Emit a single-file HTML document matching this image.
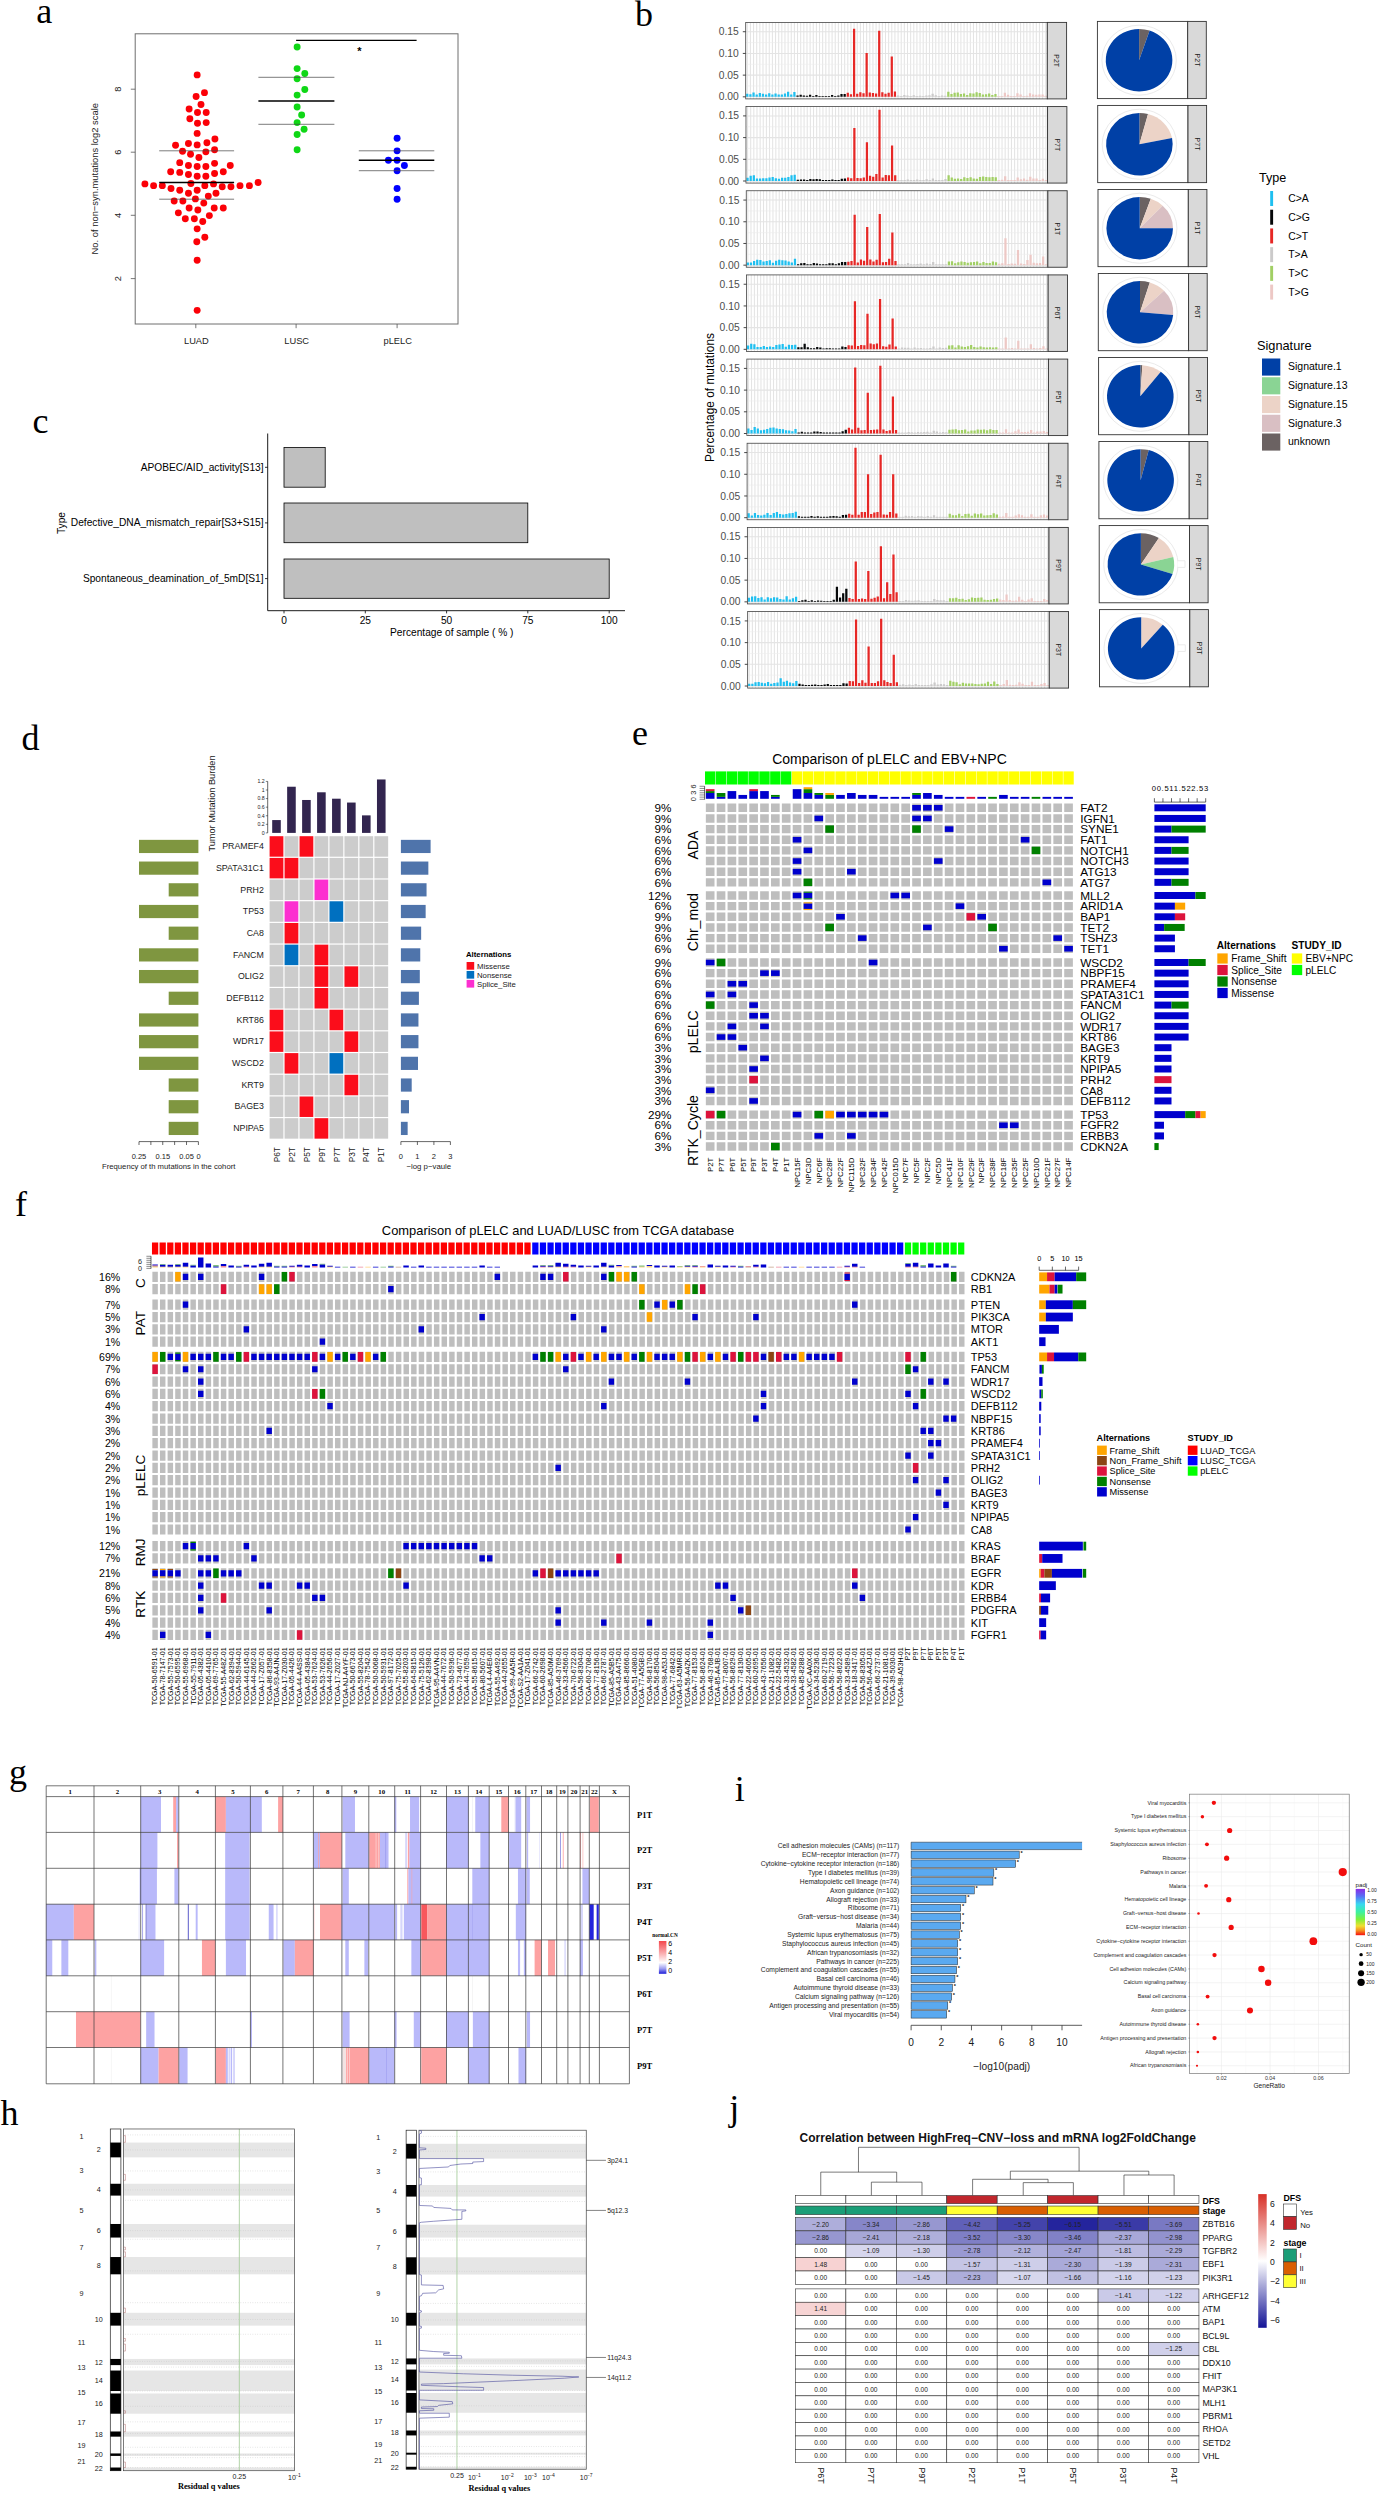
<!DOCTYPE html>
<html lang="en"><head><meta charset="utf-8"><title>Figure</title>
<style>
html,body{margin:0;padding:0;background:#fff;}
body{width:1378px;height:2494px;overflow:hidden;}
svg{display:block;font-family:"Liberation Sans", Arial, Helvetica, sans-serif;}
svg .sf{font-family:"Liberation Serif", "Times New Roman", serif;}
</style></head><body>
<svg width="1378" height="2494" viewBox="0 0 1378 2494">
<rect x="0" y="0" width="1378" height="2494" fill="#fff"/>
<g id="pa"><text x="36.3" y="23.4" font-size="36" class="sf">a</text>
<rect x="135.2" y="33.8" width="322.8" height="290.2" fill="#fff" stroke="#6e6e6e" stroke-width="1"/>
<line x1="130.8" y1="89.2" x2="135.2" y2="89.2" stroke="#555" stroke-width="0.8"/>
<text x="121.3" y="89.2" font-size="9.3" text-anchor="middle" fill="#222" transform="rotate(-90 121.3 89.2)">8</text>
<line x1="130.8" y1="152.2" x2="135.2" y2="152.2" stroke="#555" stroke-width="0.8"/>
<text x="121.3" y="152.2" font-size="9.3" text-anchor="middle" fill="#222" transform="rotate(-90 121.3 152.2)">6</text>
<line x1="130.8" y1="215.3" x2="135.2" y2="215.3" stroke="#555" stroke-width="0.8"/>
<text x="121.3" y="215.3" font-size="9.3" text-anchor="middle" fill="#222" transform="rotate(-90 121.3 215.3)">4</text>
<line x1="130.8" y1="278.6" x2="135.2" y2="278.6" stroke="#555" stroke-width="0.8"/>
<text x="121.3" y="278.6" font-size="9.3" text-anchor="middle" fill="#222" transform="rotate(-90 121.3 278.6)">2</text>
<text x="97.9" y="178.7" font-size="9.4" text-anchor="middle" fill="#222" transform="rotate(-90 97.9 178.7)">No. of non−syn.mutations log2 scale</text>
<line x1="195.8" y1="324" x2="195.8" y2="328.2" stroke="#555" stroke-width="0.8"/>
<text x="196.4" y="344.2" font-size="9.3" text-anchor="middle" fill="#222">LUAD</text>
<line x1="296.1" y1="324" x2="296.1" y2="328.2" stroke="#555" stroke-width="0.8"/>
<text x="296.7" y="344.2" font-size="9.3" text-anchor="middle" fill="#222">LUSC</text>
<line x1="397.1" y1="324" x2="397.1" y2="328.2" stroke="#555" stroke-width="0.8"/>
<text x="397.7" y="344.2" font-size="9.3" text-anchor="middle" fill="#222">pLELC</text>
<g fill="#fb0007"><circle cx="197.16" cy="74.89" r="3.45"/><circle cx="204.47" cy="92.66" r="3.45"/><circle cx="196.11" cy="96.49" r="3.45"/><circle cx="200.99" cy="104.5" r="3.45"/><circle cx="189.14" cy="109.03" r="3.45"/><circle cx="197.5" cy="112.51" r="3.45"/><circle cx="206.21" cy="112.51" r="3.45"/><circle cx="189.84" cy="118.78" r="3.45"/><circle cx="197.5" cy="123.31" r="3.45"/><circle cx="206.21" cy="122.61" r="3.45"/><circle cx="197.16" cy="133.41" r="3.45"/><circle cx="214.92" cy="138.98" r="3.45"/><circle cx="188.45" cy="143.51" r="3.45"/><circle cx="197.16" cy="144.91" r="3.45"/><circle cx="206.91" cy="142.82" r="3.45"/><circle cx="175.56" cy="145.25" r="3.45"/><circle cx="182.53" cy="151.18" r="3.45"/><circle cx="190.54" cy="154.31" r="3.45"/><circle cx="198.9" cy="157.45" r="3.45"/><circle cx="205.86" cy="151.87" r="3.45"/><circle cx="214.57" cy="149.78" r="3.45"/><circle cx="179.74" cy="162.67" r="3.45"/><circle cx="188.45" cy="165.46" r="3.45"/><circle cx="197.16" cy="166.5" r="3.45"/><circle cx="205.86" cy="166.5" r="3.45"/><circle cx="214.57" cy="163.37" r="3.45"/><circle cx="230.25" cy="165.46" r="3.45"/><circle cx="170.68" cy="171.73" r="3.45"/><circle cx="179.74" cy="172.42" r="3.45"/><circle cx="188.45" cy="174.51" r="3.45"/><circle cx="197.16" cy="176.26" r="3.45"/><circle cx="205.86" cy="176.26" r="3.45"/><circle cx="214.57" cy="173.47" r="3.45"/><circle cx="223.28" cy="171.73" r="3.45"/><circle cx="144.91" cy="183.92" r="3.45"/><circle cx="153.61" cy="185.66" r="3.45"/><circle cx="162.32" cy="185.66" r="3.45"/><circle cx="171.03" cy="188.45" r="3.45"/><circle cx="179.74" cy="190.19" r="3.45"/><circle cx="188.45" cy="193.32" r="3.45"/><circle cx="197.16" cy="190.19" r="3.45"/><circle cx="190.89" cy="183.57" r="3.45"/><circle cx="204.82" cy="185.66" r="3.45"/><circle cx="213.53" cy="183.92" r="3.45"/><circle cx="222.24" cy="186.71" r="3.45"/><circle cx="230.94" cy="186.71" r="3.45"/><circle cx="240" cy="185.66" r="3.45"/><circle cx="249.4" cy="185.66" r="3.45"/><circle cx="258.11" cy="182.53" r="3.45"/><circle cx="215.97" cy="193.32" r="3.45"/><circle cx="208.3" cy="196.11" r="3.45"/><circle cx="195.41" cy="198.9" r="3.45"/><circle cx="203.77" cy="203.08" r="3.45"/><circle cx="174.17" cy="200.99" r="3.45"/><circle cx="182.87" cy="200.99" r="3.45"/><circle cx="189.14" cy="207.95" r="3.45"/><circle cx="197.85" cy="210.04" r="3.45"/><circle cx="209.35" cy="215.62" r="3.45"/><circle cx="214.22" cy="207.95" r="3.45"/><circle cx="223.28" cy="207.95" r="3.45"/><circle cx="178.35" cy="212.83" r="3.45"/><circle cx="185.31" cy="218.75" r="3.45"/><circle cx="194.37" cy="218.75" r="3.45"/><circle cx="202.73" cy="221.54" r="3.45"/><circle cx="197.16" cy="228.85" r="3.45"/><circle cx="204.82" cy="237.21" r="3.45"/><circle cx="196.81" cy="241.74" r="3.45"/><circle cx="197.16" cy="260.2" r="3.45"/><circle cx="197.16" cy="310.36" r="3.45"/></g>
<g fill="#0fd716"><circle cx="297.13" cy="47.02" r="3.45"/><circle cx="297.13" cy="68.62" r="3.45"/><circle cx="304.79" cy="73.5" r="3.45"/><circle cx="297.13" cy="78.72" r="3.45"/><circle cx="304.79" cy="89.52" r="3.45"/><circle cx="297.13" cy="95.09" r="3.45"/><circle cx="297.13" cy="106.94" r="3.45"/><circle cx="301.65" cy="114.95" r="3.45"/><circle cx="297.13" cy="122.61" r="3.45"/><circle cx="304.09" cy="129.23" r="3.45"/><circle cx="297.13" cy="134.46" r="3.45"/><circle cx="297.13" cy="149.78" r="3.45"/></g>
<g fill="#0000ff"><circle cx="397.1" cy="138.29" r="3.45"/><circle cx="397.1" cy="150.83" r="3.45"/><circle cx="388.39" cy="160.23" r="3.45"/><circle cx="397.1" cy="160.23" r="3.45"/><circle cx="404.41" cy="165.46" r="3.45"/><circle cx="397.1" cy="170.68" r="3.45"/><circle cx="397.1" cy="188.45" r="3.45"/><circle cx="397.1" cy="199.25" r="3.45"/></g>
<line x1="159.2" y1="182.5" x2="234.1" y2="182.5" stroke="#000" stroke-width="1.4"/>
<line x1="159.2" y1="150.8" x2="234.1" y2="150.8" stroke="#444" stroke-width="0.7"/>
<line x1="159.2" y1="199.2" x2="234.1" y2="199.2" stroke="#444" stroke-width="0.7"/>
<line x1="258.4" y1="101" x2="334.4" y2="101" stroke="#000" stroke-width="1.4"/>
<line x1="258.4" y1="77.3" x2="334.4" y2="77.3" stroke="#444" stroke-width="0.7"/>
<line x1="258.4" y1="124.3" x2="334.4" y2="124.3" stroke="#444" stroke-width="0.7"/>
<line x1="358.8" y1="160.2" x2="434.3" y2="160.2" stroke="#000" stroke-width="1.4"/>
<line x1="358.8" y1="150.8" x2="434.3" y2="150.8" stroke="#444" stroke-width="0.7"/>
<line x1="358.8" y1="170.7" x2="434.3" y2="170.7" stroke="#444" stroke-width="0.7"/>
<line x1="296.1" y1="40.4" x2="416.6" y2="40.4" stroke="#000" stroke-width="1.3"/>
<text x="359.5" y="55" font-size="11" text-anchor="middle" font-weight="bold">*</text></g>
<g id="pb"><text x="635" y="25.5" font-size="36" class="sf">b</text>
<text x="0" y="0" font-size="11.9" text-anchor="middle" transform="translate(713.6 397.5) scale(1.08 1) rotate(-90)">Percentage of mutations</text>
<rect x="745.7" y="22.4" width="301.6" height="76.5" fill="#fff"/>
<path d="M747.27 22.4V98.9M750.41 22.4V98.9M753.55 22.4V98.9M756.7 22.4V98.9M759.84 22.4V98.9M762.98 22.4V98.9M766.12 22.4V98.9M769.26 22.4V98.9M772.4 22.4V98.9M775.55 22.4V98.9M778.69 22.4V98.9M781.83 22.4V98.9M784.97 22.4V98.9M788.11 22.4V98.9M791.25 22.4V98.9M794.4 22.4V98.9M797.54 22.4V98.9M800.68 22.4V98.9M803.82 22.4V98.9M806.96 22.4V98.9M810.1 22.4V98.9M813.25 22.4V98.9M816.39 22.4V98.9M819.53 22.4V98.9M822.67 22.4V98.9M825.81 22.4V98.9M828.95 22.4V98.9M832.1 22.4V98.9M835.24 22.4V98.9M838.38 22.4V98.9M841.52 22.4V98.9M844.66 22.4V98.9M847.8 22.4V98.9M850.95 22.4V98.9M854.09 22.4V98.9M857.23 22.4V98.9M860.37 22.4V98.9M863.51 22.4V98.9M866.65 22.4V98.9M869.8 22.4V98.9M872.94 22.4V98.9M876.08 22.4V98.9M879.22 22.4V98.9M882.36 22.4V98.9M885.5 22.4V98.9M888.65 22.4V98.9M891.79 22.4V98.9M894.93 22.4V98.9M898.07 22.4V98.9M901.21 22.4V98.9M904.35 22.4V98.9M907.5 22.4V98.9M910.64 22.4V98.9M913.78 22.4V98.9M916.92 22.4V98.9M920.06 22.4V98.9M923.2 22.4V98.9M926.35 22.4V98.9M929.49 22.4V98.9M932.63 22.4V98.9M935.77 22.4V98.9M938.91 22.4V98.9M942.05 22.4V98.9M945.2 22.4V98.9M948.34 22.4V98.9M951.48 22.4V98.9M954.62 22.4V98.9M957.76 22.4V98.9M960.9 22.4V98.9M964.05 22.4V98.9M967.19 22.4V98.9M970.33 22.4V98.9M973.47 22.4V98.9M976.61 22.4V98.9M979.75 22.4V98.9M982.9 22.4V98.9M986.04 22.4V98.9M989.18 22.4V98.9M992.32 22.4V98.9M995.46 22.4V98.9M998.6 22.4V98.9M1001.75 22.4V98.9M1004.89 22.4V98.9M1008.03 22.4V98.9M1011.17 22.4V98.9M1014.31 22.4V98.9M1017.45 22.4V98.9M1020.6 22.4V98.9M1023.74 22.4V98.9M1026.88 22.4V98.9M1030.02 22.4V98.9M1033.16 22.4V98.9M1036.3 22.4V98.9M1039.45 22.4V98.9M1042.59 22.4V98.9M1045.73 22.4V98.9M745.7 96.83H1047.3M745.7 75.13H1047.3M745.7 53.43H1047.3M745.7 31.73H1047.3" fill="none" stroke="#e4e4e4" stroke-width="1.05"/>
<path d="M745.7 85.98H1047.3M745.7 64.28H1047.3M745.7 42.58H1047.3" fill="none" stroke="#ececec" stroke-width="0.6"/>
<path d="M747.27 96.83v-3.02M750.41 96.83v-2.49M753.55 96.83v-4.28M756.7 96.83v-2.29M759.84 96.83v-3.81M762.98 96.83v-3.17M766.12 96.83v-2.26M769.26 96.83v-3.7M772.4 96.83v-2.22M775.55 96.83v-3.42M778.69 96.83v-2.29M781.83 96.83v-2.33M784.97 96.83v-3.38M788.11 96.83v-5.05M791.25 96.83v-2.41M794.4 96.83v-4.86" fill="none" stroke="#1ebff0" stroke-width="2.24"/>
<path d="M797.54 96.83v-1.43M800.68 96.83v-2.13M803.82 96.83v-1.33M806.96 96.83v-0.98M810.1 96.83v-2.2M813.25 96.83v-0.9M816.39 96.83v-1.93M819.53 96.83v-0.9M822.67 96.83v-0.9M825.81 96.83v-0.9M828.95 96.83v-0.9M832.1 96.83v-1.83M835.24 96.83v-0.9M838.38 96.83v-1.34M841.52 96.83v-2.78M844.66 96.83v-2.84" fill="none" stroke="#050708" stroke-width="2.24"/>
<path d="M847.8 96.83v-4.09M850.95 96.83v-2.69M854.09 96.83v-68.14M857.23 96.83v-3.02M860.37 96.83v-4.58M863.51 96.83v-3.68M866.65 96.83v-43.83M869.8 96.83v-4.23M872.94 96.83v-3.77M876.08 96.83v-3.28M879.22 96.83v-65.97M882.36 96.83v-4.65M885.5 96.83v-3.12M888.65 96.83v-4.19M891.79 96.83v-40.36M894.93 96.83v-5.34" fill="none" stroke="#e62725" stroke-width="2.24"/>
<path d="M898.07 96.83v-1.41M901.21 96.83v-0.9M904.35 96.83v-1.91M907.5 96.83v-1.4M910.64 96.83v-0.9M913.78 96.83v-1.47M916.92 96.83v-0.9M920.06 96.83v-0.98M923.2 96.83v-0.9M926.35 96.83v-1.3M929.49 96.83v-1.48M932.63 96.83v-3.15M935.77 96.83v-1.7M938.91 96.83v-0.9M942.05 96.83v-1.35M945.2 96.83v-1.16" fill="none" stroke="#cbcaca" stroke-width="2.24"/>
<path d="M948.34 96.83v-4.96M951.48 96.83v-2.75M954.62 96.83v-3.98M957.76 96.83v-4.36M960.9 96.83v-2.81M964.05 96.83v-3.39M967.19 96.83v-1.81M970.33 96.83v-3.52M973.47 96.83v-3.34M976.61 96.83v-4.53M979.75 96.83v-3.92M982.9 96.83v-2.29M986.04 96.83v-2.55M989.18 96.83v-3.41M992.32 96.83v-1.76M995.46 96.83v-2.77" fill="none" stroke="#a1cf64" stroke-width="2.24"/>
<path d="M998.6 96.83v-0.9M1001.75 96.83v-0.9M1004.89 96.83v-4.06M1008.03 96.83v-1.97M1011.17 96.83v-0.9M1014.31 96.83v-0.9M1017.45 96.83v-3.69M1020.6 96.83v-2.25M1023.74 96.83v-0.9M1026.88 96.83v-1.2M1030.02 96.83v-3.56M1033.16 96.83v-2.28M1036.3 96.83v-2.11M1039.45 96.83v-2.23M1042.59 96.83v-2.32M1045.73 96.83v-1.13" fill="none" stroke="#edc8c5" stroke-width="2.24"/>
<rect x="745.7" y="22.4" width="301.6" height="76.5" fill="none" stroke="#444" stroke-width="0.8"/>
<rect x="1047.3" y="22.4" width="19.3" height="76.5" fill="#d9d9d9" stroke="#333" stroke-width="0.9"/>
<text x="1056.9" y="60.65" font-size="7" text-anchor="middle" fill="#1a1a1a" transform="rotate(90 1056.9 60.65)" dy="2.5">P2T</text>
<line x1="742.8" y1="96.83" x2="745.7" y2="96.83" stroke="#333" stroke-width="0.9"/>
<text x="738.8" y="100.43" font-size="10.1" text-anchor="end" fill="#4d4d4d" transform="translate(738.8 96.83) scale(1.02 1) translate(-738.8 -96.83)">0.00</text>
<line x1="742.8" y1="75.13" x2="745.7" y2="75.13" stroke="#333" stroke-width="0.9"/>
<text x="738.8" y="78.73" font-size="10.1" text-anchor="end" fill="#4d4d4d" transform="translate(738.8 75.13) scale(1.02 1) translate(-738.8 -75.13)">0.05</text>
<line x1="742.8" y1="53.43" x2="745.7" y2="53.43" stroke="#333" stroke-width="0.9"/>
<text x="738.8" y="57.03" font-size="10.1" text-anchor="end" fill="#4d4d4d" transform="translate(738.8 53.43) scale(1.02 1) translate(-738.8 -53.43)">0.10</text>
<line x1="742.8" y1="31.73" x2="745.7" y2="31.73" stroke="#333" stroke-width="0.9"/>
<text x="738.8" y="35.33" font-size="10.1" text-anchor="end" fill="#4d4d4d" transform="translate(738.8 31.73) scale(1.02 1) translate(-738.8 -31.73)">0.15</text>
<rect x="1097.4" y="21.4" width="90.3" height="77.2" fill="#fff" stroke="#333" stroke-width="0.9"/>
<rect x="1187.7" y="21.4" width="18.6" height="77.2" fill="#d9d9d9" stroke="#333" stroke-width="0.9"/>
<text x="1197" y="60" font-size="7" text-anchor="middle" fill="#1a1a1a" transform="rotate(90 1197 60)" dy="2.5">P2T</text>
<ellipse cx="1139.1" cy="60.2" rx="37.2" ry="35" fill="none" stroke="#ebebeb" stroke-width="1"/>
<path d="M1139.1 60.2L1139.1 29A33.3 31.2 0 0 1 1149.61 30.6Z" fill="#6b6262"/>
<path d="M1139.1 60.2L1149.61 30.6A33.3 31.2 0 1 1 1139.1 29Z" fill="#0040a6"/>
<rect x="745.98" y="106.57" width="301.6" height="76.5" fill="#fff"/>
<path d="M747.55 106.57V183.07M750.69 106.57V183.07M753.83 106.57V183.07M756.98 106.57V183.07M760.12 106.57V183.07M763.26 106.57V183.07M766.4 106.57V183.07M769.54 106.57V183.07M772.68 106.57V183.07M775.83 106.57V183.07M778.97 106.57V183.07M782.11 106.57V183.07M785.25 106.57V183.07M788.39 106.57V183.07M791.53 106.57V183.07M794.68 106.57V183.07M797.82 106.57V183.07M800.96 106.57V183.07M804.1 106.57V183.07M807.24 106.57V183.07M810.38 106.57V183.07M813.53 106.57V183.07M816.67 106.57V183.07M819.81 106.57V183.07M822.95 106.57V183.07M826.09 106.57V183.07M829.23 106.57V183.07M832.38 106.57V183.07M835.52 106.57V183.07M838.66 106.57V183.07M841.8 106.57V183.07M844.94 106.57V183.07M848.08 106.57V183.07M851.23 106.57V183.07M854.37 106.57V183.07M857.51 106.57V183.07M860.65 106.57V183.07M863.79 106.57V183.07M866.93 106.57V183.07M870.08 106.57V183.07M873.22 106.57V183.07M876.36 106.57V183.07M879.5 106.57V183.07M882.64 106.57V183.07M885.78 106.57V183.07M888.93 106.57V183.07M892.07 106.57V183.07M895.21 106.57V183.07M898.35 106.57V183.07M901.49 106.57V183.07M904.63 106.57V183.07M907.78 106.57V183.07M910.92 106.57V183.07M914.06 106.57V183.07M917.2 106.57V183.07M920.34 106.57V183.07M923.48 106.57V183.07M926.63 106.57V183.07M929.77 106.57V183.07M932.91 106.57V183.07M936.05 106.57V183.07M939.19 106.57V183.07M942.33 106.57V183.07M945.48 106.57V183.07M948.62 106.57V183.07M951.76 106.57V183.07M954.9 106.57V183.07M958.04 106.57V183.07M961.18 106.57V183.07M964.33 106.57V183.07M967.47 106.57V183.07M970.61 106.57V183.07M973.75 106.57V183.07M976.89 106.57V183.07M980.03 106.57V183.07M983.18 106.57V183.07M986.32 106.57V183.07M989.46 106.57V183.07M992.6 106.57V183.07M995.74 106.57V183.07M998.88 106.57V183.07M1002.03 106.57V183.07M1005.17 106.57V183.07M1008.31 106.57V183.07M1011.45 106.57V183.07M1014.59 106.57V183.07M1017.73 106.57V183.07M1020.88 106.57V183.07M1024.02 106.57V183.07M1027.16 106.57V183.07M1030.3 106.57V183.07M1033.44 106.57V183.07M1036.58 106.57V183.07M1039.73 106.57V183.07M1042.87 106.57V183.07M1046.01 106.57V183.07M745.98 181H1047.58M745.98 159.3H1047.58M745.98 137.6H1047.58M745.98 115.9H1047.58" fill="none" stroke="#e4e4e4" stroke-width="1.05"/>
<path d="M745.98 170.15H1047.58M745.98 148.45H1047.58M745.98 126.75H1047.58" fill="none" stroke="#ececec" stroke-width="0.6"/>
<path d="M747.55 181v-3.14M750.69 181v-5.31M753.83 181v-5.66M756.98 181v-2.49M760.12 181v-2.56M763.26 181v-2.72M766.4 181v-2.73M769.54 181v-3.61M772.68 181v-4.02M775.83 181v-2.82M778.97 181v-2.17M782.11 181v-3.36M785.25 181v-3.18M788.39 181v-3.93M791.53 181v-5.64M794.68 181v-6.18" fill="none" stroke="#1ebff0" stroke-width="2.24"/>
<path d="M797.82 181v-1.2M800.96 181v-1.41M804.1 181v-1.53M807.24 181v-0.9M810.38 181v-2.02M813.53 181v-1.75M816.67 181v-1.97M819.81 181v-1.79M822.95 181v-0.97M826.09 181v-0.99M829.23 181v-0.9M832.38 181v-1.44M835.52 181v-0.9M838.66 181v-0.9M841.8 181v-2.22M844.94 181v-2.53" fill="none" stroke="#050708" stroke-width="2.24"/>
<path d="M848.08 181v-3.4M851.23 181v-2.67M854.37 181v-52.95M857.51 181v-2.88M860.65 181v-2.77M863.79 181v-3.48M866.93 181v-38.63M870.08 181v-5.34M873.22 181v-4.33M876.36 181v-6.94M879.5 181v-71.18M882.64 181v-3.43M885.78 181v-6.08M888.93 181v-5.64M892.07 181v-35.59M895.21 181v-5.83" fill="none" stroke="#e62725" stroke-width="2.24"/>
<path d="M898.35 181v-0.94M901.49 181v-0.97M904.63 181v-0.9M907.78 181v-1.39M910.92 181v-0.9M914.06 181v-0.9M917.2 181v-1.61M920.34 181v-0.9M923.48 181v-0.9M926.63 181v-1.85M929.77 181v-1.05M932.91 181v-2.5M936.05 181v-1.07M939.19 181v-0.9M942.33 181v-1.05M945.48 181v-1.91" fill="none" stroke="#cbcaca" stroke-width="2.24"/>
<path d="M948.62 181v-5.64M951.76 181v-3.5M954.9 181v-2.23M958.04 181v-2.5M961.18 181v-2.01M964.33 181v-3.75M967.47 181v-2.98M970.61 181v-3.78M973.75 181v-2.4M976.89 181v-2.14M980.03 181v-3.89M983.18 181v-4.5M986.32 181v-4.03M989.46 181v-3.87M992.6 181v-3.91M995.74 181v-3.64" fill="none" stroke="#a1cf64" stroke-width="2.24"/>
<path d="M998.88 181v-0.9M1002.03 181v-1.36M1005.17 181v-4.83M1008.31 181v-0.9M1011.45 181v-0.9M1014.59 181v-0.9M1017.73 181v-3.44M1020.88 181v-1.78M1024.02 181v-2.48M1027.16 181v-1.2M1030.3 181v-4.23M1033.44 181v-2.57M1036.58 181v-2.48M1039.73 181v-1.02M1042.87 181v-2.24M1046.01 181v-0.9" fill="none" stroke="#edc8c5" stroke-width="2.24"/>
<rect x="745.98" y="106.57" width="301.6" height="76.5" fill="none" stroke="#444" stroke-width="0.8"/>
<rect x="1047.58" y="106.57" width="19.3" height="76.5" fill="#d9d9d9" stroke="#333" stroke-width="0.9"/>
<text x="1057.18" y="144.82" font-size="7" text-anchor="middle" fill="#1a1a1a" transform="rotate(90 1057.18 144.82)" dy="2.5">P7T</text>
<line x1="743.08" y1="181" x2="745.98" y2="181" stroke="#333" stroke-width="0.9"/>
<text x="739.08" y="184.6" font-size="10.1" text-anchor="end" fill="#4d4d4d" transform="translate(739.08 181) scale(1.02 1) translate(-739.08 -181)">0.00</text>
<line x1="743.08" y1="159.3" x2="745.98" y2="159.3" stroke="#333" stroke-width="0.9"/>
<text x="739.08" y="162.9" font-size="10.1" text-anchor="end" fill="#4d4d4d" transform="translate(739.08 159.3) scale(1.02 1) translate(-739.08 -159.3)">0.05</text>
<line x1="743.08" y1="137.6" x2="745.98" y2="137.6" stroke="#333" stroke-width="0.9"/>
<text x="739.08" y="141.2" font-size="10.1" text-anchor="end" fill="#4d4d4d" transform="translate(739.08 137.6) scale(1.02 1) translate(-739.08 -137.6)">0.10</text>
<line x1="743.08" y1="115.9" x2="745.98" y2="115.9" stroke="#333" stroke-width="0.9"/>
<text x="739.08" y="119.5" font-size="10.1" text-anchor="end" fill="#4d4d4d" transform="translate(739.08 115.9) scale(1.02 1) translate(-739.08 -115.9)">0.15</text>
<rect x="1097.7" y="105.43" width="90.3" height="77.2" fill="#fff" stroke="#333" stroke-width="0.9"/>
<rect x="1188" y="105.43" width="18.6" height="77.2" fill="#d9d9d9" stroke="#333" stroke-width="0.9"/>
<text x="1197.3" y="144.03" font-size="7" text-anchor="middle" fill="#1a1a1a" transform="rotate(90 1197.3 144.03)" dy="2.5">P7T</text>
<ellipse cx="1139.4" cy="144.23" rx="37.2" ry="35" fill="none" stroke="#ebebeb" stroke-width="1"/>
<path d="M1139.4 144.23L1139.4 113.03A33.3 31.2 0 0 1 1148.02 114.09Z" fill="#6b6262"/>
<path d="M1139.4 144.23L1148.02 114.09A33.3 31.2 0 0 1 1172.05 138.12Z" fill="#ecd3c7"/>
<path d="M1139.4 144.23L1172.05 138.12A33.3 31.2 0 1 1 1139.4 113.03Z" fill="#0040a6"/>
<rect x="746.26" y="190.74" width="301.6" height="76.5" fill="#fff"/>
<path d="M747.83 190.74V267.24M750.97 190.74V267.24M754.11 190.74V267.24M757.26 190.74V267.24M760.4 190.74V267.24M763.54 190.74V267.24M766.68 190.74V267.24M769.82 190.74V267.24M772.96 190.74V267.24M776.11 190.74V267.24M779.25 190.74V267.24M782.39 190.74V267.24M785.53 190.74V267.24M788.67 190.74V267.24M791.81 190.74V267.24M794.96 190.74V267.24M798.1 190.74V267.24M801.24 190.74V267.24M804.38 190.74V267.24M807.52 190.74V267.24M810.66 190.74V267.24M813.81 190.74V267.24M816.95 190.74V267.24M820.09 190.74V267.24M823.23 190.74V267.24M826.37 190.74V267.24M829.51 190.74V267.24M832.66 190.74V267.24M835.8 190.74V267.24M838.94 190.74V267.24M842.08 190.74V267.24M845.22 190.74V267.24M848.36 190.74V267.24M851.51 190.74V267.24M854.65 190.74V267.24M857.79 190.74V267.24M860.93 190.74V267.24M864.07 190.74V267.24M867.21 190.74V267.24M870.36 190.74V267.24M873.5 190.74V267.24M876.64 190.74V267.24M879.78 190.74V267.24M882.92 190.74V267.24M886.06 190.74V267.24M889.21 190.74V267.24M892.35 190.74V267.24M895.49 190.74V267.24M898.63 190.74V267.24M901.77 190.74V267.24M904.91 190.74V267.24M908.06 190.74V267.24M911.2 190.74V267.24M914.34 190.74V267.24M917.48 190.74V267.24M920.62 190.74V267.24M923.76 190.74V267.24M926.91 190.74V267.24M930.05 190.74V267.24M933.19 190.74V267.24M936.33 190.74V267.24M939.47 190.74V267.24M942.61 190.74V267.24M945.76 190.74V267.24M948.9 190.74V267.24M952.04 190.74V267.24M955.18 190.74V267.24M958.32 190.74V267.24M961.46 190.74V267.24M964.61 190.74V267.24M967.75 190.74V267.24M970.89 190.74V267.24M974.03 190.74V267.24M977.17 190.74V267.24M980.31 190.74V267.24M983.46 190.74V267.24M986.6 190.74V267.24M989.74 190.74V267.24M992.88 190.74V267.24M996.02 190.74V267.24M999.16 190.74V267.24M1002.31 190.74V267.24M1005.45 190.74V267.24M1008.59 190.74V267.24M1011.73 190.74V267.24M1014.87 190.74V267.24M1018.01 190.74V267.24M1021.16 190.74V267.24M1024.3 190.74V267.24M1027.44 190.74V267.24M1030.58 190.74V267.24M1033.72 190.74V267.24M1036.86 190.74V267.24M1040.01 190.74V267.24M1043.15 190.74V267.24M1046.29 190.74V267.24M746.26 265.17H1047.86M746.26 243.47H1047.86M746.26 221.77H1047.86M746.26 200.07H1047.86" fill="none" stroke="#e4e4e4" stroke-width="1.05"/>
<path d="M746.26 254.32H1047.86M746.26 232.62H1047.86M746.26 210.92H1047.86" fill="none" stroke="#ececec" stroke-width="0.6"/>
<path d="M747.83 265.17v-2.62M750.97 265.17v-2.64M754.11 265.17v-4.17M757.26 265.17v-5.39M760.4 265.17v-5.11M763.54 265.17v-3.59M766.68 265.17v-4.29M769.82 265.17v-4.93M772.96 265.17v-2.32M776.11 265.17v-4.32M779.25 265.17v-5.43M782.39 265.17v-4.85M785.53 265.17v-4.71M788.67 265.17v-3.58M791.81 265.17v-2.56M794.96 265.17v-6.46" fill="none" stroke="#1ebff0" stroke-width="2.24"/>
<path d="M798.1 265.17v-0.9M801.24 265.17v-1.8M804.38 265.17v-2.19M807.52 265.17v-0.98M810.66 265.17v-0.99M813.81 265.17v-2.13M816.95 265.17v-1.63M820.09 265.17v-0.9M823.23 265.17v-0.9M826.37 265.17v-0.9M829.51 265.17v-2.03M832.66 265.17v-1.81M835.8 265.17v-0.9M838.94 265.17v-1.86M842.08 265.17v-3.23M845.22 265.17v-3.28" fill="none" stroke="#050708" stroke-width="2.24"/>
<path d="M848.36 265.17v-3.44M851.51 265.17v-4.1M854.65 265.17v-50.34M857.79 265.17v-2.62M860.93 265.17v-5.74M864.07 265.17v-4.46M867.21 265.17v-38.19M870.36 265.17v-5.58M873.5 265.17v-3.7M876.64 265.17v-5.33M879.78 265.17v-51.21M882.92 265.17v-3.03M886.06 265.17v-3.15M889.21 265.17v-6.51M892.35 265.17v-32.55M895.49 265.17v-4.23" fill="none" stroke="#e62725" stroke-width="2.24"/>
<path d="M898.63 265.17v-0.9M901.77 265.17v-0.9M904.91 265.17v-0.9M908.06 265.17v-2.09M911.2 265.17v-0.9M914.34 265.17v-0.93M917.48 265.17v-1.14M920.62 265.17v-1.76M923.76 265.17v-0.9M926.91 265.17v-1.78M930.05 265.17v-1M933.19 265.17v-3.09M936.33 265.17v-1.04M939.47 265.17v-0.9M942.61 265.17v-0.9M945.76 265.17v-0.9" fill="none" stroke="#cbcaca" stroke-width="2.24"/>
<path d="M948.9 265.17v-3.59M952.04 265.17v-3.84M955.18 265.17v-2.02M958.32 265.17v-2.8M961.46 265.17v-3.59M964.61 265.17v-3.05M967.75 265.17v-2.39M970.89 265.17v-2.94M974.03 265.17v-3.05M977.17 265.17v-3.79M980.31 265.17v-1.89M983.46 265.17v-3.06M986.6 265.17v-2.2M989.74 265.17v-2.27M992.88 265.17v-3.75M996.02 265.17v-2.9" fill="none" stroke="#a1cf64" stroke-width="2.24"/>
<path d="M999.16 265.17v-1.46M1002.31 265.17v-1.95M1005.45 265.17v-26.91M1008.59 265.17v-1.19M1011.73 265.17v-1.58M1014.87 265.17v-1.33M1018.01 265.17v-15.19M1021.16 265.17v-1.78M1024.3 265.17v-1.21M1027.44 265.17v-5.21M1030.58 265.17v-10.42M1033.72 265.17v-2.44M1036.86 265.17v-1.8M1040.01 265.17v-2.26M1043.15 265.17v-8.68M1046.29 265.17v-0.9" fill="none" stroke="#edc8c5" stroke-width="2.24"/>
<rect x="746.26" y="190.74" width="301.6" height="76.5" fill="none" stroke="#444" stroke-width="0.8"/>
<rect x="1047.86" y="190.74" width="19.3" height="76.5" fill="#d9d9d9" stroke="#333" stroke-width="0.9"/>
<text x="1057.46" y="228.99" font-size="7" text-anchor="middle" fill="#1a1a1a" transform="rotate(90 1057.46 228.99)" dy="2.5">P1T</text>
<line x1="743.36" y1="265.17" x2="746.26" y2="265.17" stroke="#333" stroke-width="0.9"/>
<text x="739.36" y="268.77" font-size="10.1" text-anchor="end" fill="#4d4d4d" transform="translate(739.36 265.17) scale(1.02 1) translate(-739.36 -265.17)">0.00</text>
<line x1="743.36" y1="243.47" x2="746.26" y2="243.47" stroke="#333" stroke-width="0.9"/>
<text x="739.36" y="247.07" font-size="10.1" text-anchor="end" fill="#4d4d4d" transform="translate(739.36 243.47) scale(1.02 1) translate(-739.36 -243.47)">0.05</text>
<line x1="743.36" y1="221.77" x2="746.26" y2="221.77" stroke="#333" stroke-width="0.9"/>
<text x="739.36" y="225.37" font-size="10.1" text-anchor="end" fill="#4d4d4d" transform="translate(739.36 221.77) scale(1.02 1) translate(-739.36 -221.77)">0.10</text>
<line x1="743.36" y1="200.07" x2="746.26" y2="200.07" stroke="#333" stroke-width="0.9"/>
<text x="739.36" y="203.67" font-size="10.1" text-anchor="end" fill="#4d4d4d" transform="translate(739.36 200.07) scale(1.02 1) translate(-739.36 -200.07)">0.15</text>
<rect x="1098" y="189.46" width="90.3" height="77.2" fill="#fff" stroke="#333" stroke-width="0.9"/>
<rect x="1188.3" y="189.46" width="18.6" height="77.2" fill="#d9d9d9" stroke="#333" stroke-width="0.9"/>
<text x="1197.6" y="228.06" font-size="7" text-anchor="middle" fill="#1a1a1a" transform="rotate(90 1197.6 228.06)" dy="2.5">P1T</text>
<ellipse cx="1139.7" cy="228.26" rx="37.2" ry="35" fill="none" stroke="#ebebeb" stroke-width="1"/>
<path d="M1139.7 228.26L1139.7 197.06A33.3 31.2 0 0 1 1150.76 198.83Z" fill="#6b6262"/>
<path d="M1139.7 228.26L1150.76 198.83A33.3 31.2 0 0 1 1162.66 205.67Z" fill="#ecd3c7"/>
<path d="M1139.7 228.26L1162.66 205.67A33.3 31.2 0 0 1 1173 228.26Z" fill="#d9bfc3"/>
<path d="M1139.7 228.26L1173 228.26A33.3 31.2 0 1 1 1139.7 197.06Z" fill="#0040a6"/>
<rect x="746.54" y="274.91" width="301.6" height="76.5" fill="#fff"/>
<path d="M748.11 274.91V351.41M751.25 274.91V351.41M754.39 274.91V351.41M757.54 274.91V351.41M760.68 274.91V351.41M763.82 274.91V351.41M766.96 274.91V351.41M770.1 274.91V351.41M773.24 274.91V351.41M776.39 274.91V351.41M779.53 274.91V351.41M782.67 274.91V351.41M785.81 274.91V351.41M788.95 274.91V351.41M792.09 274.91V351.41M795.24 274.91V351.41M798.38 274.91V351.41M801.52 274.91V351.41M804.66 274.91V351.41M807.8 274.91V351.41M810.94 274.91V351.41M814.09 274.91V351.41M817.23 274.91V351.41M820.37 274.91V351.41M823.51 274.91V351.41M826.65 274.91V351.41M829.79 274.91V351.41M832.94 274.91V351.41M836.08 274.91V351.41M839.22 274.91V351.41M842.36 274.91V351.41M845.5 274.91V351.41M848.64 274.91V351.41M851.79 274.91V351.41M854.93 274.91V351.41M858.07 274.91V351.41M861.21 274.91V351.41M864.35 274.91V351.41M867.49 274.91V351.41M870.64 274.91V351.41M873.78 274.91V351.41M876.92 274.91V351.41M880.06 274.91V351.41M883.2 274.91V351.41M886.34 274.91V351.41M889.49 274.91V351.41M892.63 274.91V351.41M895.77 274.91V351.41M898.91 274.91V351.41M902.05 274.91V351.41M905.19 274.91V351.41M908.34 274.91V351.41M911.48 274.91V351.41M914.62 274.91V351.41M917.76 274.91V351.41M920.9 274.91V351.41M924.04 274.91V351.41M927.19 274.91V351.41M930.33 274.91V351.41M933.47 274.91V351.41M936.61 274.91V351.41M939.75 274.91V351.41M942.89 274.91V351.41M946.04 274.91V351.41M949.18 274.91V351.41M952.32 274.91V351.41M955.46 274.91V351.41M958.6 274.91V351.41M961.74 274.91V351.41M964.89 274.91V351.41M968.03 274.91V351.41M971.17 274.91V351.41M974.31 274.91V351.41M977.45 274.91V351.41M980.59 274.91V351.41M983.74 274.91V351.41M986.88 274.91V351.41M990.02 274.91V351.41M993.16 274.91V351.41M996.3 274.91V351.41M999.44 274.91V351.41M1002.59 274.91V351.41M1005.73 274.91V351.41M1008.87 274.91V351.41M1012.01 274.91V351.41M1015.15 274.91V351.41M1018.29 274.91V351.41M1021.44 274.91V351.41M1024.58 274.91V351.41M1027.72 274.91V351.41M1030.86 274.91V351.41M1034 274.91V351.41M1037.14 274.91V351.41M1040.29 274.91V351.41M1043.43 274.91V351.41M1046.57 274.91V351.41M746.54 349.34H1048.14M746.54 327.64H1048.14M746.54 305.94H1048.14M746.54 284.24H1048.14" fill="none" stroke="#e4e4e4" stroke-width="1.05"/>
<path d="M746.54 338.49H1048.14M746.54 316.79H1048.14M746.54 295.09H1048.14" fill="none" stroke="#ececec" stroke-width="0.6"/>
<path d="M748.11 349.34v-3.9M751.25 349.34v-5.59M754.39 349.34v-5.11M757.54 349.34v-2.45M760.68 349.34v-2.41M763.82 349.34v-3.45M766.96 349.34v-2.29M770.1 349.34v-2.75M773.24 349.34v-2.29M776.39 349.34v-4.36M779.53 349.34v-4.86M782.67 349.34v-5.37M785.81 349.34v-2.5M788.95 349.34v-4.56M792.09 349.34v-4.32M795.24 349.34v-4.63" fill="none" stroke="#1ebff0" stroke-width="2.24"/>
<path d="M798.38 349.34v-1.98M801.52 349.34v-2.18M804.66 349.34v-5.64M807.8 349.34v-2.15M810.94 349.34v-0.98M814.09 349.34v-1.15M817.23 349.34v-2.23M820.37 349.34v-1.87M823.51 349.34v-0.9M826.65 349.34v-1.05M829.79 349.34v-1.2M832.94 349.34v-0.9M836.08 349.34v-0.9M839.22 349.34v-0.9M842.36 349.34v-2.89M845.5 349.34v-2.31" fill="none" stroke="#050708" stroke-width="2.24"/>
<path d="M848.64 349.34v-4.11M851.79 349.34v-3.73M854.93 349.34v-48.17M858.07 349.34v-3.38M861.21 349.34v-4.37M864.35 349.34v-3.97M867.49 349.34v-35.59M870.64 349.34v-5.8M873.78 349.34v-4.99M876.92 349.34v-5.74M880.06 349.34v-50.34M883.2 349.34v-3.18M886.34 349.34v-2.65M889.49 349.34v-4.96M892.63 349.34v-30.81M895.77 349.34v-2.83" fill="none" stroke="#e62725" stroke-width="2.24"/>
<path d="M898.91 349.34v-0.9M902.05 349.34v-1.77M905.19 349.34v-1.59M908.34 349.34v-1.53M911.48 349.34v-0.9M914.62 349.34v-1.79M917.76 349.34v-1.12M920.9 349.34v-1.36M924.04 349.34v-0.9M927.19 349.34v-0.9M930.33 349.34v-1.34M933.47 349.34v-2.92M936.61 349.34v-0.9M939.75 349.34v-1.83M942.89 349.34v-1.24M946.04 349.34v-1.55" fill="none" stroke="#cbcaca" stroke-width="2.24"/>
<path d="M949.18 349.34v-3.78M952.32 349.34v-4.04M955.46 349.34v-1.82M958.6 349.34v-4.06M961.74 349.34v-2.75M964.89 349.34v-2.43M968.03 349.34v-3.04M971.17 349.34v-4.29M974.31 349.34v-2.24M977.45 349.34v-1.93M980.59 349.34v-2.96M983.74 349.34v-2.17M986.88 349.34v-1.89M990.02 349.34v-2M993.16 349.34v-1.79M996.3 349.34v-2.09" fill="none" stroke="#a1cf64" stroke-width="2.24"/>
<path d="M999.44 349.34v-0.91M1002.59 349.34v-0.9M1005.73 349.34v-11.72M1008.87 349.34v-0.9M1012.01 349.34v-1.32M1015.15 349.34v-0.9M1018.29 349.34v-8.68M1021.44 349.34v-0.9M1024.58 349.34v-0.9M1027.72 349.34v-0.9M1030.86 349.34v-5.21M1034 349.34v-1.43M1037.14 349.34v-0.9M1040.29 349.34v-1.26M1043.43 349.34v-3.17M1046.57 349.34v-0.9" fill="none" stroke="#edc8c5" stroke-width="2.24"/>
<rect x="746.54" y="274.91" width="301.6" height="76.5" fill="none" stroke="#444" stroke-width="0.8"/>
<rect x="1048.14" y="274.91" width="19.3" height="76.5" fill="#d9d9d9" stroke="#333" stroke-width="0.9"/>
<text x="1057.74" y="313.16" font-size="7" text-anchor="middle" fill="#1a1a1a" transform="rotate(90 1057.74 313.16)" dy="2.5">P6T</text>
<line x1="743.64" y1="349.34" x2="746.54" y2="349.34" stroke="#333" stroke-width="0.9"/>
<text x="739.64" y="352.94" font-size="10.1" text-anchor="end" fill="#4d4d4d" transform="translate(739.64 349.34) scale(1.02 1) translate(-739.64 -349.34)">0.00</text>
<line x1="743.64" y1="327.64" x2="746.54" y2="327.64" stroke="#333" stroke-width="0.9"/>
<text x="739.64" y="331.24" font-size="10.1" text-anchor="end" fill="#4d4d4d" transform="translate(739.64 327.64) scale(1.02 1) translate(-739.64 -327.64)">0.05</text>
<line x1="743.64" y1="305.94" x2="746.54" y2="305.94" stroke="#333" stroke-width="0.9"/>
<text x="739.64" y="309.54" font-size="10.1" text-anchor="end" fill="#4d4d4d" transform="translate(739.64 305.94) scale(1.02 1) translate(-739.64 -305.94)">0.10</text>
<line x1="743.64" y1="284.24" x2="746.54" y2="284.24" stroke="#333" stroke-width="0.9"/>
<text x="739.64" y="287.84" font-size="10.1" text-anchor="end" fill="#4d4d4d" transform="translate(739.64 284.24) scale(1.02 1) translate(-739.64 -284.24)">0.15</text>
<rect x="1098.3" y="273.49" width="90.3" height="77.2" fill="#fff" stroke="#333" stroke-width="0.9"/>
<rect x="1188.6" y="273.49" width="18.6" height="77.2" fill="#d9d9d9" stroke="#333" stroke-width="0.9"/>
<text x="1197.9" y="312.09" font-size="7" text-anchor="middle" fill="#1a1a1a" transform="rotate(90 1197.9 312.09)" dy="2.5">P6T</text>
<ellipse cx="1140" cy="312.29" rx="37.2" ry="35" fill="none" stroke="#ebebeb" stroke-width="1"/>
<path d="M1140 312.29L1140 281.09A33.3 31.2 0 0 1 1149.79 282.47Z" fill="#6b6262"/>
<path d="M1140 312.29L1149.79 282.47A33.3 31.2 0 0 1 1164.03 290.7Z" fill="#ecd3c7"/>
<path d="M1140 312.29L1164.03 290.7A33.3 31.2 0 0 1 1173.17 315.01Z" fill="#d9bfc3"/>
<path d="M1140 312.29L1173.17 315.01A33.3 31.2 0 1 1 1140 281.09Z" fill="#0040a6"/>
<rect x="746.82" y="359.08" width="301.6" height="76.5" fill="#fff"/>
<path d="M748.39 359.08V435.58M751.53 359.08V435.58M754.67 359.08V435.58M757.82 359.08V435.58M760.96 359.08V435.58M764.1 359.08V435.58M767.24 359.08V435.58M770.38 359.08V435.58M773.52 359.08V435.58M776.67 359.08V435.58M779.81 359.08V435.58M782.95 359.08V435.58M786.09 359.08V435.58M789.23 359.08V435.58M792.37 359.08V435.58M795.52 359.08V435.58M798.66 359.08V435.58M801.8 359.08V435.58M804.94 359.08V435.58M808.08 359.08V435.58M811.22 359.08V435.58M814.37 359.08V435.58M817.51 359.08V435.58M820.65 359.08V435.58M823.79 359.08V435.58M826.93 359.08V435.58M830.07 359.08V435.58M833.22 359.08V435.58M836.36 359.08V435.58M839.5 359.08V435.58M842.64 359.08V435.58M845.78 359.08V435.58M848.92 359.08V435.58M852.07 359.08V435.58M855.21 359.08V435.58M858.35 359.08V435.58M861.49 359.08V435.58M864.63 359.08V435.58M867.77 359.08V435.58M870.92 359.08V435.58M874.06 359.08V435.58M877.2 359.08V435.58M880.34 359.08V435.58M883.48 359.08V435.58M886.62 359.08V435.58M889.77 359.08V435.58M892.91 359.08V435.58M896.05 359.08V435.58M899.19 359.08V435.58M902.33 359.08V435.58M905.47 359.08V435.58M908.62 359.08V435.58M911.76 359.08V435.58M914.9 359.08V435.58M918.04 359.08V435.58M921.18 359.08V435.58M924.32 359.08V435.58M927.47 359.08V435.58M930.61 359.08V435.58M933.75 359.08V435.58M936.89 359.08V435.58M940.03 359.08V435.58M943.17 359.08V435.58M946.32 359.08V435.58M949.46 359.08V435.58M952.6 359.08V435.58M955.74 359.08V435.58M958.88 359.08V435.58M962.02 359.08V435.58M965.17 359.08V435.58M968.31 359.08V435.58M971.45 359.08V435.58M974.59 359.08V435.58M977.73 359.08V435.58M980.87 359.08V435.58M984.02 359.08V435.58M987.16 359.08V435.58M990.3 359.08V435.58M993.44 359.08V435.58M996.58 359.08V435.58M999.72 359.08V435.58M1002.87 359.08V435.58M1006.01 359.08V435.58M1009.15 359.08V435.58M1012.29 359.08V435.58M1015.43 359.08V435.58M1018.57 359.08V435.58M1021.72 359.08V435.58M1024.86 359.08V435.58M1028 359.08V435.58M1031.14 359.08V435.58M1034.28 359.08V435.58M1037.42 359.08V435.58M1040.57 359.08V435.58M1043.71 359.08V435.58M1046.85 359.08V435.58M746.82 433.51H1048.42M746.82 411.81H1048.42M746.82 390.11H1048.42M746.82 368.41H1048.42" fill="none" stroke="#e4e4e4" stroke-width="1.05"/>
<path d="M746.82 422.66H1048.42M746.82 400.96H1048.42M746.82 379.26H1048.42" fill="none" stroke="#ececec" stroke-width="0.6"/>
<path d="M748.39 433.51v-5.02M751.53 433.51v-3.41M754.67 433.51v-6.51M757.82 433.51v-5.09M760.96 433.51v-3.27M764.1 433.51v-3.69M767.24 433.51v-4.44M770.38 433.51v-5.78M773.52 433.51v-6.08M776.67 433.51v-5.08M779.81 433.51v-4.52M782.95 433.51v-4.22M786.09 433.51v-3.31M789.23 433.51v-3.1M792.37 433.51v-2.25M795.52 433.51v-4.6" fill="none" stroke="#1ebff0" stroke-width="2.24"/>
<path d="M798.66 433.51v-0.9M801.8 433.51v-1.67M804.94 433.51v-0.9M808.08 433.51v-0.9M811.22 433.51v-0.9M814.37 433.51v-1.89M817.51 433.51v-1.96M820.65 433.51v-1.52M823.79 433.51v-0.9M826.93 433.51v-0.9M830.07 433.51v-0.9M833.22 433.51v-1.1M836.36 433.51v-0.9M839.5 433.51v-1.07M842.64 433.51v-2.3M845.78 433.51v-3.74" fill="none" stroke="#050708" stroke-width="2.24"/>
<path d="M848.92 433.51v-5.74M852.07 433.51v-4.09M855.21 433.51v-65.97M858.35 433.51v-5.71M861.49 433.51v-3.31M864.63 433.51v-3.46M867.77 433.51v-40.8M870.92 433.51v-3.53M874.06 433.51v-3.84M877.2 433.51v-3.94M880.34 433.51v-67.7M883.48 433.51v-3.94M886.62 433.51v-2.61M889.77 433.51v-3.18M892.91 433.51v-36.89M896.05 433.51v-3.59" fill="none" stroke="#e62725" stroke-width="2.24"/>
<path d="M899.19 433.51v-0.9M902.33 433.51v-0.9M905.47 433.51v-0.9M908.62 433.51v-1.5M911.76 433.51v-1.15M914.9 433.51v-1.05M918.04 433.51v-1.45M921.18 433.51v-1.28M924.32 433.51v-1.39M927.47 433.51v-1.71M930.61 433.51v-0.9M933.75 433.51v-2.77M936.89 433.51v-1.92M940.03 433.51v-0.9M943.17 433.51v-1.4M946.32 433.51v-1.25" fill="none" stroke="#cbcaca" stroke-width="2.24"/>
<path d="M949.46 433.51v-3.69M952.6 433.51v-3.97M955.74 433.51v-4.17M958.88 433.51v-3.27M962.02 433.51v-3.62M965.17 433.51v-3.89M968.31 433.51v-1.95M971.45 433.51v-2.95M974.59 433.51v-2.89M977.73 433.51v-3.97M980.87 433.51v-3.86M984.02 433.51v-3.94M987.16 433.51v-3.14M990.3 433.51v-4.17M993.44 433.51v-3.45M996.58 433.51v-3.49" fill="none" stroke="#a1cf64" stroke-width="2.24"/>
<path d="M999.72 433.51v-0.9M1002.87 433.51v-0.9M1006.01 433.51v-4.25M1009.15 433.51v-1.01M1012.29 433.51v-0.9M1015.43 433.51v-2.15M1018.57 433.51v-4.02M1021.72 433.51v-1.62M1024.86 433.51v-1.61M1028 433.51v-1.75M1031.14 433.51v-3.45M1034.28 433.51v-0.9M1037.42 433.51v-2.05M1040.57 433.51v-1.92M1043.71 433.51v-2.61M1046.85 433.51v-1.4" fill="none" stroke="#edc8c5" stroke-width="2.24"/>
<rect x="746.82" y="359.08" width="301.6" height="76.5" fill="none" stroke="#444" stroke-width="0.8"/>
<rect x="1048.42" y="359.08" width="19.3" height="76.5" fill="#d9d9d9" stroke="#333" stroke-width="0.9"/>
<text x="1058.02" y="397.33" font-size="7" text-anchor="middle" fill="#1a1a1a" transform="rotate(90 1058.02 397.33)" dy="2.5">P5T</text>
<line x1="743.92" y1="433.51" x2="746.82" y2="433.51" stroke="#333" stroke-width="0.9"/>
<text x="739.92" y="437.11" font-size="10.1" text-anchor="end" fill="#4d4d4d" transform="translate(739.92 433.51) scale(1.02 1) translate(-739.92 -433.51)">0.00</text>
<line x1="743.92" y1="411.81" x2="746.82" y2="411.81" stroke="#333" stroke-width="0.9"/>
<text x="739.92" y="415.41" font-size="10.1" text-anchor="end" fill="#4d4d4d" transform="translate(739.92 411.81) scale(1.02 1) translate(-739.92 -411.81)">0.05</text>
<line x1="743.92" y1="390.11" x2="746.82" y2="390.11" stroke="#333" stroke-width="0.9"/>
<text x="739.92" y="393.71" font-size="10.1" text-anchor="end" fill="#4d4d4d" transform="translate(739.92 390.11) scale(1.02 1) translate(-739.92 -390.11)">0.10</text>
<line x1="743.92" y1="368.41" x2="746.82" y2="368.41" stroke="#333" stroke-width="0.9"/>
<text x="739.92" y="372.01" font-size="10.1" text-anchor="end" fill="#4d4d4d" transform="translate(739.92 368.41) scale(1.02 1) translate(-739.92 -368.41)">0.15</text>
<rect x="1098.6" y="357.52" width="90.3" height="77.2" fill="#fff" stroke="#333" stroke-width="0.9"/>
<rect x="1188.9" y="357.52" width="18.6" height="77.2" fill="#d9d9d9" stroke="#333" stroke-width="0.9"/>
<text x="1198.2" y="396.12" font-size="7" text-anchor="middle" fill="#1a1a1a" transform="rotate(90 1198.2 396.12)" dy="2.5">P5T</text>
<ellipse cx="1140.3" cy="396.32" rx="37.2" ry="35" fill="none" stroke="#ebebeb" stroke-width="1"/>
<path d="M1140.3 396.32L1140.3 365.12A33.3 31.2 0 0 1 1142.39 365.18Z" fill="#6b6262"/>
<path d="M1140.3 396.32L1142.39 365.18A33.3 31.2 0 0 1 1160.8 371.73Z" fill="#ecd3c7"/>
<path d="M1140.3 396.32L1160.8 371.73A33.3 31.2 0 1 1 1140.3 365.12Z" fill="#0040a6"/>
<rect x="747.1" y="443.25" width="301.6" height="76.5" fill="#fff"/>
<path d="M748.67 443.25V519.75M751.81 443.25V519.75M754.95 443.25V519.75M758.1 443.25V519.75M761.24 443.25V519.75M764.38 443.25V519.75M767.52 443.25V519.75M770.66 443.25V519.75M773.8 443.25V519.75M776.95 443.25V519.75M780.09 443.25V519.75M783.23 443.25V519.75M786.37 443.25V519.75M789.51 443.25V519.75M792.65 443.25V519.75M795.8 443.25V519.75M798.94 443.25V519.75M802.08 443.25V519.75M805.22 443.25V519.75M808.36 443.25V519.75M811.5 443.25V519.75M814.65 443.25V519.75M817.79 443.25V519.75M820.93 443.25V519.75M824.07 443.25V519.75M827.21 443.25V519.75M830.35 443.25V519.75M833.5 443.25V519.75M836.64 443.25V519.75M839.78 443.25V519.75M842.92 443.25V519.75M846.06 443.25V519.75M849.2 443.25V519.75M852.35 443.25V519.75M855.49 443.25V519.75M858.63 443.25V519.75M861.77 443.25V519.75M864.91 443.25V519.75M868.05 443.25V519.75M871.2 443.25V519.75M874.34 443.25V519.75M877.48 443.25V519.75M880.62 443.25V519.75M883.76 443.25V519.75M886.9 443.25V519.75M890.05 443.25V519.75M893.19 443.25V519.75M896.33 443.25V519.75M899.47 443.25V519.75M902.61 443.25V519.75M905.75 443.25V519.75M908.9 443.25V519.75M912.04 443.25V519.75M915.18 443.25V519.75M918.32 443.25V519.75M921.46 443.25V519.75M924.6 443.25V519.75M927.75 443.25V519.75M930.89 443.25V519.75M934.03 443.25V519.75M937.17 443.25V519.75M940.31 443.25V519.75M943.45 443.25V519.75M946.6 443.25V519.75M949.74 443.25V519.75M952.88 443.25V519.75M956.02 443.25V519.75M959.16 443.25V519.75M962.3 443.25V519.75M965.45 443.25V519.75M968.59 443.25V519.75M971.73 443.25V519.75M974.87 443.25V519.75M978.01 443.25V519.75M981.15 443.25V519.75M984.3 443.25V519.75M987.44 443.25V519.75M990.58 443.25V519.75M993.72 443.25V519.75M996.86 443.25V519.75M1000 443.25V519.75M1003.15 443.25V519.75M1006.29 443.25V519.75M1009.43 443.25V519.75M1012.57 443.25V519.75M1015.71 443.25V519.75M1018.85 443.25V519.75M1022 443.25V519.75M1025.14 443.25V519.75M1028.28 443.25V519.75M1031.42 443.25V519.75M1034.56 443.25V519.75M1037.7 443.25V519.75M1040.85 443.25V519.75M1043.99 443.25V519.75M1047.13 443.25V519.75M747.1 517.68H1048.7M747.1 495.98H1048.7M747.1 474.28H1048.7M747.1 452.58H1048.7" fill="none" stroke="#e4e4e4" stroke-width="1.05"/>
<path d="M747.1 506.83H1048.7M747.1 485.13H1048.7M747.1 463.43H1048.7" fill="none" stroke="#ececec" stroke-width="0.6"/>
<path d="M748.67 517.68v-4.32M751.81 517.68v-2.28M754.95 517.68v-4.65M758.1 517.68v-2.79M761.24 517.68v-2.3M764.38 517.68v-2.83M767.52 517.68v-4.62M770.66 517.68v-2.64M773.8 517.68v-4.66M776.95 517.68v-5.74M780.09 517.68v-3.64M783.23 517.68v-3.23M786.37 517.68v-3.59M789.51 517.68v-4.42M792.65 517.68v-4.78M795.8 517.68v-5.97" fill="none" stroke="#1ebff0" stroke-width="2.24"/>
<path d="M798.94 517.68v-1.46M802.08 517.68v-0.9M805.22 517.68v-0.9M808.36 517.68v-0.9M811.5 517.68v-1.67M814.65 517.68v-0.9M817.79 517.68v-1.31M820.93 517.68v-0.9M824.07 517.68v-0.9M827.21 517.68v-0.9M830.35 517.68v-1.52M833.5 517.68v-1.56M836.64 517.68v-1.53M839.78 517.68v-0.9M842.92 517.68v-2.63M846.06 517.68v-2.98" fill="none" stroke="#050708" stroke-width="2.24"/>
<path d="M849.2 517.68v-3.81M852.35 517.68v-2.81M855.49 517.68v-69.87M858.63 517.68v-3M861.77 517.68v-5.77M864.91 517.68v-5.59M868.05 517.68v-43.4M871.2 517.68v-3.79M874.34 517.68v-5.12M877.48 517.68v-5.72M880.62 517.68v-62.93M883.76 517.68v-3.19M886.9 517.68v-3.03M890.05 517.68v-5.63M893.19 517.68v-43.4M896.33 517.68v-4.21" fill="none" stroke="#e62725" stroke-width="2.24"/>
<path d="M899.47 517.68v-0.9M902.61 517.68v-1.04M905.75 517.68v-1.86M908.9 517.68v-1.42M912.04 517.68v-1.59M915.18 517.68v-1.01M918.32 517.68v-1.72M921.46 517.68v-1.36M924.6 517.68v-0.9M927.75 517.68v-1.74M930.89 517.68v-0.98M934.03 517.68v-2.32M937.17 517.68v-0.9M940.31 517.68v-0.99M943.45 517.68v-0.92M946.6 517.68v-0.9" fill="none" stroke="#cbcaca" stroke-width="2.24"/>
<path d="M949.74 517.68v-3.92M952.88 517.68v-2.44M956.02 517.68v-2.37M959.16 517.68v-3.99M962.3 517.68v-1.74M965.45 517.68v-3.68M968.59 517.68v-3.98M971.73 517.68v-1.92M974.87 517.68v-4.29M978.01 517.68v-3.55M981.15 517.68v-4.2M984.3 517.68v-2.3M987.44 517.68v-2.52M990.58 517.68v-2.57M993.72 517.68v-4.55M996.86 517.68v-3.15" fill="none" stroke="#a1cf64" stroke-width="2.24"/>
<path d="M1000 517.68v-1.01M1003.15 517.68v-1.15M1006.29 517.68v-4.62M1009.43 517.68v-0.9M1012.57 517.68v-0.9M1015.71 517.68v-2.15M1018.85 517.68v-3.49M1022 517.68v-2.42M1025.14 517.68v-0.9M1028.28 517.68v-0.9M1031.42 517.68v-3.49M1034.56 517.68v-0.9M1037.7 517.68v-1.04M1040.85 517.68v-2.48M1043.99 517.68v-3.1M1047.13 517.68v-2.09" fill="none" stroke="#edc8c5" stroke-width="2.24"/>
<rect x="747.1" y="443.25" width="301.6" height="76.5" fill="none" stroke="#444" stroke-width="0.8"/>
<rect x="1048.7" y="443.25" width="19.3" height="76.5" fill="#d9d9d9" stroke="#333" stroke-width="0.9"/>
<text x="1058.3" y="481.5" font-size="7" text-anchor="middle" fill="#1a1a1a" transform="rotate(90 1058.3 481.5)" dy="2.5">P4T</text>
<line x1="744.2" y1="517.68" x2="747.1" y2="517.68" stroke="#333" stroke-width="0.9"/>
<text x="740.2" y="521.28" font-size="10.1" text-anchor="end" fill="#4d4d4d" transform="translate(740.2 517.68) scale(1.02 1) translate(-740.2 -517.68)">0.00</text>
<line x1="744.2" y1="495.98" x2="747.1" y2="495.98" stroke="#333" stroke-width="0.9"/>
<text x="740.2" y="499.58" font-size="10.1" text-anchor="end" fill="#4d4d4d" transform="translate(740.2 495.98) scale(1.02 1) translate(-740.2 -495.98)">0.05</text>
<line x1="744.2" y1="474.28" x2="747.1" y2="474.28" stroke="#333" stroke-width="0.9"/>
<text x="740.2" y="477.88" font-size="10.1" text-anchor="end" fill="#4d4d4d" transform="translate(740.2 474.28) scale(1.02 1) translate(-740.2 -474.28)">0.10</text>
<line x1="744.2" y1="452.58" x2="747.1" y2="452.58" stroke="#333" stroke-width="0.9"/>
<text x="740.2" y="456.18" font-size="10.1" text-anchor="end" fill="#4d4d4d" transform="translate(740.2 452.58) scale(1.02 1) translate(-740.2 -452.58)">0.15</text>
<rect x="1098.9" y="441.55" width="90.3" height="77.2" fill="#fff" stroke="#333" stroke-width="0.9"/>
<rect x="1189.2" y="441.55" width="18.6" height="77.2" fill="#d9d9d9" stroke="#333" stroke-width="0.9"/>
<text x="1198.5" y="480.15" font-size="7" text-anchor="middle" fill="#1a1a1a" transform="rotate(90 1198.5 480.15)" dy="2.5">P4T</text>
<ellipse cx="1140.6" cy="480.35" rx="37.2" ry="35" fill="none" stroke="#ebebeb" stroke-width="1"/>
<path d="M1140.6 480.35L1140.6 449.15A33.3 31.2 0 0 1 1148.77 450.1Z" fill="#6b6262"/>
<path d="M1140.6 480.35L1148.77 450.1A33.3 31.2 0 1 1 1140.6 449.15Z" fill="#0040a6"/>
<rect x="747.38" y="527.42" width="301.6" height="76.5" fill="#fff"/>
<path d="M748.95 527.42V603.92M752.09 527.42V603.92M755.23 527.42V603.92M758.38 527.42V603.92M761.52 527.42V603.92M764.66 527.42V603.92M767.8 527.42V603.92M770.94 527.42V603.92M774.08 527.42V603.92M777.23 527.42V603.92M780.37 527.42V603.92M783.51 527.42V603.92M786.65 527.42V603.92M789.79 527.42V603.92M792.93 527.42V603.92M796.08 527.42V603.92M799.22 527.42V603.92M802.36 527.42V603.92M805.5 527.42V603.92M808.64 527.42V603.92M811.78 527.42V603.92M814.93 527.42V603.92M818.07 527.42V603.92M821.21 527.42V603.92M824.35 527.42V603.92M827.49 527.42V603.92M830.63 527.42V603.92M833.78 527.42V603.92M836.92 527.42V603.92M840.06 527.42V603.92M843.2 527.42V603.92M846.34 527.42V603.92M849.48 527.42V603.92M852.63 527.42V603.92M855.77 527.42V603.92M858.91 527.42V603.92M862.05 527.42V603.92M865.19 527.42V603.92M868.33 527.42V603.92M871.48 527.42V603.92M874.62 527.42V603.92M877.76 527.42V603.92M880.9 527.42V603.92M884.04 527.42V603.92M887.18 527.42V603.92M890.33 527.42V603.92M893.47 527.42V603.92M896.61 527.42V603.92M899.75 527.42V603.92M902.89 527.42V603.92M906.03 527.42V603.92M909.18 527.42V603.92M912.32 527.42V603.92M915.46 527.42V603.92M918.6 527.42V603.92M921.74 527.42V603.92M924.88 527.42V603.92M928.03 527.42V603.92M931.17 527.42V603.92M934.31 527.42V603.92M937.45 527.42V603.92M940.59 527.42V603.92M943.73 527.42V603.92M946.88 527.42V603.92M950.02 527.42V603.92M953.16 527.42V603.92M956.3 527.42V603.92M959.44 527.42V603.92M962.58 527.42V603.92M965.73 527.42V603.92M968.87 527.42V603.92M972.01 527.42V603.92M975.15 527.42V603.92M978.29 527.42V603.92M981.43 527.42V603.92M984.58 527.42V603.92M987.72 527.42V603.92M990.86 527.42V603.92M994 527.42V603.92M997.14 527.42V603.92M1000.28 527.42V603.92M1003.43 527.42V603.92M1006.57 527.42V603.92M1009.71 527.42V603.92M1012.85 527.42V603.92M1015.99 527.42V603.92M1019.13 527.42V603.92M1022.28 527.42V603.92M1025.42 527.42V603.92M1028.56 527.42V603.92M1031.7 527.42V603.92M1034.84 527.42V603.92M1037.98 527.42V603.92M1041.13 527.42V603.92M1044.27 527.42V603.92M1047.41 527.42V603.92M747.38 601.85H1048.98M747.38 580.15H1048.98M747.38 558.45H1048.98M747.38 536.75H1048.98" fill="none" stroke="#e4e4e4" stroke-width="1.05"/>
<path d="M747.38 591H1048.98M747.38 569.3H1048.98M747.38 547.6H1048.98" fill="none" stroke="#ececec" stroke-width="0.6"/>
<path d="M748.95 601.85v-4.2M752.09 601.85v-5.45M755.23 601.85v-5.58M758.38 601.85v-3.86M761.52 601.85v-4.57M764.66 601.85v-2.24M767.8 601.85v-4.63M770.94 601.85v-3.48M774.08 601.85v-4.72M777.23 601.85v-4.25M780.37 601.85v-2.9M783.51 601.85v-2.24M786.65 601.85v-5.51M789.79 601.85v-2.42M792.93 601.85v-3.56M796.08 601.85v-5.2" fill="none" stroke="#1ebff0" stroke-width="2.24"/>
<path d="M799.22 601.85v-0.9M802.36 601.85v-1.66M805.5 601.85v-2.2M808.64 601.85v-0.9M811.78 601.85v-1.49M814.93 601.85v-0.9M818.07 601.85v-1.29M821.21 601.85v-0.98M824.35 601.85v-0.9M827.49 601.85v-0.9M830.63 601.85v-0.9M833.78 601.85v-2.04M836.92 601.85v-15.19M840.06 601.85v-4.34M843.2 601.85v-8.68M846.34 601.85v-13.02" fill="none" stroke="#050708" stroke-width="2.24"/>
<path d="M849.48 601.85v-3.76M852.63 601.85v-2.86M855.77 601.85v-40.36M858.91 601.85v-2.75M862.05 601.85v-3.41M865.19 601.85v-2.75M868.33 601.85v-30.81M871.48 601.85v-3.16M874.62 601.85v-4.17M877.76 601.85v-5.39M880.9 601.85v-55.55M884.04 601.85v-3.63M887.18 601.85v-19.53M890.33 601.85v-7.81M893.47 601.85v-47.31M896.61 601.85v-9.55" fill="none" stroke="#e62725" stroke-width="2.24"/>
<path d="M899.75 601.85v-0.9M902.89 601.85v-0.9M906.03 601.85v-1.89M909.18 601.85v-1.41M912.32 601.85v-1.01M915.46 601.85v-1.23M918.6 601.85v-1.67M921.74 601.85v-0.9M924.88 601.85v-0.9M928.03 601.85v-0.9M931.17 601.85v-0.9M934.31 601.85v-2.96M937.45 601.85v-1.86M940.59 601.85v-1.64M943.73 601.85v-1.69M946.88 601.85v-0.9" fill="none" stroke="#cbcaca" stroke-width="2.24"/>
<path d="M950.02 601.85v-3.66M953.16 601.85v-3.54M956.3 601.85v-4.18M959.44 601.85v-2.8M962.58 601.85v-3.15M965.73 601.85v-1.74M968.87 601.85v-2.57M972.01 601.85v-4.29M975.15 601.85v-3.93M978.29 601.85v-4.04M981.43 601.85v-4.46M984.58 601.85v-2.2M987.72 601.85v-1.89M990.86 601.85v-1.98M994 601.85v-2.95M997.14 601.85v-3.45" fill="none" stroke="#a1cf64" stroke-width="2.24"/>
<path d="M1000.28 601.85v-2.44M1003.43 601.85v-1.85M1006.57 601.85v-7.38M1009.71 601.85v-1.97M1012.85 601.85v-1.22M1015.99 601.85v-1.44M1019.13 601.85v-5.21M1022.28 601.85v-2.01M1025.42 601.85v-0.9M1028.56 601.85v-2.38M1031.7 601.85v-3.72M1034.84 601.85v-0.9M1037.98 601.85v-0.9M1041.13 601.85v-0.9M1044.27 601.85v-2.78M1047.41 601.85v-1.8" fill="none" stroke="#edc8c5" stroke-width="2.24"/>
<rect x="747.38" y="527.42" width="301.6" height="76.5" fill="none" stroke="#444" stroke-width="0.8"/>
<rect x="1048.98" y="527.42" width="19.3" height="76.5" fill="#d9d9d9" stroke="#333" stroke-width="0.9"/>
<text x="1058.58" y="565.67" font-size="7" text-anchor="middle" fill="#1a1a1a" transform="rotate(90 1058.58 565.67)" dy="2.5">P9T</text>
<line x1="744.48" y1="601.85" x2="747.38" y2="601.85" stroke="#333" stroke-width="0.9"/>
<text x="740.48" y="605.45" font-size="10.1" text-anchor="end" fill="#4d4d4d" transform="translate(740.48 601.85) scale(1.02 1) translate(-740.48 -601.85)">0.00</text>
<line x1="744.48" y1="580.15" x2="747.38" y2="580.15" stroke="#333" stroke-width="0.9"/>
<text x="740.48" y="583.75" font-size="10.1" text-anchor="end" fill="#4d4d4d" transform="translate(740.48 580.15) scale(1.02 1) translate(-740.48 -580.15)">0.05</text>
<line x1="744.48" y1="558.45" x2="747.38" y2="558.45" stroke="#333" stroke-width="0.9"/>
<text x="740.48" y="562.05" font-size="10.1" text-anchor="end" fill="#4d4d4d" transform="translate(740.48 558.45) scale(1.02 1) translate(-740.48 -558.45)">0.10</text>
<line x1="744.48" y1="536.75" x2="747.38" y2="536.75" stroke="#333" stroke-width="0.9"/>
<text x="740.48" y="540.35" font-size="10.1" text-anchor="end" fill="#4d4d4d" transform="translate(740.48 536.75) scale(1.02 1) translate(-740.48 -536.75)">0.15</text>
<rect x="1099.2" y="525.58" width="90.3" height="77.2" fill="#fff" stroke="#333" stroke-width="0.9"/>
<rect x="1189.5" y="525.58" width="18.6" height="77.2" fill="#d9d9d9" stroke="#333" stroke-width="0.9"/>
<text x="1198.8" y="564.18" font-size="7" text-anchor="middle" fill="#1a1a1a" transform="rotate(90 1198.8 564.18)" dy="2.5">P9T</text>
<ellipse cx="1140.9" cy="564.38" rx="37.2" ry="35" fill="none" stroke="#ebebeb" stroke-width="1"/>
<path d="M1177.5 560.78h7.5v6.6h-7.5" fill="#fff" stroke="#ebebeb" stroke-width="1"/>
<path d="M1140.9 564.38L1140.9 533.18A33.3 31.2 0 0 1 1158.89 538.12Z" fill="#6b6262"/>
<path d="M1140.9 564.38L1158.89 538.12A33.3 31.2 0 0 1 1173.28 557.1Z" fill="#ecd3c7"/>
<path d="M1140.9 564.38L1173.28 557.1A33.3 31.2 0 0 1 1172.57 574.02Z" fill="#8ad494"/>
<path d="M1140.9 564.38L1172.57 574.02A33.3 31.2 0 1 1 1140.9 533.18Z" fill="#0040a6"/>
<rect x="747.66" y="611.59" width="301.6" height="76.5" fill="#fff"/>
<path d="M749.23 611.59V688.09M752.37 611.59V688.09M755.51 611.59V688.09M758.66 611.59V688.09M761.8 611.59V688.09M764.94 611.59V688.09M768.08 611.59V688.09M771.22 611.59V688.09M774.36 611.59V688.09M777.51 611.59V688.09M780.65 611.59V688.09M783.79 611.59V688.09M786.93 611.59V688.09M790.07 611.59V688.09M793.21 611.59V688.09M796.36 611.59V688.09M799.5 611.59V688.09M802.64 611.59V688.09M805.78 611.59V688.09M808.92 611.59V688.09M812.06 611.59V688.09M815.21 611.59V688.09M818.35 611.59V688.09M821.49 611.59V688.09M824.63 611.59V688.09M827.77 611.59V688.09M830.91 611.59V688.09M834.06 611.59V688.09M837.2 611.59V688.09M840.34 611.59V688.09M843.48 611.59V688.09M846.62 611.59V688.09M849.76 611.59V688.09M852.91 611.59V688.09M856.05 611.59V688.09M859.19 611.59V688.09M862.33 611.59V688.09M865.47 611.59V688.09M868.61 611.59V688.09M871.76 611.59V688.09M874.9 611.59V688.09M878.04 611.59V688.09M881.18 611.59V688.09M884.32 611.59V688.09M887.46 611.59V688.09M890.61 611.59V688.09M893.75 611.59V688.09M896.89 611.59V688.09M900.03 611.59V688.09M903.17 611.59V688.09M906.31 611.59V688.09M909.46 611.59V688.09M912.6 611.59V688.09M915.74 611.59V688.09M918.88 611.59V688.09M922.02 611.59V688.09M925.16 611.59V688.09M928.31 611.59V688.09M931.45 611.59V688.09M934.59 611.59V688.09M937.73 611.59V688.09M940.87 611.59V688.09M944.01 611.59V688.09M947.16 611.59V688.09M950.3 611.59V688.09M953.44 611.59V688.09M956.58 611.59V688.09M959.72 611.59V688.09M962.86 611.59V688.09M966.01 611.59V688.09M969.15 611.59V688.09M972.29 611.59V688.09M975.43 611.59V688.09M978.57 611.59V688.09M981.71 611.59V688.09M984.86 611.59V688.09M988 611.59V688.09M991.14 611.59V688.09M994.28 611.59V688.09M997.42 611.59V688.09M1000.56 611.59V688.09M1003.71 611.59V688.09M1006.85 611.59V688.09M1009.99 611.59V688.09M1013.13 611.59V688.09M1016.27 611.59V688.09M1019.41 611.59V688.09M1022.56 611.59V688.09M1025.7 611.59V688.09M1028.84 611.59V688.09M1031.98 611.59V688.09M1035.12 611.59V688.09M1038.26 611.59V688.09M1041.41 611.59V688.09M1044.55 611.59V688.09M1047.69 611.59V688.09M747.66 686.02H1049.26M747.66 664.32H1049.26M747.66 642.62H1049.26M747.66 620.92H1049.26" fill="none" stroke="#e4e4e4" stroke-width="1.05"/>
<path d="M747.66 675.17H1049.26M747.66 653.47H1049.26M747.66 631.77H1049.26" fill="none" stroke="#ececec" stroke-width="0.6"/>
<path d="M749.23 686.02v-2.38M752.37 686.02v-2.29M755.51 686.02v-3.76M758.66 686.02v-4M761.8 686.02v-3.25M764.94 686.02v-2.7M768.08 686.02v-4.07M771.22 686.02v-2.18M774.36 686.02v-2.95M777.51 686.02v-3.52M780.65 686.02v-7.81M783.79 686.02v-4.25M786.93 686.02v-5.31M790.07 686.02v-3.57M793.21 686.02v-2.73M796.36 686.02v-4.93" fill="none" stroke="#1ebff0" stroke-width="2.24"/>
<path d="M799.5 686.02v-2.16M802.64 686.02v-1.59M805.78 686.02v-0.9M808.92 686.02v-0.9M812.06 686.02v-1.17M815.21 686.02v-1.53M818.35 686.02v-1.02M821.49 686.02v-0.9M824.63 686.02v-1.51M827.77 686.02v-2.08M830.91 686.02v-0.9M834.06 686.02v-0.9M837.2 686.02v-0.9M840.34 686.02v-1.03M843.48 686.02v-2.84M846.62 686.02v-2.58" fill="none" stroke="#050708" stroke-width="2.24"/>
<path d="M849.76 686.02v-5.03M852.91 686.02v-4.8M856.05 686.02v-66.4M859.19 686.02v-3.02M862.33 686.02v-5.73M865.47 686.02v-3.32M868.61 686.02v-39.49M871.76 686.02v-3.09M874.9 686.02v-3.06M878.04 686.02v-4.88M881.18 686.02v-67.27M884.32 686.02v-5.66M887.46 686.02v-3.91M890.61 686.02v-2.97M893.75 686.02v-31.25M896.89 686.02v-3.65" fill="none" stroke="#e62725" stroke-width="2.24"/>
<path d="M900.03 686.02v-1.29M903.17 686.02v-1.85M906.31 686.02v-0.9M909.46 686.02v-1.64M912.6 686.02v-0.9M915.74 686.02v-1.9M918.88 686.02v-0.9M922.02 686.02v-0.9M925.16 686.02v-0.9M928.31 686.02v-0.9M931.45 686.02v-1.74M934.59 686.02v-3.62M937.73 686.02v-1.42M940.87 686.02v-1.95M944.01 686.02v-1.81M947.16 686.02v-0.9" fill="none" stroke="#cbcaca" stroke-width="2.24"/>
<path d="M950.3 686.02v-5.21M953.44 686.02v-4.32M956.58 686.02v-3.66M959.72 686.02v-1.77M962.86 686.02v-3.39M966.01 686.02v-2.53M969.15 686.02v-2.52M972.29 686.02v-2.41M975.43 686.02v-2.02M978.57 686.02v-1.74M981.71 686.02v-2.27M984.86 686.02v-2.46M988 686.02v-4.39M991.14 686.02v-1.92M994.28 686.02v-4.43M997.42 686.02v-2.1" fill="none" stroke="#a1cf64" stroke-width="2.24"/>
<path d="M1000.56 686.02v-1M1003.71 686.02v-2.11M1006.85 686.02v-6.05M1009.99 686.02v-1.16M1013.13 686.02v-0.9M1016.27 686.02v-1.25M1019.41 686.02v-3.66M1022.56 686.02v-2.38M1025.7 686.02v-0.9M1028.84 686.02v-1.02M1031.98 686.02v-4.16M1035.12 686.02v-0.9M1038.26 686.02v-1.12M1041.41 686.02v-2.09M1044.55 686.02v-2.95M1047.69 686.02v-0.9" fill="none" stroke="#edc8c5" stroke-width="2.24"/>
<rect x="747.66" y="611.59" width="301.6" height="76.5" fill="none" stroke="#444" stroke-width="0.8"/>
<rect x="1049.26" y="611.59" width="19.3" height="76.5" fill="#d9d9d9" stroke="#333" stroke-width="0.9"/>
<text x="1058.86" y="649.84" font-size="7" text-anchor="middle" fill="#1a1a1a" transform="rotate(90 1058.86 649.84)" dy="2.5">P3T</text>
<line x1="744.76" y1="686.02" x2="747.66" y2="686.02" stroke="#333" stroke-width="0.9"/>
<text x="740.76" y="689.62" font-size="10.1" text-anchor="end" fill="#4d4d4d" transform="translate(740.76 686.02) scale(1.02 1) translate(-740.76 -686.02)">0.00</text>
<line x1="744.76" y1="664.32" x2="747.66" y2="664.32" stroke="#333" stroke-width="0.9"/>
<text x="740.76" y="667.92" font-size="10.1" text-anchor="end" fill="#4d4d4d" transform="translate(740.76 664.32) scale(1.02 1) translate(-740.76 -664.32)">0.05</text>
<line x1="744.76" y1="642.62" x2="747.66" y2="642.62" stroke="#333" stroke-width="0.9"/>
<text x="740.76" y="646.22" font-size="10.1" text-anchor="end" fill="#4d4d4d" transform="translate(740.76 642.62) scale(1.02 1) translate(-740.76 -642.62)">0.10</text>
<line x1="744.76" y1="620.92" x2="747.66" y2="620.92" stroke="#333" stroke-width="0.9"/>
<text x="740.76" y="624.52" font-size="10.1" text-anchor="end" fill="#4d4d4d" transform="translate(740.76 620.92) scale(1.02 1) translate(-740.76 -620.92)">0.15</text>
<rect x="1099.5" y="609.61" width="90.3" height="77.2" fill="#fff" stroke="#333" stroke-width="0.9"/>
<rect x="1189.8" y="609.61" width="18.6" height="77.2" fill="#d9d9d9" stroke="#333" stroke-width="0.9"/>
<text x="1199.1" y="648.21" font-size="7" text-anchor="middle" fill="#1a1a1a" transform="rotate(90 1199.1 648.21)" dy="2.5">P3T</text>
<ellipse cx="1141.2" cy="648.41" rx="37.2" ry="35" fill="none" stroke="#ebebeb" stroke-width="1"/>
<path d="M1177.8 644.81h7.5v6.6h-7.5" fill="#fff" stroke="#ebebeb" stroke-width="1"/>
<path d="M1141.2 648.41L1141.2 617.21A33.3 31.2 0 0 1 1162.78 624.65Z" fill="#ecd3c7"/>
<path d="M1141.2 648.41L1162.78 624.65A33.3 31.2 0 1 1 1141.2 617.21Z" fill="#0040a6"/>
<text x="1259" y="182.3" font-size="12.6">Type</text>
<rect x="1270.2" y="191" width="2.9" height="15" fill="#1ebff0"/>
<text x="1288.2" y="202.1" font-size="10.45">C&gt;A</text>
<rect x="1270.2" y="209.72" width="2.9" height="15" fill="#050708"/>
<text x="1288.2" y="220.82" font-size="10.45">C&gt;G</text>
<rect x="1270.2" y="228.44" width="2.9" height="15" fill="#e62725"/>
<text x="1288.2" y="239.54" font-size="10.45">C&gt;T</text>
<rect x="1270.2" y="247.16" width="2.9" height="15" fill="#cbcaca"/>
<text x="1288.2" y="258.26" font-size="10.45">T&gt;A</text>
<rect x="1270.2" y="265.88" width="2.9" height="15" fill="#a1cf64"/>
<text x="1288.2" y="276.98" font-size="10.45">T&gt;C</text>
<rect x="1270.2" y="284.6" width="2.9" height="15" fill="#edc8c5"/>
<text x="1288.2" y="295.7" font-size="10.45">T&gt;G</text>
<text x="1257" y="350.3" font-size="12.75">Signature</text>
<rect x="1262" y="358.5" width="18.3" height="17.1" fill="#0040a6"/>
<text x="1288" y="370.4" font-size="10.5">Signature.1</text>
<rect x="1262" y="377.25" width="18.3" height="17.1" fill="#8ad494"/>
<text x="1288" y="389.15" font-size="10.5">Signature.13</text>
<rect x="1262" y="396" width="18.3" height="17.1" fill="#ecd3c7"/>
<text x="1288" y="407.9" font-size="10.5">Signature.15</text>
<rect x="1262" y="414.75" width="18.3" height="17.1" fill="#d9bfc3"/>
<text x="1288" y="426.65" font-size="10.5">Signature.3</text>
<rect x="1262" y="433.5" width="18.3" height="17.1" fill="#6b6262"/>
<text x="1288" y="445.4" font-size="10.5">unknown</text></g>
<g id="pc"><text x="32.5" y="432.6" font-size="36" class="sf">c</text>
<rect x="284" y="447.4" width="41.2" height="39.8" fill="#bfbfbf" stroke="#000" stroke-width="0.8"/>
<rect x="284" y="503" width="243.8" height="39.7" fill="#bfbfbf" stroke="#000" stroke-width="0.8"/>
<rect x="284" y="559" width="325.2" height="39.3" fill="#bfbfbf" stroke="#000" stroke-width="0.8"/>
<path d="M267.7 433.5V610.7H625" fill="none" stroke="#000" stroke-width="0.9"/>
<line x1="284" y1="610.7" x2="284" y2="613.4" stroke="#000" stroke-width="0.8"/>
<text x="284" y="624.3" font-size="10.2" text-anchor="middle">0</text>
<line x1="365.3" y1="610.7" x2="365.3" y2="613.4" stroke="#000" stroke-width="0.8"/>
<text x="365.3" y="624.3" font-size="10.2" text-anchor="middle">25</text>
<line x1="446.6" y1="610.7" x2="446.6" y2="613.4" stroke="#000" stroke-width="0.8"/>
<text x="446.6" y="624.3" font-size="10.2" text-anchor="middle">50</text>
<line x1="527.8" y1="610.7" x2="527.8" y2="613.4" stroke="#000" stroke-width="0.8"/>
<text x="527.8" y="624.3" font-size="10.2" text-anchor="middle">75</text>
<line x1="609.2" y1="610.7" x2="609.2" y2="613.4" stroke="#000" stroke-width="0.8"/>
<text x="609.2" y="624.3" font-size="10.2" text-anchor="middle">100</text>
<text x="451.8" y="635.8" font-size="10.2" text-anchor="middle">Percentage of sample ( % )</text>
<line x1="265" y1="467.3" x2="267.7" y2="467.3" stroke="#000" stroke-width="0.8"/>
<text x="263.6" y="470.8" font-size="10.2" text-anchor="end">APOBEC/AID_activity[S13]</text>
<line x1="265" y1="522.9" x2="267.7" y2="522.9" stroke="#000" stroke-width="0.8"/>
<text x="263.6" y="526.4" font-size="10.2" text-anchor="end">Defective_DNA_mismatch_repair[S3+S15]</text>
<line x1="265" y1="578.6" x2="267.7" y2="578.6" stroke="#000" stroke-width="0.8"/>
<text x="263.6" y="582.1" font-size="10.2" text-anchor="end">Spontaneous_deamination_of_5mD[S1]</text>
<text x="65" y="523" font-size="10.2" text-anchor="middle" transform="rotate(-90 65 523)">Type</text></g>
<g id="pd"><text x="21.5" y="749.5" font-size="36" class="sf">d</text>
<rect x="268.5" y="835.1" width="120.76" height="304.66" fill="#fff"/>
<rect x="269.6" y="836.2" width="13.77" height="20.49" fill="#fb0d1b"/>
<rect x="284.57" y="836.2" width="13.77" height="20.49" fill="#cccccc"/>
<rect x="299.54" y="836.2" width="13.77" height="20.49" fill="#fb0d1b"/>
<rect x="314.51" y="836.2" width="13.77" height="20.49" fill="#cccccc"/>
<rect x="329.48" y="836.2" width="13.77" height="20.49" fill="#cccccc"/>
<rect x="344.45" y="836.2" width="13.77" height="20.49" fill="#cccccc"/>
<rect x="359.42" y="836.2" width="13.77" height="20.49" fill="#cccccc"/>
<rect x="374.39" y="836.2" width="13.77" height="20.49" fill="#cccccc"/>
<text x="263.8" y="849.15" font-size="8.8" text-anchor="end" fill="#1a1a1a">PRAMEF4</text>
<rect x="139" y="839.85" width="59.4" height="13.2" fill="#7f9640"/>
<rect x="400.9" y="839.85" width="29.7" height="13.2" fill="#4f74ab"/>
<rect x="269.6" y="857.89" width="13.77" height="20.49" fill="#fb0d1b"/>
<rect x="284.57" y="857.89" width="13.77" height="20.49" fill="#fb0d1b"/>
<rect x="299.54" y="857.89" width="13.77" height="20.49" fill="#cccccc"/>
<rect x="314.51" y="857.89" width="13.77" height="20.49" fill="#cccccc"/>
<rect x="329.48" y="857.89" width="13.77" height="20.49" fill="#cccccc"/>
<rect x="344.45" y="857.89" width="13.77" height="20.49" fill="#cccccc"/>
<rect x="359.42" y="857.89" width="13.77" height="20.49" fill="#cccccc"/>
<rect x="374.39" y="857.89" width="13.77" height="20.49" fill="#cccccc"/>
<text x="263.8" y="870.84" font-size="8.8" text-anchor="end" fill="#1a1a1a">SPATA31C1</text>
<rect x="139" y="861.53" width="59.4" height="13.2" fill="#7f9640"/>
<rect x="400.9" y="861.53" width="27.45" height="13.2" fill="#4f74ab"/>
<rect x="269.6" y="879.58" width="13.77" height="20.49" fill="#cccccc"/>
<rect x="284.57" y="879.58" width="13.77" height="20.49" fill="#cccccc"/>
<rect x="299.54" y="879.58" width="13.77" height="20.49" fill="#cccccc"/>
<rect x="314.51" y="879.58" width="13.77" height="20.49" fill="#fc2fd0"/>
<rect x="329.48" y="879.58" width="13.77" height="20.49" fill="#cccccc"/>
<rect x="344.45" y="879.58" width="13.77" height="20.49" fill="#cccccc"/>
<rect x="359.42" y="879.58" width="13.77" height="20.49" fill="#cccccc"/>
<rect x="374.39" y="879.58" width="13.77" height="20.49" fill="#cccccc"/>
<text x="263.8" y="892.53" font-size="8.8" text-anchor="end" fill="#1a1a1a">PRH2</text>
<rect x="168.7" y="883.23" width="29.7" height="13.2" fill="#7f9640"/>
<rect x="400.9" y="883.23" width="25.65" height="13.2" fill="#4f74ab"/>
<rect x="269.6" y="901.27" width="13.77" height="20.49" fill="#cccccc"/>
<rect x="284.57" y="901.27" width="13.77" height="20.49" fill="#fc2fd0"/>
<rect x="299.54" y="901.27" width="13.77" height="20.49" fill="#cccccc"/>
<rect x="314.51" y="901.27" width="13.77" height="20.49" fill="#cccccc"/>
<rect x="329.48" y="901.27" width="13.77" height="20.49" fill="#0070c0"/>
<rect x="344.45" y="901.27" width="13.77" height="20.49" fill="#cccccc"/>
<rect x="359.42" y="901.27" width="13.77" height="20.49" fill="#cccccc"/>
<rect x="374.39" y="901.27" width="13.77" height="20.49" fill="#cccccc"/>
<text x="263.8" y="914.22" font-size="8.8" text-anchor="end" fill="#1a1a1a">TP53</text>
<rect x="139" y="904.91" width="59.4" height="13.2" fill="#7f9640"/>
<rect x="400.9" y="904.91" width="24.75" height="13.2" fill="#4f74ab"/>
<rect x="269.6" y="922.96" width="13.77" height="20.49" fill="#cccccc"/>
<rect x="284.57" y="922.96" width="13.77" height="20.49" fill="#fb0d1b"/>
<rect x="299.54" y="922.96" width="13.77" height="20.49" fill="#cccccc"/>
<rect x="314.51" y="922.96" width="13.77" height="20.49" fill="#cccccc"/>
<rect x="329.48" y="922.96" width="13.77" height="20.49" fill="#cccccc"/>
<rect x="344.45" y="922.96" width="13.77" height="20.49" fill="#cccccc"/>
<rect x="359.42" y="922.96" width="13.77" height="20.49" fill="#cccccc"/>
<rect x="374.39" y="922.96" width="13.77" height="20.49" fill="#cccccc"/>
<text x="263.8" y="935.91" font-size="8.8" text-anchor="end" fill="#1a1a1a">CA8</text>
<rect x="168.7" y="926.61" width="29.7" height="13.2" fill="#7f9640"/>
<rect x="400.9" y="926.61" width="20.25" height="13.2" fill="#4f74ab"/>
<rect x="269.6" y="944.65" width="13.77" height="20.49" fill="#cccccc"/>
<rect x="284.57" y="944.65" width="13.77" height="20.49" fill="#0070c0"/>
<rect x="299.54" y="944.65" width="13.77" height="20.49" fill="#cccccc"/>
<rect x="314.51" y="944.65" width="13.77" height="20.49" fill="#fb0d1b"/>
<rect x="329.48" y="944.65" width="13.77" height="20.49" fill="#cccccc"/>
<rect x="344.45" y="944.65" width="13.77" height="20.49" fill="#cccccc"/>
<rect x="359.42" y="944.65" width="13.77" height="20.49" fill="#cccccc"/>
<rect x="374.39" y="944.65" width="13.77" height="20.49" fill="#cccccc"/>
<text x="263.8" y="957.6" font-size="8.8" text-anchor="end" fill="#1a1a1a">FANCM</text>
<rect x="139" y="948.29" width="59.4" height="13.2" fill="#7f9640"/>
<rect x="400.9" y="948.29" width="19.35" height="13.2" fill="#4f74ab"/>
<rect x="269.6" y="966.34" width="13.77" height="20.49" fill="#cccccc"/>
<rect x="284.57" y="966.34" width="13.77" height="20.49" fill="#cccccc"/>
<rect x="299.54" y="966.34" width="13.77" height="20.49" fill="#cccccc"/>
<rect x="314.51" y="966.34" width="13.77" height="20.49" fill="#fb0d1b"/>
<rect x="329.48" y="966.34" width="13.77" height="20.49" fill="#cccccc"/>
<rect x="344.45" y="966.34" width="13.77" height="20.49" fill="#fb0d1b"/>
<rect x="359.42" y="966.34" width="13.77" height="20.49" fill="#cccccc"/>
<rect x="374.39" y="966.34" width="13.77" height="20.49" fill="#cccccc"/>
<text x="263.8" y="979.29" font-size="8.8" text-anchor="end" fill="#1a1a1a">OLIG2</text>
<rect x="139" y="969.99" width="59.4" height="13.2" fill="#7f9640"/>
<rect x="400.9" y="969.99" width="18.9" height="13.2" fill="#4f74ab"/>
<rect x="269.6" y="988.03" width="13.77" height="20.49" fill="#cccccc"/>
<rect x="284.57" y="988.03" width="13.77" height="20.49" fill="#cccccc"/>
<rect x="299.54" y="988.03" width="13.77" height="20.49" fill="#cccccc"/>
<rect x="314.51" y="988.03" width="13.77" height="20.49" fill="#fb0d1b"/>
<rect x="329.48" y="988.03" width="13.77" height="20.49" fill="#cccccc"/>
<rect x="344.45" y="988.03" width="13.77" height="20.49" fill="#cccccc"/>
<rect x="359.42" y="988.03" width="13.77" height="20.49" fill="#cccccc"/>
<rect x="374.39" y="988.03" width="13.77" height="20.49" fill="#cccccc"/>
<text x="263.8" y="1000.98" font-size="8.8" text-anchor="end" fill="#1a1a1a">DEFB112</text>
<rect x="168.7" y="991.68" width="29.7" height="13.2" fill="#7f9640"/>
<rect x="400.9" y="991.68" width="18" height="13.2" fill="#4f74ab"/>
<rect x="269.6" y="1009.72" width="13.77" height="20.49" fill="#fb0d1b"/>
<rect x="284.57" y="1009.72" width="13.77" height="20.49" fill="#cccccc"/>
<rect x="299.54" y="1009.72" width="13.77" height="20.49" fill="#cccccc"/>
<rect x="314.51" y="1009.72" width="13.77" height="20.49" fill="#cccccc"/>
<rect x="329.48" y="1009.72" width="13.77" height="20.49" fill="#fb0d1b"/>
<rect x="344.45" y="1009.72" width="13.77" height="20.49" fill="#cccccc"/>
<rect x="359.42" y="1009.72" width="13.77" height="20.49" fill="#cccccc"/>
<rect x="374.39" y="1009.72" width="13.77" height="20.49" fill="#cccccc"/>
<text x="263.8" y="1022.67" font-size="8.8" text-anchor="end" fill="#1a1a1a">KRT86</text>
<rect x="139" y="1013.37" width="59.4" height="13.2" fill="#7f9640"/>
<rect x="400.9" y="1013.37" width="17.55" height="13.2" fill="#4f74ab"/>
<rect x="269.6" y="1031.41" width="13.77" height="20.49" fill="#fb0d1b"/>
<rect x="284.57" y="1031.41" width="13.77" height="20.49" fill="#cccccc"/>
<rect x="299.54" y="1031.41" width="13.77" height="20.49" fill="#cccccc"/>
<rect x="314.51" y="1031.41" width="13.77" height="20.49" fill="#cccccc"/>
<rect x="329.48" y="1031.41" width="13.77" height="20.49" fill="#cccccc"/>
<rect x="344.45" y="1031.41" width="13.77" height="20.49" fill="#fb0d1b"/>
<rect x="359.42" y="1031.41" width="13.77" height="20.49" fill="#cccccc"/>
<rect x="374.39" y="1031.41" width="13.77" height="20.49" fill="#cccccc"/>
<text x="263.8" y="1044.36" font-size="8.8" text-anchor="end" fill="#1a1a1a">WDR17</text>
<rect x="139" y="1035.06" width="59.4" height="13.2" fill="#7f9640"/>
<rect x="400.9" y="1035.06" width="17.55" height="13.2" fill="#4f74ab"/>
<rect x="269.6" y="1053.1" width="13.77" height="20.49" fill="#cccccc"/>
<rect x="284.57" y="1053.1" width="13.77" height="20.49" fill="#fb0d1b"/>
<rect x="299.54" y="1053.1" width="13.77" height="20.49" fill="#cccccc"/>
<rect x="314.51" y="1053.1" width="13.77" height="20.49" fill="#cccccc"/>
<rect x="329.48" y="1053.1" width="13.77" height="20.49" fill="#0070c0"/>
<rect x="344.45" y="1053.1" width="13.77" height="20.49" fill="#cccccc"/>
<rect x="359.42" y="1053.1" width="13.77" height="20.49" fill="#cccccc"/>
<rect x="374.39" y="1053.1" width="13.77" height="20.49" fill="#cccccc"/>
<text x="263.8" y="1066.05" font-size="8.8" text-anchor="end" fill="#1a1a1a">WSCD2</text>
<rect x="139" y="1056.75" width="59.4" height="13.2" fill="#7f9640"/>
<rect x="400.9" y="1056.75" width="17.1" height="13.2" fill="#4f74ab"/>
<rect x="269.6" y="1074.79" width="13.77" height="20.49" fill="#cccccc"/>
<rect x="284.57" y="1074.79" width="13.77" height="20.49" fill="#cccccc"/>
<rect x="299.54" y="1074.79" width="13.77" height="20.49" fill="#cccccc"/>
<rect x="314.51" y="1074.79" width="13.77" height="20.49" fill="#cccccc"/>
<rect x="329.48" y="1074.79" width="13.77" height="20.49" fill="#cccccc"/>
<rect x="344.45" y="1074.79" width="13.77" height="20.49" fill="#fb0d1b"/>
<rect x="359.42" y="1074.79" width="13.77" height="20.49" fill="#cccccc"/>
<rect x="374.39" y="1074.79" width="13.77" height="20.49" fill="#cccccc"/>
<text x="263.8" y="1087.74" font-size="8.8" text-anchor="end" fill="#1a1a1a">KRT9</text>
<rect x="168.7" y="1078.44" width="29.7" height="13.2" fill="#7f9640"/>
<rect x="400.9" y="1078.44" width="10.8" height="13.2" fill="#4f74ab"/>
<rect x="269.6" y="1096.48" width="13.77" height="20.49" fill="#cccccc"/>
<rect x="284.57" y="1096.48" width="13.77" height="20.49" fill="#cccccc"/>
<rect x="299.54" y="1096.48" width="13.77" height="20.49" fill="#fb0d1b"/>
<rect x="314.51" y="1096.48" width="13.77" height="20.49" fill="#cccccc"/>
<rect x="329.48" y="1096.48" width="13.77" height="20.49" fill="#cccccc"/>
<rect x="344.45" y="1096.48" width="13.77" height="20.49" fill="#cccccc"/>
<rect x="359.42" y="1096.48" width="13.77" height="20.49" fill="#cccccc"/>
<rect x="374.39" y="1096.48" width="13.77" height="20.49" fill="#cccccc"/>
<text x="263.8" y="1109.42" font-size="8.8" text-anchor="end" fill="#1a1a1a">BAGE3</text>
<rect x="168.7" y="1100.12" width="29.7" height="13.2" fill="#7f9640"/>
<rect x="400.9" y="1100.12" width="8.1" height="13.2" fill="#4f74ab"/>
<rect x="269.6" y="1118.17" width="13.77" height="20.49" fill="#cccccc"/>
<rect x="284.57" y="1118.17" width="13.77" height="20.49" fill="#cccccc"/>
<rect x="299.54" y="1118.17" width="13.77" height="20.49" fill="#cccccc"/>
<rect x="314.51" y="1118.17" width="13.77" height="20.49" fill="#fb0d1b"/>
<rect x="329.48" y="1118.17" width="13.77" height="20.49" fill="#cccccc"/>
<rect x="344.45" y="1118.17" width="13.77" height="20.49" fill="#cccccc"/>
<rect x="359.42" y="1118.17" width="13.77" height="20.49" fill="#cccccc"/>
<rect x="374.39" y="1118.17" width="13.77" height="20.49" fill="#cccccc"/>
<text x="263.8" y="1131.12" font-size="8.8" text-anchor="end" fill="#1a1a1a">NPIPA5</text>
<rect x="168.7" y="1121.82" width="29.7" height="13.2" fill="#7f9640"/>
<rect x="400.9" y="1121.82" width="6.75" height="13.2" fill="#4f74ab"/>
<rect x="272.19" y="820.07" width="8.6" height="12.82" fill="#32254f"/>
<rect x="287.15" y="786.73" width="8.6" height="46.17" fill="#32254f"/>
<rect x="302.12" y="799.98" width="8.6" height="32.92" fill="#32254f"/>
<rect x="317.09" y="792.29" width="8.6" height="40.61" fill="#32254f"/>
<rect x="332.06" y="798.7" width="8.6" height="34.2" fill="#32254f"/>
<rect x="347.04" y="802.55" width="8.6" height="30.35" fill="#32254f"/>
<rect x="362" y="815.37" width="8.6" height="17.53" fill="#32254f"/>
<rect x="376.97" y="779.46" width="8.6" height="53.44" fill="#32254f"/>
<line x1="267.7" y1="781.4" x2="267.7" y2="832.9" stroke="#000" stroke-width="0.6"/>
<line x1="265.8" y1="832.9" x2="267.7" y2="832.9" stroke="#000" stroke-width="0.5"/>
<text x="264.6" y="834.8" font-size="5.2" text-anchor="end" fill="#222">0</text>
<line x1="265.8" y1="824.32" x2="267.7" y2="824.32" stroke="#000" stroke-width="0.5"/>
<text x="264.6" y="826.22" font-size="5.2" text-anchor="end" fill="#222">0.2</text>
<line x1="265.8" y1="815.74" x2="267.7" y2="815.74" stroke="#000" stroke-width="0.5"/>
<text x="264.6" y="817.64" font-size="5.2" text-anchor="end" fill="#222">0.4</text>
<line x1="265.8" y1="807.16" x2="267.7" y2="807.16" stroke="#000" stroke-width="0.5"/>
<text x="264.6" y="809.06" font-size="5.2" text-anchor="end" fill="#222">0.6</text>
<line x1="265.8" y1="798.58" x2="267.7" y2="798.58" stroke="#000" stroke-width="0.5"/>
<text x="264.6" y="800.48" font-size="5.2" text-anchor="end" fill="#222">0.8</text>
<line x1="265.8" y1="790" x2="267.7" y2="790" stroke="#000" stroke-width="0.5"/>
<text x="264.6" y="791.9" font-size="5.2" text-anchor="end" fill="#222">1</text>
<line x1="265.8" y1="781.42" x2="267.7" y2="781.42" stroke="#000" stroke-width="0.5"/>
<text x="264.6" y="783.32" font-size="5.2" text-anchor="end" fill="#222">1.2</text>
<text x="214.5" y="803.5" font-size="9.2" text-anchor="middle" fill="#1a1a1a" transform="rotate(-90 214.5 803.5)">Tumor Mutation Burden</text>
<text x="279.69" y="1162.3" font-size="8.3" fill="#1a1a1a" transform="rotate(-90 279.69 1162.3)">P6T</text>
<text x="294.65" y="1162.3" font-size="8.3" fill="#1a1a1a" transform="rotate(-90 294.65 1162.3)">P2T</text>
<text x="309.62" y="1162.3" font-size="8.3" fill="#1a1a1a" transform="rotate(-90 309.62 1162.3)">P5T</text>
<text x="324.59" y="1162.3" font-size="8.3" fill="#1a1a1a" transform="rotate(-90 324.59 1162.3)">P9T</text>
<text x="339.56" y="1162.3" font-size="8.3" fill="#1a1a1a" transform="rotate(-90 339.56 1162.3)">P7T</text>
<text x="354.54" y="1162.3" font-size="8.3" fill="#1a1a1a" transform="rotate(-90 354.54 1162.3)">P3T</text>
<text x="369.5" y="1162.3" font-size="8.3" fill="#1a1a1a" transform="rotate(-90 369.5 1162.3)">P4T</text>
<text x="384.47" y="1162.3" font-size="8.3" fill="#1a1a1a" transform="rotate(-90 384.47 1162.3)">P1T</text>
<line x1="139" y1="1141.6" x2="198.4" y2="1141.6" stroke="#000" stroke-width="0.6"/>
<line x1="139" y1="1141.6" x2="139" y2="1145" stroke="#000" stroke-width="0.6"/>
<line x1="150.88" y1="1141.6" x2="150.88" y2="1145" stroke="#000" stroke-width="0.6"/>
<line x1="162.76" y1="1141.6" x2="162.76" y2="1145" stroke="#000" stroke-width="0.6"/>
<line x1="174.64" y1="1141.6" x2="174.64" y2="1145" stroke="#000" stroke-width="0.6"/>
<line x1="186.52" y1="1141.6" x2="186.52" y2="1145" stroke="#000" stroke-width="0.6"/>
<line x1="198.4" y1="1141.6" x2="198.4" y2="1145" stroke="#000" stroke-width="0.6"/>
<text x="139" y="1158.5" font-size="7.5" text-anchor="middle" fill="#1a1a1a">0.25</text>
<text x="162.8" y="1158.5" font-size="7.5" text-anchor="middle" fill="#1a1a1a">0.15</text>
<text x="186.6" y="1158.5" font-size="7.5" text-anchor="middle" fill="#1a1a1a">0.05</text>
<text x="198.6" y="1158.5" font-size="7.5" text-anchor="middle" fill="#1a1a1a">0</text>
<text x="168.7" y="1169" font-size="7.7" text-anchor="middle" fill="#1a1a1a">Frequency of th mutations in the cohort</text>
<line x1="400.9" y1="1141.6" x2="450.4" y2="1141.6" stroke="#000" stroke-width="0.6"/>
<line x1="400.9" y1="1141.6" x2="400.9" y2="1145" stroke="#000" stroke-width="0.6"/>
<text x="400.9" y="1158.5" font-size="7.5" text-anchor="middle" fill="#1a1a1a">0</text>
<line x1="417.4" y1="1141.6" x2="417.4" y2="1145" stroke="#000" stroke-width="0.6"/>
<text x="417.4" y="1158.5" font-size="7.5" text-anchor="middle" fill="#1a1a1a">1</text>
<line x1="433.9" y1="1141.6" x2="433.9" y2="1145" stroke="#000" stroke-width="0.6"/>
<text x="433.9" y="1158.5" font-size="7.5" text-anchor="middle" fill="#1a1a1a">2</text>
<line x1="450.4" y1="1141.6" x2="450.4" y2="1145" stroke="#000" stroke-width="0.6"/>
<text x="450.4" y="1158.5" font-size="7.5" text-anchor="middle" fill="#1a1a1a">3</text>
<text x="428.8" y="1169" font-size="7.8" text-anchor="middle" fill="#1a1a1a">−log p−vaule</text>
<text x="466" y="957.4" font-size="7.75" font-weight="bold">Alternations</text>
<rect x="466.6" y="962" width="7.6" height="7.7" fill="#fb0d1b"/>
<text x="477" y="968.6" font-size="7.75" fill="#1a1a1a">Missense</text>
<rect x="466.6" y="970.95" width="7.6" height="7.7" fill="#0070c0"/>
<text x="477" y="977.55" font-size="7.75" fill="#1a1a1a">Nonsense</text>
<rect x="466.6" y="979.9" width="7.6" height="7.7" fill="#fc2fd0"/>
<text x="477" y="986.5" font-size="7.75" fill="#1a1a1a">Splice_Site</text></g>
<g id="pe"><text x="632" y="744.5" font-size="36" class="sf">e</text>
<text x="889.5" y="763.8" font-size="14" text-anchor="middle">Comparison of pLELC and EBV+NPC</text>
<path d="M705.85 807.8H1073.99M705.85 818.45H1073.99M705.85 829.1H1073.99M705.85 839.75H1073.99M705.85 850.4H1073.99M705.85 861.05H1073.99M705.85 871.7H1073.99M705.85 882.35H1073.99M705.85 895.5H1073.99M705.85 906.15H1073.99M705.85 916.8H1073.99M705.85 927.45H1073.99M705.85 938.1H1073.99M705.85 948.75H1073.99M705.85 962.5H1073.99M705.85 973.15H1073.99M705.85 983.8H1073.99M705.85 994.45H1073.99M705.85 1005.1H1073.99M705.85 1015.75H1073.99M705.85 1026.4H1073.99M705.85 1037.05H1073.99M705.85 1047.7H1073.99M705.85 1058.35H1073.99M705.85 1069H1073.99M705.85 1079.65H1073.99M705.85 1090.3H1073.99M705.85 1100.95H1073.99M705.85 1114.6H1073.99M705.85 1125.25H1073.99M705.85 1135.9H1073.99M705.85 1146.55H1073.99" fill="none" stroke="#bebebe" stroke-width="8.4" stroke-dasharray="8.66 2.2"/>
<rect x="705" y="771.4" width="10.36" height="13.1" fill="#00ff00"/>
<rect x="715.86" y="771.4" width="10.36" height="13.1" fill="#00ff00"/>
<rect x="726.72" y="771.4" width="10.36" height="13.1" fill="#00ff00"/>
<rect x="737.58" y="771.4" width="10.36" height="13.1" fill="#00ff00"/>
<rect x="748.44" y="771.4" width="10.36" height="13.1" fill="#00ff00"/>
<rect x="759.3" y="771.4" width="10.36" height="13.1" fill="#00ff00"/>
<rect x="770.16" y="771.4" width="10.36" height="13.1" fill="#00ff00"/>
<rect x="781.02" y="771.4" width="10.36" height="13.1" fill="#00ff00"/>
<rect x="791.88" y="771.4" width="10.36" height="13.1" fill="#ffff00"/>
<rect x="802.74" y="771.4" width="10.36" height="13.1" fill="#ffff00"/>
<rect x="813.6" y="771.4" width="10.36" height="13.1" fill="#ffff00"/>
<rect x="824.46" y="771.4" width="10.36" height="13.1" fill="#ffff00"/>
<rect x="835.32" y="771.4" width="10.36" height="13.1" fill="#ffff00"/>
<rect x="846.18" y="771.4" width="10.36" height="13.1" fill="#ffff00"/>
<rect x="857.04" y="771.4" width="10.36" height="13.1" fill="#ffff00"/>
<rect x="867.9" y="771.4" width="10.36" height="13.1" fill="#ffff00"/>
<rect x="878.76" y="771.4" width="10.36" height="13.1" fill="#ffff00"/>
<rect x="889.62" y="771.4" width="10.36" height="13.1" fill="#ffff00"/>
<rect x="900.48" y="771.4" width="10.36" height="13.1" fill="#ffff00"/>
<rect x="911.34" y="771.4" width="10.36" height="13.1" fill="#ffff00"/>
<rect x="922.2" y="771.4" width="10.36" height="13.1" fill="#ffff00"/>
<rect x="933.06" y="771.4" width="10.36" height="13.1" fill="#ffff00"/>
<rect x="943.92" y="771.4" width="10.36" height="13.1" fill="#ffff00"/>
<rect x="954.78" y="771.4" width="10.36" height="13.1" fill="#ffff00"/>
<rect x="965.64" y="771.4" width="10.36" height="13.1" fill="#ffff00"/>
<rect x="976.5" y="771.4" width="10.36" height="13.1" fill="#ffff00"/>
<rect x="987.36" y="771.4" width="10.36" height="13.1" fill="#ffff00"/>
<rect x="998.22" y="771.4" width="10.36" height="13.1" fill="#ffff00"/>
<rect x="1009.08" y="771.4" width="10.36" height="13.1" fill="#ffff00"/>
<rect x="1019.94" y="771.4" width="10.36" height="13.1" fill="#ffff00"/>
<rect x="1030.8" y="771.4" width="10.36" height="13.1" fill="#ffff00"/>
<rect x="1041.66" y="771.4" width="10.36" height="13.1" fill="#ffff00"/>
<rect x="1052.52" y="771.4" width="10.36" height="13.1" fill="#ffff00"/>
<rect x="1063.38" y="771.4" width="10.36" height="13.1" fill="#ffff00"/>
<text x="671.5" y="812" font-size="11.7" text-anchor="end">9%</text>
<text x="1080.2" y="812" font-size="11.8">FAT2</text>
<rect x="1154.4" y="804.3" width="51.3" height="7" fill="#0000cd"/>
<text x="671.5" y="822.65" font-size="11.7" text-anchor="end">9%</text>
<text x="1080.2" y="822.65" font-size="11.8">IGFN1</text>
<rect x="1154.4" y="814.95" width="51.3" height="7" fill="#0000cd"/>
<text x="671.5" y="833.3" font-size="11.7" text-anchor="end">9%</text>
<text x="1080.2" y="833.3" font-size="11.8">SYNE1</text>
<rect x="1154.4" y="825.6" width="17.1" height="7" fill="#0000cd"/>
<rect x="1171.5" y="825.6" width="34.2" height="7" fill="#008000"/>
<text x="671.5" y="843.95" font-size="11.7" text-anchor="end">6%</text>
<text x="1080.2" y="843.95" font-size="11.8">FAT1</text>
<rect x="1154.4" y="836.25" width="34.2" height="7" fill="#0000cd"/>
<text x="671.5" y="854.6" font-size="11.7" text-anchor="end">6%</text>
<text x="1080.2" y="854.6" font-size="11.8">NOTCH1</text>
<rect x="1154.4" y="846.9" width="17.1" height="7" fill="#0000cd"/>
<rect x="1171.5" y="846.9" width="17.1" height="7" fill="#008000"/>
<text x="671.5" y="865.25" font-size="11.7" text-anchor="end">6%</text>
<text x="1080.2" y="865.25" font-size="11.8">NOTCH3</text>
<rect x="1154.4" y="857.55" width="34.2" height="7" fill="#0000cd"/>
<text x="671.5" y="875.9" font-size="11.7" text-anchor="end">6%</text>
<text x="1080.2" y="875.9" font-size="11.8">ATG13</text>
<rect x="1154.4" y="868.2" width="34.2" height="7" fill="#0000cd"/>
<text x="671.5" y="886.55" font-size="11.7" text-anchor="end">6%</text>
<text x="1080.2" y="886.55" font-size="11.8">ATG7</text>
<rect x="1154.4" y="878.85" width="17.1" height="7" fill="#0000cd"/>
<rect x="1171.5" y="878.85" width="17.1" height="7" fill="#008000"/>
<text x="698" y="845.1" font-size="14.1" text-anchor="middle" transform="rotate(-90 698 845.1)">ADA</text>
<text x="671.5" y="899.7" font-size="11.7" text-anchor="end">12%</text>
<text x="1080.2" y="899.7" font-size="11.8">MLL2</text>
<rect x="1154.4" y="892" width="41.04" height="7" fill="#0000cd"/>
<rect x="1195.44" y="892" width="10.26" height="7" fill="#008000"/>
<text x="671.5" y="910.35" font-size="11.7" text-anchor="end">6%</text>
<text x="1080.2" y="910.35" font-size="11.8">ARID1A</text>
<rect x="1154.4" y="902.65" width="20.52" height="7" fill="#0000cd"/>
<rect x="1174.92" y="902.65" width="10.26" height="7" fill="#ffa500"/>
<text x="671.5" y="921" font-size="11.7" text-anchor="end">9%</text>
<text x="1080.2" y="921" font-size="11.8">BAP1</text>
<rect x="1154.4" y="913.3" width="20.52" height="7" fill="#0000cd"/>
<rect x="1174.92" y="913.3" width="10.26" height="7" fill="#dc143c"/>
<text x="671.5" y="931.65" font-size="11.7" text-anchor="end">9%</text>
<text x="1080.2" y="931.65" font-size="11.8">TET2</text>
<rect x="1154.4" y="923.95" width="9.75" height="7" fill="#0000cd"/>
<rect x="1164.15" y="923.95" width="20.52" height="7" fill="#008000"/>
<text x="671.5" y="942.3" font-size="11.7" text-anchor="end">6%</text>
<text x="1080.2" y="942.3" font-size="11.8">TSHZ3</text>
<rect x="1154.4" y="934.6" width="20.52" height="7" fill="#0000cd"/>
<text x="671.5" y="952.95" font-size="11.7" text-anchor="end">6%</text>
<text x="1080.2" y="952.95" font-size="11.8">TET1</text>
<rect x="1154.4" y="945.25" width="20.52" height="7" fill="#0000cd"/>
<text x="698" y="922.15" font-size="14.1" text-anchor="middle" transform="rotate(-90 698 922.15)">Chr_mod</text>
<text x="671.5" y="966.7" font-size="11.7" text-anchor="end">9%</text>
<text x="1080.2" y="966.7" font-size="11.8">WSCD2</text>
<rect x="1154.4" y="959" width="34.2" height="7" fill="#0000cd"/>
<rect x="1188.6" y="959" width="17.1" height="7" fill="#008000"/>
<text x="671.5" y="977.35" font-size="11.7" text-anchor="end">6%</text>
<text x="1080.2" y="977.35" font-size="11.8">NBPF15</text>
<rect x="1154.4" y="969.65" width="34.2" height="7" fill="#0000cd"/>
<text x="671.5" y="988" font-size="11.7" text-anchor="end">6%</text>
<text x="1080.2" y="988" font-size="11.8">PRAMEF4</text>
<rect x="1154.4" y="980.3" width="34.2" height="7" fill="#0000cd"/>
<text x="671.5" y="998.65" font-size="11.7" text-anchor="end">6%</text>
<text x="1080.2" y="998.65" font-size="11.8">SPATA31C1</text>
<rect x="1154.4" y="990.95" width="34.2" height="7" fill="#0000cd"/>
<text x="671.5" y="1009.3" font-size="11.7" text-anchor="end">6%</text>
<text x="1080.2" y="1009.3" font-size="11.8">FANCM</text>
<rect x="1154.4" y="1001.6" width="17.1" height="7" fill="#0000cd"/>
<rect x="1171.5" y="1001.6" width="17.1" height="7" fill="#008000"/>
<text x="671.5" y="1019.95" font-size="11.7" text-anchor="end">6%</text>
<text x="1080.2" y="1019.95" font-size="11.8">OLIG2</text>
<rect x="1154.4" y="1012.25" width="34.2" height="7" fill="#0000cd"/>
<text x="671.5" y="1030.6" font-size="11.7" text-anchor="end">6%</text>
<text x="1080.2" y="1030.6" font-size="11.8">WDR17</text>
<rect x="1154.4" y="1022.9" width="34.2" height="7" fill="#0000cd"/>
<text x="671.5" y="1041.25" font-size="11.7" text-anchor="end">6%</text>
<text x="1080.2" y="1041.25" font-size="11.8">KRT86</text>
<rect x="1154.4" y="1033.55" width="34.2" height="7" fill="#0000cd"/>
<text x="671.5" y="1051.9" font-size="11.7" text-anchor="end">3%</text>
<text x="1080.2" y="1051.9" font-size="11.8">BAGE3</text>
<rect x="1154.4" y="1044.2" width="17.1" height="7" fill="#0000cd"/>
<text x="671.5" y="1062.55" font-size="11.7" text-anchor="end">3%</text>
<text x="1080.2" y="1062.55" font-size="11.8">KRT9</text>
<rect x="1154.4" y="1054.85" width="17.1" height="7" fill="#0000cd"/>
<text x="671.5" y="1073.2" font-size="11.7" text-anchor="end">3%</text>
<text x="1080.2" y="1073.2" font-size="11.8">NPIPA5</text>
<rect x="1154.4" y="1065.5" width="17.1" height="7" fill="#0000cd"/>
<text x="671.5" y="1083.85" font-size="11.7" text-anchor="end">3%</text>
<text x="1080.2" y="1083.85" font-size="11.8">PRH2</text>
<rect x="1154.4" y="1076.15" width="17.1" height="7" fill="#dc143c"/>
<text x="671.5" y="1094.5" font-size="11.7" text-anchor="end">3%</text>
<text x="1080.2" y="1094.5" font-size="11.8">CA8</text>
<rect x="1154.4" y="1086.8" width="17.1" height="7" fill="#0000cd"/>
<text x="671.5" y="1105.15" font-size="11.7" text-anchor="end">3%</text>
<text x="1080.2" y="1105.15" font-size="11.8">DEFB112</text>
<rect x="1154.4" y="1097.45" width="17.1" height="7" fill="#0000cd"/>
<text x="698" y="1031.75" font-size="14.1" text-anchor="middle" transform="rotate(-90 698 1031.75)">pLELC</text>
<text x="671.5" y="1118.8" font-size="11.7" text-anchor="end">29%</text>
<text x="1080.2" y="1118.8" font-size="11.8">TP53</text>
<rect x="1154.4" y="1111.1" width="30.78" height="7" fill="#0000cd"/>
<rect x="1185.18" y="1111.1" width="10.26" height="7" fill="#008000"/>
<rect x="1195.44" y="1111.1" width="5.13" height="7" fill="#dc143c"/>
<rect x="1200.57" y="1111.1" width="5.13" height="7" fill="#ffa500"/>
<text x="671.5" y="1129.45" font-size="11.7" text-anchor="end">6%</text>
<text x="1080.2" y="1129.45" font-size="11.8">FGFR2</text>
<rect x="1154.4" y="1121.75" width="9.58" height="7" fill="#0000cd"/>
<text x="671.5" y="1140.1" font-size="11.7" text-anchor="end">6%</text>
<text x="1080.2" y="1140.1" font-size="11.8">ERBB3</text>
<rect x="1154.4" y="1132.4" width="9.58" height="7" fill="#0000cd"/>
<text x="671.5" y="1150.75" font-size="11.7" text-anchor="end">3%</text>
<text x="1080.2" y="1150.75" font-size="11.8">CDKN2A</text>
<rect x="1154.4" y="1143.05" width="4.28" height="7" fill="#008000"/>
<text x="698" y="1130.6" font-size="14.1" text-anchor="middle" transform="rotate(-90 698 1130.6)">RTK_Cycle</text>
<g fill="#0000cd"><rect x="912.19" y="805" width="8.66" height="5.6"/><rect x="923.05" y="805" width="8.66" height="5.6"/><rect x="933.91" y="805" width="8.66" height="5.6"/><rect x="814.45" y="815.65" width="8.66" height="5.6"/><rect x="912.19" y="815.65" width="8.66" height="5.6"/><rect x="923.05" y="815.65" width="8.66" height="5.6"/><rect x="944.77" y="826.3" width="8.66" height="5.6"/><rect x="792.73" y="836.95" width="8.66" height="5.6"/><rect x="1020.79" y="836.95" width="8.66" height="5.6"/><rect x="803.59" y="847.6" width="8.66" height="5.6"/><rect x="792.73" y="858.25" width="8.66" height="5.6"/><rect x="933.91" y="858.25" width="8.66" height="5.6"/><rect x="792.73" y="868.9" width="8.66" height="5.6"/><rect x="847.03" y="868.9" width="8.66" height="5.6"/><rect x="1042.51" y="879.55" width="8.66" height="5.6"/><rect x="792.73" y="892.7" width="8.66" height="5.6"/><rect x="803.59" y="892.7" width="8.66" height="5.6"/><rect x="890.47" y="892.7" width="8.66" height="5.6"/><rect x="901.33" y="892.7" width="8.66" height="5.6"/><rect x="803.59" y="903.35" width="8.66" height="5.6"/><rect x="955.63" y="903.35" width="8.66" height="5.6"/><rect x="836.17" y="914" width="8.66" height="5.6"/><rect x="977.35" y="914" width="8.66" height="5.6"/><rect x="923.05" y="924.65" width="8.66" height="5.6"/><rect x="857.89" y="935.3" width="8.66" height="5.6"/><rect x="1053.37" y="935.3" width="8.66" height="5.6"/><rect x="999.07" y="945.95" width="8.66" height="5.6"/><rect x="1064.23" y="945.95" width="8.66" height="5.6"/><rect x="705.85" y="959.7" width="8.66" height="5.6"/><rect x="868.75" y="959.7" width="8.66" height="5.6"/><rect x="760.15" y="970.35" width="8.66" height="5.6"/><rect x="771.01" y="970.35" width="8.66" height="5.6"/><rect x="727.57" y="981" width="8.66" height="5.6"/><rect x="738.43" y="981" width="8.66" height="5.6"/><rect x="705.85" y="991.65" width="8.66" height="5.6"/><rect x="727.57" y="991.65" width="8.66" height="5.6"/><rect x="749.29" y="1002.3" width="8.66" height="5.6"/><rect x="749.29" y="1012.95" width="8.66" height="5.6"/><rect x="760.15" y="1012.95" width="8.66" height="5.6"/><rect x="727.57" y="1023.6" width="8.66" height="5.6"/><rect x="760.15" y="1023.6" width="8.66" height="5.6"/><rect x="716.71" y="1034.25" width="8.66" height="5.6"/><rect x="727.57" y="1034.25" width="8.66" height="5.6"/><rect x="738.43" y="1044.9" width="8.66" height="5.6"/><rect x="760.15" y="1055.55" width="8.66" height="5.6"/><rect x="749.29" y="1066.2" width="8.66" height="5.6"/><rect x="705.85" y="1087.5" width="8.66" height="5.6"/><rect x="749.29" y="1098.15" width="8.66" height="5.6"/><rect x="792.73" y="1111.8" width="8.66" height="5.6"/><rect x="836.17" y="1111.8" width="8.66" height="5.6"/><rect x="847.03" y="1111.8" width="8.66" height="5.6"/><rect x="857.89" y="1111.8" width="8.66" height="5.6"/><rect x="868.75" y="1111.8" width="8.66" height="5.6"/><rect x="879.61" y="1111.8" width="8.66" height="5.6"/><rect x="999.07" y="1122.45" width="8.66" height="5.6"/><rect x="1009.93" y="1122.45" width="8.66" height="5.6"/><rect x="814.45" y="1133.1" width="8.66" height="5.6"/><rect x="847.03" y="1133.1" width="8.66" height="5.6"/></g>
<g fill="#008000"><rect x="825.31" y="825.4" width="8.66" height="7.4"/><rect x="912.19" y="825.4" width="8.66" height="7.4"/><rect x="1031.65" y="846.7" width="8.66" height="7.4"/><rect x="803.59" y="878.65" width="8.66" height="7.4"/><rect x="803.59" y="891.7" width="8.66" height="1"/><rect x="803.59" y="898.3" width="8.66" height="1"/><rect x="825.31" y="923.75" width="8.66" height="7.4"/><rect x="988.21" y="923.75" width="8.66" height="7.4"/><rect x="716.71" y="958.8" width="8.66" height="7.4"/><rect x="705.85" y="1001.4" width="8.66" height="7.4"/><rect x="716.71" y="1110.9" width="8.66" height="7.4"/><rect x="814.45" y="1110.9" width="8.66" height="7.4"/><rect x="771.01" y="1142.85" width="8.66" height="7.4"/></g>
<g fill="#dc143c"><rect x="966.49" y="913.1" width="8.66" height="7.4"/><rect x="749.29" y="1075.95" width="8.66" height="7.4"/><rect x="705.85" y="1110.9" width="8.66" height="7.4"/></g>
<g fill="#ffa500"><rect x="803.59" y="902.35" width="8.66" height="1"/><rect x="803.59" y="908.95" width="8.66" height="1"/><rect x="825.31" y="1110.9" width="8.66" height="7.4"/></g>
<rect x="705.85" y="793.01" width="8.66" height="5.79" fill="#0000cd"/>
<rect x="705.85" y="791.08" width="8.66" height="1.93" fill="#008000"/>
<rect x="705.85" y="789.15" width="8.66" height="1.93" fill="#dc143c"/>
<rect x="716.71" y="796.87" width="8.66" height="1.93" fill="#0000cd"/>
<rect x="716.71" y="793.01" width="8.66" height="3.86" fill="#008000"/>
<rect x="727.57" y="791.08" width="8.66" height="7.72" fill="#0000cd"/>
<rect x="738.43" y="794.94" width="8.66" height="3.86" fill="#0000cd"/>
<rect x="749.29" y="791.08" width="8.66" height="7.72" fill="#0000cd"/>
<rect x="749.29" y="789.15" width="8.66" height="1.93" fill="#dc143c"/>
<rect x="760.15" y="791.08" width="8.66" height="7.72" fill="#0000cd"/>
<rect x="771.01" y="796.87" width="8.66" height="1.93" fill="#0000cd"/>
<rect x="771.01" y="794.94" width="8.66" height="1.93" fill="#008000"/>
<rect x="792.73" y="789.15" width="8.66" height="9.65" fill="#0000cd"/>
<rect x="803.59" y="793.01" width="8.66" height="5.79" fill="#0000cd"/>
<rect x="803.59" y="789.15" width="8.66" height="3.86" fill="#008000"/>
<rect x="803.59" y="787.22" width="8.66" height="1.93" fill="#ffa500"/>
<rect x="814.45" y="794.94" width="8.66" height="3.86" fill="#0000cd"/>
<rect x="814.45" y="793.01" width="8.66" height="1.93" fill="#008000"/>
<rect x="825.31" y="794.94" width="8.66" height="3.86" fill="#008000"/>
<rect x="825.31" y="793.01" width="8.66" height="1.93" fill="#ffa500"/>
<rect x="836.17" y="794.94" width="8.66" height="3.86" fill="#0000cd"/>
<rect x="847.03" y="793.01" width="8.66" height="5.79" fill="#0000cd"/>
<rect x="857.89" y="794.94" width="8.66" height="3.86" fill="#0000cd"/>
<rect x="868.75" y="794.94" width="8.66" height="3.86" fill="#0000cd"/>
<rect x="879.61" y="796.87" width="8.66" height="1.93" fill="#0000cd"/>
<rect x="890.47" y="796.87" width="8.66" height="1.93" fill="#0000cd"/>
<rect x="901.33" y="796.87" width="8.66" height="1.93" fill="#0000cd"/>
<rect x="912.19" y="794.94" width="8.66" height="3.86" fill="#0000cd"/>
<rect x="912.19" y="793.01" width="8.66" height="1.93" fill="#008000"/>
<rect x="923.05" y="793.01" width="8.66" height="5.79" fill="#0000cd"/>
<rect x="933.91" y="794.94" width="8.66" height="3.86" fill="#0000cd"/>
<rect x="944.77" y="796.87" width="8.66" height="1.93" fill="#0000cd"/>
<rect x="955.63" y="796.87" width="8.66" height="1.93" fill="#0000cd"/>
<rect x="966.49" y="796.87" width="8.66" height="1.93" fill="#dc143c"/>
<rect x="977.35" y="796.87" width="8.66" height="1.93" fill="#0000cd"/>
<rect x="988.21" y="796.87" width="8.66" height="1.93" fill="#008000"/>
<rect x="999.07" y="794.94" width="8.66" height="3.86" fill="#0000cd"/>
<rect x="1009.93" y="796.87" width="8.66" height="1.93" fill="#0000cd"/>
<rect x="1020.79" y="796.87" width="8.66" height="1.93" fill="#0000cd"/>
<rect x="1031.65" y="796.87" width="8.66" height="1.93" fill="#008000"/>
<rect x="1042.51" y="796.87" width="8.66" height="1.93" fill="#0000cd"/>
<rect x="1053.37" y="796.87" width="8.66" height="1.93" fill="#0000cd"/>
<rect x="1064.23" y="796.87" width="8.66" height="1.93" fill="#0000cd"/>
<line x1="704.6" y1="786.2" x2="704.6" y2="799.5" stroke="#000" stroke-width="0.6"/>
<line x1="699.6" y1="799.3" x2="704.6" y2="799.3" stroke="#000" stroke-width="0.45"/>
<line x1="699.6" y1="797.13" x2="704.6" y2="797.13" stroke="#000" stroke-width="0.45"/>
<line x1="699.6" y1="794.96" x2="704.6" y2="794.96" stroke="#000" stroke-width="0.45"/>
<line x1="699.6" y1="792.79" x2="704.6" y2="792.79" stroke="#000" stroke-width="0.45"/>
<line x1="699.6" y1="790.62" x2="704.6" y2="790.62" stroke="#000" stroke-width="0.45"/>
<line x1="699.6" y1="788.45" x2="704.6" y2="788.45" stroke="#000" stroke-width="0.45"/>
<line x1="699.6" y1="786.28" x2="704.6" y2="786.28" stroke="#000" stroke-width="0.45"/>
<text x="695.6" y="799.2" font-size="7.4" text-anchor="middle" fill="#222" transform="rotate(-90 695.6 799.2)">0</text>
<text x="695.6" y="792.8" font-size="7.4" text-anchor="middle" fill="#222" transform="rotate(-90 695.6 792.8)">3</text>
<text x="695.6" y="786.4" font-size="7.4" text-anchor="middle" fill="#222" transform="rotate(-90 695.6 786.4)">6</text>
<text x="712.98" y="1157.6" font-size="7.9" text-anchor="end" transform="rotate(-90 712.98 1157.6)">P2T</text>
<text x="723.84" y="1157.6" font-size="7.9" text-anchor="end" transform="rotate(-90 723.84 1157.6)">P7T</text>
<text x="734.7" y="1157.6" font-size="7.9" text-anchor="end" transform="rotate(-90 734.7 1157.6)">P6T</text>
<text x="745.56" y="1157.6" font-size="7.9" text-anchor="end" transform="rotate(-90 745.56 1157.6)">P5T</text>
<text x="756.42" y="1157.6" font-size="7.9" text-anchor="end" transform="rotate(-90 756.42 1157.6)">P9T</text>
<text x="767.28" y="1157.6" font-size="7.9" text-anchor="end" transform="rotate(-90 767.28 1157.6)">P3T</text>
<text x="778.14" y="1157.6" font-size="7.9" text-anchor="end" transform="rotate(-90 778.14 1157.6)">P4T</text>
<text x="789" y="1157.6" font-size="7.9" text-anchor="end" transform="rotate(-90 789 1157.6)">P1T</text>
<text x="799.86" y="1157.6" font-size="7.9" text-anchor="end" transform="rotate(-90 799.86 1157.6)">NPC15F</text>
<text x="810.72" y="1157.6" font-size="7.9" text-anchor="end" transform="rotate(-90 810.72 1157.6)">NPC3D</text>
<text x="821.58" y="1157.6" font-size="7.9" text-anchor="end" transform="rotate(-90 821.58 1157.6)">NPC6F</text>
<text x="832.44" y="1157.6" font-size="7.9" text-anchor="end" transform="rotate(-90 832.44 1157.6)">NPC28F</text>
<text x="843.3" y="1157.6" font-size="7.9" text-anchor="end" transform="rotate(-90 843.3 1157.6)">NPC22F</text>
<text x="854.16" y="1157.6" font-size="7.9" text-anchor="end" transform="rotate(-90 854.16 1157.6)">NPC115D</text>
<text x="865.02" y="1157.6" font-size="7.9" text-anchor="end" transform="rotate(-90 865.02 1157.6)">NPC32F</text>
<text x="875.88" y="1157.6" font-size="7.9" text-anchor="end" transform="rotate(-90 875.88 1157.6)">NPC34F</text>
<text x="886.74" y="1157.6" font-size="7.9" text-anchor="end" transform="rotate(-90 886.74 1157.6)">NPC42F</text>
<text x="897.6" y="1157.6" font-size="7.9" text-anchor="end" transform="rotate(-90 897.6 1157.6)">NPC015D</text>
<text x="908.46" y="1157.6" font-size="7.9" text-anchor="end" transform="rotate(-90 908.46 1157.6)">NPC7F</text>
<text x="919.32" y="1157.6" font-size="7.9" text-anchor="end" transform="rotate(-90 919.32 1157.6)">NPC5F</text>
<text x="930.18" y="1157.6" font-size="7.9" text-anchor="end" transform="rotate(-90 930.18 1157.6)">NPC2F</text>
<text x="941.04" y="1157.6" font-size="7.9" text-anchor="end" transform="rotate(-90 941.04 1157.6)">NPC5D</text>
<text x="951.9" y="1157.6" font-size="7.9" text-anchor="end" transform="rotate(-90 951.9 1157.6)">NPC41F</text>
<text x="962.76" y="1157.6" font-size="7.9" text-anchor="end" transform="rotate(-90 962.76 1157.6)">NPC10F</text>
<text x="973.62" y="1157.6" font-size="7.9" text-anchor="end" transform="rotate(-90 973.62 1157.6)">NPC29F</text>
<text x="984.48" y="1157.6" font-size="7.9" text-anchor="end" transform="rotate(-90 984.48 1157.6)">NPC3F</text>
<text x="995.34" y="1157.6" font-size="7.9" text-anchor="end" transform="rotate(-90 995.34 1157.6)">NPC38F</text>
<text x="1006.2" y="1157.6" font-size="7.9" text-anchor="end" transform="rotate(-90 1006.2 1157.6)">NPC18F</text>
<text x="1017.06" y="1157.6" font-size="7.9" text-anchor="end" transform="rotate(-90 1017.06 1157.6)">NPC35F</text>
<text x="1027.92" y="1157.6" font-size="7.9" text-anchor="end" transform="rotate(-90 1027.92 1157.6)">NPC25F</text>
<text x="1038.78" y="1157.6" font-size="7.9" text-anchor="end" transform="rotate(-90 1038.78 1157.6)">NPC10D</text>
<text x="1049.64" y="1157.6" font-size="7.9" text-anchor="end" transform="rotate(-90 1049.64 1157.6)">NPC21F</text>
<text x="1060.5" y="1157.6" font-size="7.9" text-anchor="end" transform="rotate(-90 1060.5 1157.6)">NPC27F</text>
<text x="1071.36" y="1157.6" font-size="7.9" text-anchor="end" transform="rotate(-90 1071.36 1157.6)">NPC14F</text>
<line x1="1154.4" y1="802.1" x2="1205.7" y2="802.1" stroke="#000" stroke-width="0.6"/>
<line x1="1154.4" y1="798.2" x2="1154.4" y2="802.1" stroke="#000" stroke-width="0.6"/>
<line x1="1162.95" y1="798.2" x2="1162.95" y2="802.1" stroke="#000" stroke-width="0.6"/>
<line x1="1171.5" y1="798.2" x2="1171.5" y2="802.1" stroke="#000" stroke-width="0.6"/>
<line x1="1180.05" y1="798.2" x2="1180.05" y2="802.1" stroke="#000" stroke-width="0.6"/>
<line x1="1188.6" y1="798.2" x2="1188.6" y2="802.1" stroke="#000" stroke-width="0.6"/>
<line x1="1197.15" y1="798.2" x2="1197.15" y2="802.1" stroke="#000" stroke-width="0.6"/>
<line x1="1205.7" y1="798.2" x2="1205.7" y2="802.1" stroke="#000" stroke-width="0.6"/>
<text x="1180" y="790.6" font-size="7.6" text-anchor="middle" textLength="56.5" lengthAdjust="spacing">00.511.522.53</text>
<text x="1216.7" y="949" font-size="10.15" font-weight="bold">Alternations</text>
<rect x="1217.3" y="953.4" width="10.4" height="10.2" fill="#ffa500"/>
<text x="1231.3" y="962.2" font-size="10.15">Frame_Shift</text>
<rect x="1217.3" y="964.9" width="10.4" height="10.2" fill="#dc143c"/>
<text x="1231.3" y="973.7" font-size="10.15">Splice_Site</text>
<rect x="1217.3" y="976.4" width="10.4" height="10.2" fill="#008000"/>
<text x="1231.3" y="985.2" font-size="10.15">Nonsense</text>
<rect x="1217.3" y="987.9" width="10.4" height="10.2" fill="#0000cd"/>
<text x="1231.3" y="996.7" font-size="10.15">Missense</text>
<text x="1291.6" y="949" font-size="10.15" font-weight="bold">STUDY_ID</text>
<rect x="1291.8" y="953.4" width="10.4" height="10.2" fill="#ffff00"/>
<text x="1305.4" y="962.2" font-size="10.15">EBV+NPC</text>
<rect x="1291.8" y="964.9" width="10.4" height="10.2" fill="#00ff00"/>
<text x="1305.4" y="973.7" font-size="10.15">pLELC</text></g>
<g id="pf"><text x="15" y="1215.8" font-size="36" class="sf">f</text>
<text x="558" y="1235.2" font-size="12.9" text-anchor="middle">Comparison of pLELC and LUAD/LUSC from TCGA database</text>
<path d="M152.38 1276.8H965.04M152.38 1289.13H965.04M152.38 1304.7H965.04M152.38 1317.03H965.04M152.38 1329.36H965.04M152.38 1341.69H965.04M152.38 1356.9H965.04M152.38 1369.23H965.04M152.38 1381.56H965.04M152.38 1393.89H965.04M152.38 1406.22H965.04M152.38 1418.55H965.04M152.38 1430.88H965.04M152.38 1443.21H965.04M152.38 1455.54H965.04M152.38 1467.87H965.04M152.38 1480.2H965.04M152.38 1492.53H965.04M152.38 1504.86H965.04M152.38 1517.19H965.04M152.38 1529.52H965.04M152.38 1546.1H965.04M152.38 1558.43H965.04M152.38 1573.3H965.04M152.38 1585.63H965.04M152.38 1597.96H965.04M152.38 1610.29H965.04M152.38 1622.62H965.04M152.38 1634.95H965.04" fill="none" stroke="#bebebe" stroke-width="10.2" stroke-dasharray="5.46 2.15"/>
<path d="M151.97 1248.5H531.55" fill="none" stroke="#ff0000" stroke-width="12.2" stroke-dasharray="6.25 1.35"/>
<path d="M532.23 1248.5H904.2" fill="none" stroke="#0000ff" stroke-width="12.2" stroke-dasharray="6.25 1.35"/>
<path d="M904.87 1248.5H965.04" fill="none" stroke="#00ff00" stroke-width="12.2" stroke-dasharray="6.25 1.35"/>
<text x="120.2" y="1280.8" font-size="10.6" text-anchor="end">16%</text>
<text x="970.8" y="1280.9" font-size="11">CDKN2A</text>
<rect x="1039.17" y="1272.4" width="7.89" height="8.8" fill="#ffa500"/>
<rect x="1047.06" y="1272.4" width="7.58" height="8.8" fill="#dc143c"/>
<rect x="1054.64" y="1272.4" width="21.54" height="8.8" fill="#0000cd"/>
<rect x="1076.18" y="1272.4" width="10.01" height="8.8" fill="#008000"/>
<text x="120.2" y="1293.13" font-size="10.6" text-anchor="end">8%</text>
<text x="970.8" y="1293.23" font-size="11">RB1</text>
<rect x="1039.17" y="1284.73" width="10.31" height="8.8" fill="#ffa500"/>
<rect x="1049.48" y="1284.73" width="5.16" height="8.8" fill="#dc143c"/>
<rect x="1054.64" y="1284.73" width="2.73" height="8.8" fill="#0000cd"/>
<rect x="1057.67" y="1284.73" width="4.85" height="8.8" fill="#008000"/>
<text x="145.3" y="1282.98" font-size="13.6" text-anchor="middle" transform="rotate(-90 145.3 1282.98)">C</text>
<text x="120.2" y="1308.7" font-size="10.6" text-anchor="end">7%</text>
<text x="970.8" y="1308.8" font-size="11">PTEN</text>
<rect x="1039.17" y="1300.3" width="6.67" height="8.8" fill="#ffa500"/>
<rect x="1045.84" y="1300.3" width="27" height="8.8" fill="#0000cd"/>
<rect x="1072.84" y="1300.3" width="13.35" height="8.8" fill="#008000"/>
<text x="120.2" y="1321.03" font-size="10.6" text-anchor="end">5%</text>
<text x="970.8" y="1321.13" font-size="11">PIK3CA</text>
<rect x="1039.17" y="1312.63" width="6.67" height="8.8" fill="#ffa500"/>
<rect x="1045.84" y="1312.63" width="27" height="8.8" fill="#0000cd"/>
<text x="120.2" y="1333.36" font-size="10.6" text-anchor="end">3%</text>
<text x="970.8" y="1333.46" font-size="11">MTOR</text>
<rect x="1039.17" y="1324.96" width="19.72" height="8.8" fill="#0000cd"/>
<text x="120.2" y="1345.69" font-size="10.6" text-anchor="end">1%</text>
<text x="970.8" y="1345.79" font-size="11">AKT1</text>
<rect x="1039.17" y="1337.29" width="6.37" height="8.8" fill="#0000cd"/>
<text x="145.3" y="1323.21" font-size="13.6" text-anchor="middle" transform="rotate(-90 145.3 1323.21)">PAT</text>
<text x="120.2" y="1360.9" font-size="10.6" text-anchor="end">69%</text>
<text x="970.8" y="1361" font-size="11">TP53</text>
<rect x="1039.17" y="1352.5" width="7.89" height="8.8" fill="#ffa500"/>
<rect x="1047.06" y="1352.5" width="6.98" height="8.8" fill="#dc143c"/>
<rect x="1054.03" y="1352.5" width="24.27" height="8.8" fill="#0000cd"/>
<rect x="1078.3" y="1352.5" width="7.89" height="8.8" fill="#008000"/>
<text x="120.2" y="1373.23" font-size="10.6" text-anchor="end">7%</text>
<text x="970.8" y="1373.33" font-size="11">FANCM</text>
<rect x="1039.47" y="1364.83" width="2.43" height="8.8" fill="#0000cd"/>
<rect x="1041.9" y="1364.83" width="1.82" height="8.8" fill="#008000"/>
<text x="120.2" y="1385.56" font-size="10.6" text-anchor="end">6%</text>
<text x="970.8" y="1385.66" font-size="11">WDR17</text>
<rect x="1039.17" y="1377.16" width="3.34" height="8.8" fill="#0000cd"/>
<text x="120.2" y="1397.89" font-size="10.6" text-anchor="end">6%</text>
<text x="970.8" y="1397.99" font-size="11">WSCD2</text>
<rect x="1039.47" y="1389.49" width="1.82" height="8.8" fill="#0000cd"/>
<rect x="1041.29" y="1389.49" width="1.52" height="8.8" fill="#008000"/>
<text x="120.2" y="1410.22" font-size="10.6" text-anchor="end">4%</text>
<text x="970.8" y="1410.32" font-size="11">DEFB112</text>
<rect x="1039.17" y="1401.82" width="2.12" height="8.8" fill="#0000cd"/>
<text x="120.2" y="1422.55" font-size="10.6" text-anchor="end">3%</text>
<text x="970.8" y="1422.65" font-size="11">NBPF15</text>
<rect x="1039.17" y="1414.15" width="1.52" height="8.8" fill="#0000cd"/>
<text x="120.2" y="1434.88" font-size="10.6" text-anchor="end">3%</text>
<text x="970.8" y="1434.98" font-size="11">KRT86</text>
<rect x="1039.17" y="1426.48" width="1.52" height="8.8" fill="#0000cd"/>
<text x="120.2" y="1447.21" font-size="10.6" text-anchor="end">2%</text>
<text x="970.8" y="1447.31" font-size="11">PRAMEF4</text>
<rect x="1039.17" y="1438.81" width="0.76" height="8.8" fill="#0000cd"/>
<text x="120.2" y="1459.54" font-size="10.6" text-anchor="end">2%</text>
<text x="970.8" y="1459.64" font-size="11">SPATA31C1</text>
<rect x="1039.17" y="1451.14" width="0.76" height="8.8" fill="#0000cd"/>
<text x="120.2" y="1471.87" font-size="10.6" text-anchor="end">2%</text>
<text x="970.8" y="1471.97" font-size="11">PRH2</text>
<text x="120.2" y="1484.2" font-size="10.6" text-anchor="end">2%</text>
<text x="970.8" y="1484.3" font-size="11">OLIG2</text>
<rect x="1039.17" y="1475.8" width="0.76" height="8.8" fill="#0000cd"/>
<text x="120.2" y="1496.53" font-size="10.6" text-anchor="end">1%</text>
<text x="970.8" y="1496.63" font-size="11">BAGE3</text>
<text x="120.2" y="1508.86" font-size="10.6" text-anchor="end">1%</text>
<text x="970.8" y="1508.96" font-size="11">KRT9</text>
<text x="120.2" y="1521.19" font-size="10.6" text-anchor="end">1%</text>
<text x="970.8" y="1521.29" font-size="11">NPIPA5</text>
<text x="120.2" y="1533.52" font-size="10.6" text-anchor="end">1%</text>
<text x="970.8" y="1533.62" font-size="11">CA8</text>
<text x="145.3" y="1475.5" font-size="13.6" text-anchor="middle" transform="rotate(-90 145.3 1475.5)">pLELC</text>
<text x="120.2" y="1550.1" font-size="10.6" text-anchor="end">12%</text>
<text x="970.8" y="1550.2" font-size="11">KRAS</text>
<rect x="1039.17" y="1541.7" width="43.68" height="8.8" fill="#0000cd"/>
<rect x="1083.46" y="1541.7" width="2.73" height="8.8" fill="#008000"/>
<text x="120.2" y="1562.43" font-size="10.6" text-anchor="end">7%</text>
<text x="970.8" y="1562.53" font-size="11">BRAF</text>
<rect x="1039.17" y="1554.03" width="3.03" height="8.8" fill="#dc143c"/>
<rect x="1042.2" y="1554.03" width="20.32" height="8.8" fill="#0000cd"/>
<text x="145.3" y="1552.28" font-size="13.6" text-anchor="middle" transform="rotate(-90 145.3 1552.28)">RMJ</text>
<text x="120.2" y="1577.3" font-size="10.6" text-anchor="end">21%</text>
<text x="970.8" y="1577.4" font-size="11">EGFR</text>
<rect x="1039.17" y="1568.9" width="1.52" height="8.8" fill="#ffa500"/>
<rect x="1040.69" y="1568.9" width="3.64" height="8.8" fill="#dc143c"/>
<rect x="1044.33" y="1568.9" width="7.58" height="8.8" fill="#8b4513"/>
<rect x="1051.91" y="1568.9" width="30.33" height="8.8" fill="#0000cd"/>
<rect x="1082.85" y="1568.9" width="3.34" height="8.8" fill="#008000"/>
<text x="120.2" y="1589.63" font-size="10.6" text-anchor="end">8%</text>
<text x="970.8" y="1589.73" font-size="11">KDR</text>
<rect x="1039.17" y="1581.23" width="16.68" height="8.8" fill="#0000cd"/>
<text x="120.2" y="1601.96" font-size="10.6" text-anchor="end">6%</text>
<text x="970.8" y="1602.06" font-size="11">ERBB4</text>
<rect x="1039.17" y="1593.56" width="1.82" height="8.8" fill="#dc143c"/>
<rect x="1040.99" y="1593.56" width="9.1" height="8.8" fill="#0000cd"/>
<text x="120.2" y="1614.29" font-size="10.6" text-anchor="end">5%</text>
<text x="970.8" y="1614.39" font-size="11">PDGFRA</text>
<rect x="1039.17" y="1605.89" width="1.82" height="8.8" fill="#8b4513"/>
<rect x="1040.99" y="1605.89" width="7.28" height="8.8" fill="#0000cd"/>
<text x="120.2" y="1626.62" font-size="10.6" text-anchor="end">4%</text>
<text x="970.8" y="1626.72" font-size="11">KIT</text>
<rect x="1039.17" y="1618.22" width="6.98" height="8.8" fill="#0000cd"/>
<text x="120.2" y="1638.95" font-size="10.6" text-anchor="end">4%</text>
<text x="970.8" y="1639.05" font-size="11">FGFR1</text>
<rect x="1039.17" y="1630.55" width="1.52" height="8.8" fill="#dc143c"/>
<rect x="1040.69" y="1630.55" width="5.46" height="8.8" fill="#0000cd"/>
<text x="145.3" y="1604.14" font-size="13.6" text-anchor="middle" transform="rotate(-90 145.3 1604.14)">RTK</text>
<path d="M185.52 1273.7v6.2M200.73 1273.7v6.2M261.57 1273.7v6.2M497.33 1273.7v6.2M542.96 1273.7v6.2M550.56 1273.7v6.2M603.8 1273.7v6.2M847.16 1273.7v6.2M390.86 1286.03v6.2M185.52 1301.6v6.2M657.03 1301.6v6.2M672.24 1301.6v6.2M854.76 1301.6v6.2M482.12 1313.93v6.2M573.38 1313.93v6.2M695.06 1313.93v6.2M755.9 1313.93v6.2M246.36 1326.26v6.2M421.28 1326.26v6.2M603.8 1326.26v6.2M322.41 1338.59v6.2M170.31 1353.8v6.2M177.92 1353.8v6.2M193.13 1353.8v6.2M200.73 1353.8v6.2M208.34 1353.8v6.2M223.55 1353.8v6.2M231.15 1353.8v6.2M253.97 1353.8v6.2M261.57 1353.8v6.2M269.18 1353.8v6.2M276.78 1353.8v6.2M284.39 1353.8v6.2M291.99 1353.8v6.2M299.6 1353.8v6.2M307.2 1353.8v6.2M322.41 1353.8v6.2M337.62 1353.8v6.2M352.83 1353.8v6.2M375.65 1353.8v6.2M535.35 1353.8v6.2M565.77 1353.8v6.2M580.98 1353.8v6.2M596.19 1353.8v6.2M611.4 1353.8v6.2M619.01 1353.8v6.2M634.22 1353.8v6.2M657.03 1353.8v6.2M664.64 1353.8v6.2M672.24 1353.8v6.2M710.27 1353.8v6.2M725.48 1353.8v6.2M763.5 1353.8v6.2M786.32 1353.8v6.2M793.92 1353.8v6.2M809.13 1353.8v6.2M816.74 1353.8v6.2M824.34 1353.8v6.2M831.95 1353.8v6.2M185.52 1366.13v6.2M200.73 1366.13v6.2M314.81 1366.13v6.2M565.77 1366.13v6.2M915.6 1366.13v6.2M200.73 1378.46v6.2M611.4 1378.46v6.2M687.45 1378.46v6.2M854.76 1378.46v6.2M930.81 1378.46v6.2M946.02 1378.46v6.2M200.73 1390.79v6.2M763.5 1390.79v6.2M908 1390.79v6.2M330.02 1403.12v6.2M603.8 1403.12v6.2M763.5 1403.12v6.2M915.6 1403.12v6.2M755.9 1415.45v6.2M946.02 1415.45v6.2M953.63 1415.45v6.2M269.18 1427.78v6.2M923.21 1427.78v6.2M930.81 1427.78v6.2M930.81 1440.11v6.2M938.42 1440.11v6.2M908 1452.44v6.2M930.81 1452.44v6.2M558.17 1464.77v6.2M915.6 1477.1v6.2M946.02 1477.1v6.2M938.42 1489.43v6.2M946.02 1501.76v6.2M915.6 1514.09v6.2M908 1526.42v6.2M185.52 1543v6.2M193.13 1543v6.2M246.36 1543v6.2M406.07 1543v6.2M413.67 1543v6.2M421.28 1543v6.2M428.88 1543v6.2M436.49 1543v6.2M444.09 1543v6.2M451.7 1543v6.2M459.3 1543v6.2M466.91 1543v6.2M474.51 1543v6.2M200.73 1555.33v6.2M208.34 1555.33v6.2M215.94 1555.33v6.2M253.97 1555.33v6.2M482.12 1555.33v6.2M489.72 1555.33v6.2M155.1 1570.2v6.2M162.71 1570.2v6.2M170.31 1570.2v6.2M177.92 1570.2v6.2M200.73 1570.2v6.2M208.34 1570.2v6.2M223.55 1570.2v6.2M231.15 1570.2v6.2M238.76 1570.2v6.2M535.35 1570.2v6.2M558.17 1570.2v6.2M565.77 1570.2v6.2M573.38 1570.2v6.2M580.98 1570.2v6.2M588.59 1570.2v6.2M596.19 1570.2v6.2M200.73 1582.53v6.2M261.57 1582.53v6.2M269.18 1582.53v6.2M299.6 1582.53v6.2M307.2 1582.53v6.2M406.07 1582.53v6.2M717.87 1582.53v6.2M725.48 1582.53v6.2M854.76 1582.53v6.2M200.73 1594.86v6.2M314.81 1594.86v6.2M322.41 1594.86v6.2M733.08 1594.86v6.2M862.37 1594.86v6.2M200.73 1607.19v6.2M269.18 1607.19v6.2M558.17 1607.19v6.2M740.69 1607.19v6.2M558.17 1619.52v6.2M603.8 1619.52v6.2M649.43 1619.52v6.2M710.27 1619.52v6.2M162.71 1631.85v6.2M208.34 1631.85v6.2M710.27 1631.85v6.2" fill="none" stroke="#0000cd" stroke-width="5.46"/>
<path d="M284.39 1272v9.6M611.4 1272v9.6M634.22 1272v9.6M953.63 1272v9.6M276.78 1284.33v9.6M695.06 1284.33v9.6M641.82 1299.9v9.6M679.85 1299.9v9.6M162.71 1352.1v9.6M177.92 1352.6v1.1M177.92 1360.1v1.1M215.94 1352.1v9.6M238.76 1352.1v9.6M345.23 1352.1v9.6M383.25 1352.1v9.6M542.96 1352.1v9.6M550.56 1352.1v9.6M641.82 1352.1v9.6M687.45 1352.1v9.6M740.69 1352.1v9.6M923.21 1352.1v9.6M908 1364.43v9.6M322.41 1389.09v9.6M923.21 1389.09v9.6M193.13 1541.8v1.1M193.13 1549.3v1.1M215.94 1568.5v9.6M390.86 1568.5v9.6" fill="none" stroke="#008000" stroke-width="5.46"/>
<path d="M291.99 1272v9.6M565.77 1272v9.6M847.16 1272.5v1.1M847.16 1280v1.1M223.55 1284.33v9.6M702.66 1284.33v9.6M246.36 1352.1v9.6M314.81 1352.1v9.6M360.44 1352.1v9.6M573.38 1352.1v9.6M695.06 1352.1v9.6M733.08 1352.1v9.6M748.29 1352.1v9.6M755.9 1352.1v9.6M778.71 1352.1v9.6M839.55 1352.1v9.6M908 1352.1v9.6M155.1 1364.43v9.6M314.81 1389.09v9.6M915.6 1463.07v9.6M619.01 1553.63v9.6M542.96 1568.5v9.6M854.76 1568.5v9.6M223.55 1593.16v9.6M299.6 1630.15v9.6" fill="none" stroke="#dc143c" stroke-width="5.46"/>
<path d="M177.92 1272v9.6M619.01 1272v9.6M626.61 1272v9.6M261.57 1284.33v9.6M269.18 1284.33v9.6M641.82 1284.33v9.6M687.45 1284.33v9.6M664.64 1299.9v9.6M649.43 1312.23v9.6M155.1 1352.1v9.6M185.52 1352.1v9.6M330.02 1352.1v9.6M368.04 1352.1v9.6M558.17 1352.1v9.6M588.59 1352.1v9.6M603.8 1352.1v9.6M626.61 1352.1v9.6M649.43 1352.1v9.6M679.85 1352.1v9.6M702.66 1352.1v9.6M717.87 1352.1v9.6M801.53 1352.1v9.6M162.71 1569v1.1M162.71 1576.5v1.1" fill="none" stroke="#ffa500" stroke-width="5.46"/>
<path d="M771.11 1352.1v9.6M155.1 1569v1.1M155.1 1576.5v1.1M170.31 1569v1.1M170.31 1576.5v1.1M398.46 1568.5v9.6M550.56 1568.5v9.6M748.29 1605.49v9.6" fill="none" stroke="#8b4513" stroke-width="5.46"/>
<path d="M155.1 1265.4v-1M162.71 1266.8v-2M170.31 1266.8v-2M177.92 1266.8v-2M185.52 1266.8v-4M193.13 1267.5v-2M200.73 1267.5v-10M208.34 1267.5v-4M215.94 1267.5v-1M223.55 1266.1v-2M231.15 1267.5v-2M238.76 1267.5v-1M246.36 1266.8v-2M253.97 1267.5v-2M261.57 1266.8v-3M269.18 1266.8v-4M276.78 1267.5v-1M284.39 1267.5v-1M291.99 1266.8v-1M299.6 1266.8v-2M307.2 1267.5v-2M314.81 1266.1v-2M322.41 1267.5v-3M330.02 1266.8v-1M337.62 1267.5v-0.8M352.83 1267.5v-0.8M375.65 1267.5v-0.8M390.86 1267.5v-1M406.07 1267.5v-2M413.67 1267.5v-0.8M421.28 1267.5v-2M428.88 1267.5v-0.8M436.49 1267.5v-0.8M444.09 1267.5v-0.8M451.7 1267.5v-0.8M459.3 1267.5v-0.8M466.91 1267.5v-0.8M474.51 1267.5v-0.8M482.12 1267.5v-2M489.72 1267.5v-0.8M497.33 1267.5v-0.8M535.35 1267.5v-2M542.96 1266.8v-1M550.56 1266.8v-1M558.17 1266.8v-4M565.77 1266.8v-3M573.38 1266.8v-2M580.98 1267.5v-2M588.59 1266.8v-1M596.19 1267.5v-2M603.8 1266.8v-4M611.4 1267.5v-2M619.01 1266.1v-1M634.22 1267.5v-1M649.43 1266.1v-1M657.03 1267.5v-2M664.64 1266.8v-1M672.24 1267.5v-2M687.45 1266.8v-1M695.06 1266.8v-1M710.27 1267.5v-3M717.87 1266.8v-1M725.48 1267.5v-2M733.08 1266.8v-1M740.69 1267.5v-1M755.9 1266.8v-2M763.5 1267.5v-3M786.32 1267.5v-0.8M793.92 1267.5v-0.8M809.13 1267.5v-0.8M816.74 1267.5v-0.8M824.34 1267.5v-0.8M831.95 1267.5v-0.8M847.16 1266.8v-1M854.76 1266.8v-3M862.37 1267.5v-0.8M908 1266.8v-3M915.6 1266.8v-4M923.21 1267.5v-1M930.81 1267.5v-4M938.42 1267.5v-2M946.02 1267.5v-4M953.63 1267.5v-1" fill="none" stroke="#0000cd" stroke-width="5.46"/>
<path d="M162.71 1264.8v-0.7M177.92 1264.8v-0.7M193.13 1265.5v-0.7M215.94 1266.5v-1.4M238.76 1266.5v-0.7M276.78 1266.5v-0.7M284.39 1266.5v-0.7M322.41 1264.5v-0.7M345.23 1267.5v-0.8M383.25 1267.5v-0.8M390.86 1266.5v-0.7M542.96 1265.8v-0.7M550.56 1265.8v-0.7M611.4 1265.5v-0.7M634.22 1266.5v-0.7M641.82 1266.8v-1.4M679.85 1266.8v-0.7M687.45 1265.8v-0.7M695.06 1265.8v-0.7M740.69 1266.5v-0.7M908 1263.8v-0.7M923.21 1266.5v-1.4M953.63 1266.5v-0.7" fill="none" stroke="#008000" stroke-width="5.46" opacity="0.5"/>
<path d="M155.1 1266.1v-0.7M223.55 1267.5v-1.4M246.36 1267.5v-0.7M291.99 1267.5v-0.7M299.6 1267.5v-0.7M314.81 1267.5v-1.4M360.44 1267.5v-0.8M542.96 1267.5v-0.7M565.77 1267.5v-0.7M573.38 1267.5v-0.7M619.01 1266.8v-0.7M695.06 1267.5v-0.7M702.66 1266.8v-0.7M733.08 1267.5v-0.7M748.29 1266.8v-0.7M755.9 1267.5v-0.7M778.71 1267.5v-0.8M839.55 1267.5v-0.8M847.16 1267.5v-0.7M854.76 1267.5v-0.7M908 1267.5v-0.7M915.6 1267.5v-0.7" fill="none" stroke="#dc143c" stroke-width="5.46" opacity="0.5"/>
<path d="M155.1 1267.5v-0.7M162.71 1267.5v-0.7M177.92 1267.5v-0.7M185.52 1267.5v-0.7M261.57 1267.5v-0.7M269.18 1267.5v-0.7M330.02 1267.5v-0.7M368.04 1267.5v-0.8M558.17 1267.5v-0.7M588.59 1267.5v-0.7M603.8 1267.5v-0.7M619.01 1267.5v-0.7M626.61 1267.5v-1.4M641.82 1267.5v-0.7M649.43 1267.5v-1.4M664.64 1267.5v-0.7M679.85 1267.5v-0.7M687.45 1267.5v-0.7M702.66 1267.5v-0.7M717.87 1267.5v-0.7M801.53 1267.5v-0.8" fill="none" stroke="#ffa500" stroke-width="5.46" opacity="0.5"/>
<path d="M155.1 1266.8v-0.7M170.31 1267.5v-0.7M398.46 1267.5v-0.8M550.56 1267.5v-0.7M748.29 1267.5v-0.7M771.11 1267.5v-0.8" fill="none" stroke="#8b4513" stroke-width="5.46" opacity="0.5"/>
<line x1="151" y1="1256.2" x2="151" y2="1268.6" stroke="#000" stroke-width="0.6"/>
<line x1="146.4" y1="1268.4" x2="151" y2="1268.4" stroke="#000" stroke-width="0.45"/>
<line x1="146.4" y1="1266.38" x2="151" y2="1266.38" stroke="#000" stroke-width="0.45"/>
<line x1="146.4" y1="1264.36" x2="151" y2="1264.36" stroke="#000" stroke-width="0.45"/>
<line x1="146.4" y1="1262.34" x2="151" y2="1262.34" stroke="#000" stroke-width="0.45"/>
<line x1="146.4" y1="1260.32" x2="151" y2="1260.32" stroke="#000" stroke-width="0.45"/>
<line x1="146.4" y1="1258.3" x2="151" y2="1258.3" stroke="#000" stroke-width="0.45"/>
<line x1="146.4" y1="1256.28" x2="151" y2="1256.28" stroke="#000" stroke-width="0.45"/>
<text x="140" y="1270.8" font-size="7.2" text-anchor="middle" fill="#222">0</text>
<text x="140" y="1263.8" font-size="7.2" text-anchor="middle" fill="#222">6</text>
<text x="157.5" y="1647.3" font-size="7.05" text-anchor="end" transform="rotate(-90 157.5 1647.3)">TCGA-50-6591-01</text>
<text x="165.11" y="1647.3" font-size="7.05" text-anchor="end" transform="rotate(-90 165.11 1647.3)">TCGA-78-7147-01</text>
<text x="172.71" y="1647.3" font-size="7.05" text-anchor="end" transform="rotate(-90 172.71 1647.3)">TCGA-55-7573-01</text>
<text x="180.32" y="1647.3" font-size="7.05" text-anchor="end" transform="rotate(-90 180.32 1647.3)">TCGA-50-6595-01</text>
<text x="187.92" y="1647.3" font-size="7.05" text-anchor="end" transform="rotate(-90 187.92 1647.3)">TCGA-55-6968-01</text>
<text x="195.53" y="1647.3" font-size="7.05" text-anchor="end" transform="rotate(-90 195.53 1647.3)">TCGA-55-7911-01</text>
<text x="203.13" y="1647.3" font-size="7.05" text-anchor="end" transform="rotate(-90 203.13 1647.3)">TCGA-05-4382-01</text>
<text x="210.74" y="1647.3" font-size="7.05" text-anchor="end" transform="rotate(-90 210.74 1647.3)">TCGA-05-4410-01</text>
<text x="218.34" y="1647.3" font-size="7.05" text-anchor="end" transform="rotate(-90 218.34 1647.3)">TCGA-69-7765-01</text>
<text x="225.95" y="1647.3" font-size="7.05" text-anchor="end" transform="rotate(-90 225.95 1647.3)">TCGA-55-A48Z-01</text>
<text x="233.55" y="1647.3" font-size="7.05" text-anchor="end" transform="rotate(-90 233.55 1647.3)">TCGA-62-8394-01</text>
<text x="241.16" y="1647.3" font-size="7.05" text-anchor="end" transform="rotate(-90 241.16 1647.3)">TCGA-50-5944-01</text>
<text x="248.76" y="1647.3" font-size="7.05" text-anchor="end" transform="rotate(-90 248.76 1647.3)">TCGA-44-6145-01</text>
<text x="256.37" y="1647.3" font-size="7.05" text-anchor="end" transform="rotate(-90 256.37 1647.3)">TCGA-44-2662-01</text>
<text x="263.97" y="1647.3" font-size="7.05" text-anchor="end" transform="rotate(-90 263.97 1647.3)">TCGA-17-Z057-01</text>
<text x="271.58" y="1647.3" font-size="7.05" text-anchor="end" transform="rotate(-90 271.58 1647.3)">TCGA-86-8358-01</text>
<text x="279.18" y="1647.3" font-size="7.05" text-anchor="end" transform="rotate(-90 279.18 1647.3)">TCGA-93-A4JN-01</text>
<text x="286.79" y="1647.3" font-size="7.05" text-anchor="end" transform="rotate(-90 286.79 1647.3)">TCGA-17-Z030-01</text>
<text x="294.39" y="1647.3" font-size="7.05" text-anchor="end" transform="rotate(-90 294.39 1647.3)">TCGA-05-4426-01</text>
<text x="302" y="1647.3" font-size="7.05" text-anchor="end" transform="rotate(-90 302 1647.3)">TCGA-44-A4SS-01</text>
<text x="309.6" y="1647.3" font-size="7.05" text-anchor="end" transform="rotate(-90 309.6 1647.3)">TCGA-05-4384-01</text>
<text x="317.21" y="1647.3" font-size="7.05" text-anchor="end" transform="rotate(-90 317.21 1647.3)">TCGA-53-7624-01</text>
<text x="324.81" y="1647.3" font-size="7.05" text-anchor="end" transform="rotate(-90 324.81 1647.3)">TCGA-53-7626-01</text>
<text x="332.42" y="1647.3" font-size="7.05" text-anchor="end" transform="rotate(-90 332.42 1647.3)">TCGA-44-2656-01</text>
<text x="340.02" y="1647.3" font-size="7.05" text-anchor="end" transform="rotate(-90 340.02 1647.3)">TCGA-17-Z027-01</text>
<text x="347.63" y="1647.3" font-size="7.05" text-anchor="end" transform="rotate(-90 347.63 1647.3)">TCGA-NJ-A4YF-01</text>
<text x="355.23" y="1647.3" font-size="7.05" text-anchor="end" transform="rotate(-90 355.23 1647.3)">TCGA-50-6673-01</text>
<text x="362.84" y="1647.3" font-size="7.05" text-anchor="end" transform="rotate(-90 362.84 1647.3)">TCGA-55-8204-01</text>
<text x="370.44" y="1647.3" font-size="7.05" text-anchor="end" transform="rotate(-90 370.44 1647.3)">TCGA-78-7542-01</text>
<text x="378.05" y="1647.3" font-size="7.05" text-anchor="end" transform="rotate(-90 378.05 1647.3)">TCGA-50-5068-01</text>
<text x="385.65" y="1647.3" font-size="7.05" text-anchor="end" transform="rotate(-90 385.65 1647.3)">TCGA-50-5931-01</text>
<text x="393.26" y="1647.3" font-size="7.05" text-anchor="end" transform="rotate(-90 393.26 1647.3)">TCGA-97-8172-01</text>
<text x="400.86" y="1647.3" font-size="7.05" text-anchor="end" transform="rotate(-90 400.86 1647.3)">TCGA-75-7025-01</text>
<text x="408.47" y="1647.3" font-size="7.05" text-anchor="end" transform="rotate(-90 408.47 1647.3)">TCGA-55-8203-01</text>
<text x="416.07" y="1647.3" font-size="7.05" text-anchor="end" transform="rotate(-90 416.07 1647.3)">TCGA-64-5815-01</text>
<text x="423.68" y="1647.3" font-size="7.05" text-anchor="end" transform="rotate(-90 423.68 1647.3)">TCGA-75-5126-01</text>
<text x="431.28" y="1647.3" font-size="7.05" text-anchor="end" transform="rotate(-90 431.28 1647.3)">TCGA-62-8398-01</text>
<text x="438.89" y="1647.3" font-size="7.05" text-anchor="end" transform="rotate(-90 438.89 1647.3)">TCGA-95-A4VN-01</text>
<text x="446.49" y="1647.3" font-size="7.05" text-anchor="end" transform="rotate(-90 446.49 1647.3)">TCGA-44-7672-01</text>
<text x="454.1" y="1647.3" font-size="7.05" text-anchor="end" transform="rotate(-90 454.1 1647.3)">TCGA-50-5936-01</text>
<text x="461.7" y="1647.3" font-size="7.05" text-anchor="end" transform="rotate(-90 461.7 1647.3)">TCGA-73-4677-01</text>
<text x="469.31" y="1647.3" font-size="7.05" text-anchor="end" transform="rotate(-90 469.31 1647.3)">TCGA-44-7659-01</text>
<text x="476.91" y="1647.3" font-size="7.05" text-anchor="end" transform="rotate(-90 476.91 1647.3)">TCGA-55-8615-01</text>
<text x="484.52" y="1647.3" font-size="7.05" text-anchor="end" transform="rotate(-90 484.52 1647.3)">TCGA-80-5607-01</text>
<text x="492.12" y="1647.3" font-size="7.05" text-anchor="end" transform="rotate(-90 492.12 1647.3)">TCGA-L4-A4E6-01</text>
<text x="499.73" y="1647.3" font-size="7.05" text-anchor="end" transform="rotate(-90 499.73 1647.3)">TCGA-55-A492-01</text>
<text x="507.33" y="1647.3" font-size="7.05" text-anchor="end" transform="rotate(-90 507.33 1647.3)">TCGA-44-2655-01</text>
<text x="514.94" y="1647.3" font-size="7.05" text-anchor="end" transform="rotate(-90 514.94 1647.3)">TCGA-99-AA5R-01</text>
<text x="522.54" y="1647.3" font-size="7.05" text-anchor="end" transform="rotate(-90 522.54 1647.3)">TCGA-S2-AA1A-01</text>
<text x="530.15" y="1647.3" font-size="7.05" text-anchor="end" transform="rotate(-90 530.15 1647.3)">TCGA-17-Z041-01</text>
<text x="537.75" y="1647.3" font-size="7.05" text-anchor="end" transform="rotate(-90 537.75 1647.3)">TCGA-66-2742-01</text>
<text x="545.36" y="1647.3" font-size="7.05" text-anchor="end" transform="rotate(-90 545.36 1647.3)">TCGA-60-2698-01</text>
<text x="552.96" y="1647.3" font-size="7.05" text-anchor="end" transform="rotate(-90 552.96 1647.3)">TCGA-85-A50M-01</text>
<text x="560.57" y="1647.3" font-size="7.05" text-anchor="end" transform="rotate(-90 560.57 1647.3)">TCGA-46-3769-01</text>
<text x="568.17" y="1647.3" font-size="7.05" text-anchor="end" transform="rotate(-90 568.17 1647.3)">TCGA-33-4566-01</text>
<text x="575.78" y="1647.3" font-size="7.05" text-anchor="end" transform="rotate(-90 575.78 1647.3)">TCGA-70-6722-01</text>
<text x="583.38" y="1647.3" font-size="7.05" text-anchor="end" transform="rotate(-90 583.38 1647.3)">TCGA-56-8304-01</text>
<text x="590.99" y="1647.3" font-size="7.05" text-anchor="end" transform="rotate(-90 590.99 1647.3)">TCGA-60-2708-01</text>
<text x="598.59" y="1647.3" font-size="7.05" text-anchor="end" transform="rotate(-90 598.59 1647.3)">TCGA-77-8156-01</text>
<text x="606.2" y="1647.3" font-size="7.05" text-anchor="end" transform="rotate(-90 606.2 1647.3)">TCGA-66-2787-01</text>
<text x="613.8" y="1647.3" font-size="7.05" text-anchor="end" transform="rotate(-90 613.8 1647.3)">TCGA-85-A5B5-01</text>
<text x="621.41" y="1647.3" font-size="7.05" text-anchor="end" transform="rotate(-90 621.41 1647.3)">TCGA-43-A475-01</text>
<text x="629.01" y="1647.3" font-size="7.05" text-anchor="end" transform="rotate(-90 629.01 1647.3)">TCGA-85-8666-01</text>
<text x="636.62" y="1647.3" font-size="7.05" text-anchor="end" transform="rotate(-90 636.62 1647.3)">TCGA-51-4080-01</text>
<text x="644.22" y="1647.3" font-size="7.05" text-anchor="end" transform="rotate(-90 644.22 1647.3)">TCGA-77-A5GB-01</text>
<text x="651.83" y="1647.3" font-size="7.05" text-anchor="end" transform="rotate(-90 651.83 1647.3)">TCGA-96-8170-01</text>
<text x="659.43" y="1647.3" font-size="7.05" text-anchor="end" transform="rotate(-90 659.43 1647.3)">TCGA-56-8504-01</text>
<text x="667.04" y="1647.3" font-size="7.05" text-anchor="end" transform="rotate(-90 667.04 1647.3)">TCGA-98-A53J-01</text>
<text x="674.64" y="1647.3" font-size="7.05" text-anchor="end" transform="rotate(-90 674.64 1647.3)">TCGA-77-6842-01</text>
<text x="682.25" y="1647.3" font-size="7.05" text-anchor="end" transform="rotate(-90 682.25 1647.3)">TCGA-63-A5MR-01</text>
<text x="689.85" y="1647.3" font-size="7.05" text-anchor="end" transform="rotate(-90 689.85 1647.3)">TCGA-56-A4ZK-01</text>
<text x="697.46" y="1647.3" font-size="7.05" text-anchor="end" transform="rotate(-90 697.46 1647.3)">TCGA-77-8153-01</text>
<text x="705.06" y="1647.3" font-size="7.05" text-anchor="end" transform="rotate(-90 705.06 1647.3)">TCGA-56-8624-01</text>
<text x="712.67" y="1647.3" font-size="7.05" text-anchor="end" transform="rotate(-90 712.67 1647.3)">TCGA-46-3768-01</text>
<text x="720.27" y="1647.3" font-size="7.05" text-anchor="end" transform="rotate(-90 720.27 1647.3)">TCGA-85-A4JB-01</text>
<text x="727.88" y="1647.3" font-size="7.05" text-anchor="end" transform="rotate(-90 727.88 1647.3)">TCGA-77-8007-01</text>
<text x="735.48" y="1647.3" font-size="7.05" text-anchor="end" transform="rotate(-90 735.48 1647.3)">TCGA-56-8629-01</text>
<text x="743.09" y="1647.3" font-size="7.05" text-anchor="end" transform="rotate(-90 743.09 1647.3)">TCGA-77-8130-01</text>
<text x="750.69" y="1647.3" font-size="7.05" text-anchor="end" transform="rotate(-90 750.69 1647.3)">TCGA-22-4605-01</text>
<text x="758.3" y="1647.3" font-size="7.05" text-anchor="end" transform="rotate(-90 758.3 1647.3)">TCGA-60-2695-01</text>
<text x="765.9" y="1647.3" font-size="7.05" text-anchor="end" transform="rotate(-90 765.9 1647.3)">TCGA-43-7656-01</text>
<text x="773.51" y="1647.3" font-size="7.05" text-anchor="end" transform="rotate(-90 773.51 1647.3)">TCGA-21-1082-01</text>
<text x="781.11" y="1647.3" font-size="7.05" text-anchor="end" transform="rotate(-90 781.11 1647.3)">TCGA-22-5482-01</text>
<text x="788.72" y="1647.3" font-size="7.05" text-anchor="end" transform="rotate(-90 788.72 1647.3)">TCGA-33-4532-01</text>
<text x="796.32" y="1647.3" font-size="7.05" text-anchor="end" transform="rotate(-90 796.32 1647.3)">TCGA-33-4582-01</text>
<text x="803.93" y="1647.3" font-size="7.05" text-anchor="end" transform="rotate(-90 803.93 1647.3)">TCGA-85-8288-01</text>
<text x="811.53" y="1647.3" font-size="7.05" text-anchor="end" transform="rotate(-90 811.53 1647.3)">TCGA-XC-AA0X-01</text>
<text x="819.14" y="1647.3" font-size="7.05" text-anchor="end" transform="rotate(-90 819.14 1647.3)">TCGA-34-5236-01</text>
<text x="826.74" y="1647.3" font-size="7.05" text-anchor="end" transform="rotate(-90 826.74 1647.3)">TCGA-60-2719-01</text>
<text x="834.35" y="1647.3" font-size="7.05" text-anchor="end" transform="rotate(-90 834.35 1647.3)">TCGA-56-7223-01</text>
<text x="841.95" y="1647.3" font-size="7.05" text-anchor="end" transform="rotate(-90 841.95 1647.3)">TCGA-56-8622-01</text>
<text x="849.56" y="1647.3" font-size="7.05" text-anchor="end" transform="rotate(-90 849.56 1647.3)">TCGA-33-4589-01</text>
<text x="857.16" y="1647.3" font-size="7.05" text-anchor="end" transform="rotate(-90 857.16 1647.3)">TCGA-18-3417-01</text>
<text x="864.77" y="1647.3" font-size="7.05" text-anchor="end" transform="rotate(-90 864.77 1647.3)">TCGA-56-8305-01</text>
<text x="872.37" y="1647.3" font-size="7.05" text-anchor="end" transform="rotate(-90 872.37 1647.3)">TCGA-56-A4ZJ-01</text>
<text x="879.98" y="1647.3" font-size="7.05" text-anchor="end" transform="rotate(-90 879.98 1647.3)">TCGA-66-2737-01</text>
<text x="887.58" y="1647.3" font-size="7.05" text-anchor="end" transform="rotate(-90 887.58 1647.3)">TCGA-21-1081-01</text>
<text x="895.19" y="1647.3" font-size="7.05" text-anchor="end" transform="rotate(-90 895.19 1647.3)">TCGA-39-5030-01</text>
<text x="902.79" y="1647.3" font-size="7.05" text-anchor="end" transform="rotate(-90 902.79 1647.3)">TCGA-98-A53H-01</text>
<text x="910.4" y="1647.3" font-size="7.05" text-anchor="end" transform="rotate(-90 910.4 1647.3)">P2T</text>
<text x="918" y="1647.3" font-size="7.05" text-anchor="end" transform="rotate(-90 918 1647.3)">P9T</text>
<text x="925.61" y="1647.3" font-size="7.05" text-anchor="end" transform="rotate(-90 925.61 1647.3)">P7T</text>
<text x="933.21" y="1647.3" font-size="7.05" text-anchor="end" transform="rotate(-90 933.21 1647.3)">P6T</text>
<text x="940.82" y="1647.3" font-size="7.05" text-anchor="end" transform="rotate(-90 940.82 1647.3)">P5T</text>
<text x="948.42" y="1647.3" font-size="7.05" text-anchor="end" transform="rotate(-90 948.42 1647.3)">P3T</text>
<text x="956.03" y="1647.3" font-size="7.05" text-anchor="end" transform="rotate(-90 956.03 1647.3)">P4T</text>
<text x="963.63" y="1647.3" font-size="7.05" text-anchor="end" transform="rotate(-90 963.63 1647.3)">P1T</text>
<line x1="1039.2" y1="1270.3" x2="1078.6" y2="1270.3" stroke="#000" stroke-width="0.6"/>
<line x1="1039.2" y1="1266.6" x2="1039.2" y2="1270.3" stroke="#000" stroke-width="0.6"/>
<text x="1039.2" y="1260.6" font-size="7.3" text-anchor="middle">0</text>
<line x1="1052.34" y1="1266.6" x2="1052.34" y2="1270.3" stroke="#000" stroke-width="0.6"/>
<text x="1052.34" y="1260.6" font-size="7.3" text-anchor="middle">5</text>
<line x1="1065.48" y1="1266.6" x2="1065.48" y2="1270.3" stroke="#000" stroke-width="0.6"/>
<text x="1065.48" y="1260.6" font-size="7.3" text-anchor="middle">10</text>
<line x1="1078.62" y1="1266.6" x2="1078.62" y2="1270.3" stroke="#000" stroke-width="0.6"/>
<text x="1078.62" y="1260.6" font-size="7.3" text-anchor="middle">15</text>
<text x="1096.5" y="1441" font-size="9.2" font-weight="bold">Alternations</text>
<rect x="1097.1" y="1445.6" width="9.7" height="9.3" fill="#ffa500"/>
<text x="1109.5" y="1453.5" font-size="9.2">Frame_Shift</text>
<rect x="1097.1" y="1456" width="9.7" height="9.3" fill="#8b4513"/>
<text x="1109.5" y="1463.9" font-size="9.2">Non_Frame_Shift</text>
<rect x="1097.1" y="1466.4" width="9.7" height="9.3" fill="#dc143c"/>
<text x="1109.5" y="1474.3" font-size="9.2">Splice_Site</text>
<rect x="1097.1" y="1476.8" width="9.7" height="9.3" fill="#008000"/>
<text x="1109.5" y="1484.7" font-size="9.2">Nonsense</text>
<rect x="1097.1" y="1487.2" width="9.7" height="9.3" fill="#0000cd"/>
<text x="1109.5" y="1495.1" font-size="9.2">Missense</text>
<text x="1187.5" y="1441" font-size="9.2" font-weight="bold">STUDY_ID</text>
<rect x="1187.8" y="1445.6" width="9.7" height="9.3" fill="#ff0000"/>
<text x="1200.2" y="1453.5" font-size="9.2">LUAD_TCGA</text>
<rect x="1187.8" y="1456" width="9.7" height="9.3" fill="#0000ff"/>
<text x="1200.2" y="1463.9" font-size="9.2">LUSC_TCGA</text>
<rect x="1187.8" y="1466.4" width="9.7" height="9.3" fill="#00ff00"/>
<text x="1200.2" y="1474.3" font-size="9.2">pLELC</text></g>
<g id="pg"><text x="9" y="1784" font-size="36" class="sf">g</text>
<rect x="140.64" y="1796.6" width="20.36" height="35.8" fill="#b9b9fa"/>
<rect x="173.21" y="1796.6" width="2.87" height="35.8" fill="#fda2a2"/>
<rect x="176.08" y="1796.6" width="2.39" height="35.8" fill="#b9b9fa"/>
<rect x="215.35" y="1796.6" width="10.54" height="35.8" fill="#fda2a2"/>
<rect x="225.89" y="1796.6" width="24.43" height="35.8" fill="#b9b9fa"/>
<rect x="250.32" y="1796.6" width="11.49" height="35.8" fill="#b9b9fa"/>
<rect x="278.1" y="1796.6" width="4.79" height="35.8" fill="#fda2a2"/>
<rect x="342.62" y="1796.6" width="12.35" height="35.8" fill="#b9b9fa"/>
<rect x="394.44" y="1796.6" width="1.88" height="35.8" fill="#b9b9fa"/>
<rect x="410.02" y="1796.6" width="9.13" height="35.8" fill="#b9b9fa"/>
<rect x="446.26" y="1796.6" width="22.29" height="35.8" fill="#b9b9fa"/>
<rect x="472.04" y="1796.6" width="0.54" height="35.8" fill="#e8e8f4"/>
<rect x="475.26" y="1796.6" width="13.96" height="35.8" fill="#b9b9fa"/>
<rect x="501.31" y="1796.6" width="7.25" height="35.8" fill="#fda2a2"/>
<rect x="514.73" y="1796.6" width="1.07" height="35.8" fill="#d6d6fb"/>
<rect x="515.81" y="1796.6" width="5.37" height="35.8" fill="#b9b9fa"/>
<rect x="526.55" y="1796.6" width="3.49" height="35.8" fill="#b9b9fa"/>
<rect x="589.91" y="1796.6" width="8.86" height="35.8" fill="#fda2a2"/>
<text x="637" y="1817.5" font-size="8.6" font-weight="bold" class="sf">P1T</text>
<rect x="140.64" y="1832.4" width="16.76" height="35.9" fill="#b9b9fa"/>
<rect x="177.04" y="1832.4" width="1.44" height="35.9" fill="#fda2a2"/>
<rect x="225.17" y="1832.4" width="24.43" height="35.9" fill="#b9b9fa"/>
<rect x="313.54" y="1832.4" width="7.42" height="35.9" fill="#b9b9fa"/>
<rect x="318.33" y="1832.4" width="0.72" height="35.9" fill="#fda2a2"/>
<rect x="320" y="1832.4" width="0.96" height="35.9" fill="#fda2a2"/>
<rect x="320.96" y="1832.4" width="20.83" height="35.9" fill="#fda2a2"/>
<rect x="330" y="1832.4" width="11.55" height="35.9" fill="#fda2a2"/>
<rect x="345.3" y="1832.4" width="23.36" height="35.9" fill="#b9b9fa"/>
<rect x="369.2" y="1832.4" width="10.74" height="35.9" fill="#fda2a2"/>
<rect x="375.65" y="1832.4" width="0.81" height="35.9" fill="#fdd0d0"/>
<rect x="378.33" y="1832.4" width="0.81" height="35.9" fill="#fdd0d0"/>
<rect x="379.94" y="1832.4" width="8.59" height="35.9" fill="#b9b9fa"/>
<rect x="385.31" y="1832.4" width="0.81" height="35.9" fill="#9a9aee"/>
<rect x="405.18" y="1832.4" width="1.88" height="35.9" fill="#d6d6fb"/>
<rect x="407.87" y="1832.4" width="1.61" height="35.9" fill="#fda2a2"/>
<rect x="409.48" y="1832.4" width="11.01" height="35.9" fill="#b9b9fa"/>
<rect x="446.26" y="1832.4" width="22.29" height="35.9" fill="#b9b9fa"/>
<rect x="480.36" y="1832.4" width="8.86" height="35.9" fill="#b9b9fa"/>
<rect x="509.09" y="1832.4" width="12.08" height="35.9" fill="#b9b9fa"/>
<rect x="526.82" y="1832.4" width="1.34" height="35.9" fill="#b9b9fa"/>
<rect x="539.17" y="1832.4" width="0.54" height="35.9" fill="#d6d6fb"/>
<rect x="560.11" y="1832.4" width="0.81" height="35.9" fill="#8888e0"/>
<rect x="562.8" y="1832.4" width="0.81" height="35.9" fill="#fda2a2"/>
<rect x="579.98" y="1832.4" width="0.81" height="35.9" fill="#fda2a2"/>
<rect x="582.66" y="1832.4" width="0.54" height="35.9" fill="#fda2a2"/>
<text x="637" y="1853.35" font-size="8.6" font-weight="bold" class="sf">P2T</text>
<rect x="139.68" y="1868.3" width="17.24" height="35.9" fill="#b9b9fa"/>
<rect x="174.4" y="1868.3" width="4.07" height="35.9" fill="#b9b9fa"/>
<rect x="225.17" y="1868.3" width="24.43" height="35.9" fill="#b9b9fa"/>
<rect x="342.62" y="1868.3" width="6.18" height="35.9" fill="#b9b9fa"/>
<rect x="407.33" y="1868.3" width="1.07" height="35.9" fill="#fda2a2"/>
<rect x="408.4" y="1868.3" width="12.08" height="35.9" fill="#b9b9fa"/>
<rect x="411.63" y="1868.3" width="0.54" height="35.9" fill="#fda2a2"/>
<rect x="472.31" y="1868.3" width="16.92" height="35.9" fill="#b9b9fa"/>
<rect x="517.95" y="1868.3" width="8.06" height="35.9" fill="#b9b9fa"/>
<rect x="526.55" y="1868.3" width="3.22" height="35.9" fill="#b9b9fa"/>
<rect x="582.4" y="1868.3" width="6.71" height="35.9" fill="#b9b9fa"/>
<text x="637" y="1889.25" font-size="8.6" font-weight="bold" class="sf">P3T</text>
<rect x="46.04" y="1904.2" width="27.78" height="35.7" fill="#b9b9fa"/>
<rect x="73.82" y="1904.2" width="20.12" height="35.7" fill="#fda2a2"/>
<rect x="138.72" y="1904.2" width="0.72" height="35.7" fill="#d6d6fb"/>
<rect x="142.31" y="1904.2" width="0.72" height="35.7" fill="#8a8ae0"/>
<rect x="145.67" y="1904.2" width="0.96" height="35.7" fill="#5c5cc8"/>
<rect x="146.86" y="1904.2" width="8.62" height="35.7" fill="#b9b9fa"/>
<rect x="187.81" y="1904.2" width="0.96" height="35.7" fill="#5555c8"/>
<rect x="195.72" y="1904.2" width="1.92" height="35.7" fill="#b9b9fa"/>
<rect x="225.17" y="1904.2" width="24.43" height="35.7" fill="#b9b9fa"/>
<rect x="268.76" y="1904.2" width="4.79" height="35.7" fill="#b9b9fa"/>
<rect x="276.18" y="1904.2" width="1.44" height="35.7" fill="#d6d6fb"/>
<rect x="313.78" y="1904.2" width="0.72" height="35.7" fill="#fdd0d0"/>
<rect x="320" y="1904.2" width="21.79" height="35.7" fill="#fda2a2"/>
<rect x="330" y="1904.2" width="11.55" height="35.7" fill="#fda2a2"/>
<rect x="341.55" y="1904.2" width="27.12" height="35.7" fill="#b9b9fa"/>
<rect x="368.66" y="1904.2" width="25.78" height="35.7" fill="#b9b9fa"/>
<rect x="395.25" y="1904.2" width="1.88" height="35.7" fill="#b9b9fa"/>
<rect x="400.35" y="1904.2" width="2.15" height="35.7" fill="#d6d6fb"/>
<rect x="403.84" y="1904.2" width="16.65" height="35.7" fill="#b9b9fa"/>
<rect x="421.29" y="1904.2" width="6.18" height="35.7" fill="#f8575c"/>
<rect x="427.47" y="1904.2" width="18.8" height="35.7" fill="#fda2a2"/>
<rect x="446.26" y="1904.2" width="22.29" height="35.7" fill="#b9b9fa"/>
<rect x="468.55" y="1904.2" width="20.68" height="35.7" fill="#b9b9fa"/>
<rect x="472.04" y="1904.2" width="0.54" height="35.7" fill="#a4a4f0"/>
<rect x="515.81" y="1904.2" width="10.2" height="35.7" fill="#b9b9fa"/>
<rect x="580.52" y="1904.2" width="2.42" height="35.7" fill="#d6d6fb"/>
<rect x="589.38" y="1904.2" width="4.3" height="35.7" fill="#2424dc"/>
<rect x="596.63" y="1904.2" width="2.15" height="35.7" fill="#2424dc"/>
<text x="637" y="1925.05" font-size="8.6" font-weight="bold" class="sf">P4T</text>
<rect x="46.04" y="1939.9" width="6.23" height="35.9" fill="#b9b9fa"/>
<rect x="61.37" y="1939.9" width="6.94" height="35.9" fill="#b9b9fa"/>
<rect x="94.66" y="1939.9" width="1.68" height="35.9" fill="#b9b9fa"/>
<rect x="140.64" y="1939.9" width="23.47" height="35.9" fill="#b9b9fa"/>
<rect x="201.94" y="1939.9" width="13.41" height="35.9" fill="#fda2a2"/>
<rect x="225.89" y="1939.9" width="20.12" height="35.9" fill="#b9b9fa"/>
<rect x="283.36" y="1939.9" width="11.49" height="35.9" fill="#b9b9fa"/>
<rect x="294.86" y="1939.9" width="18.68" height="35.9" fill="#fda2a2"/>
<rect x="345.3" y="1939.9" width="3.49" height="35.9" fill="#b9b9fa"/>
<rect x="364.37" y="1939.9" width="3.76" height="35.9" fill="#b9b9fa"/>
<rect x="411.36" y="1939.9" width="9.13" height="35.9" fill="#b9b9fa"/>
<rect x="421.29" y="1939.9" width="24.97" height="35.9" fill="#fda2a2"/>
<rect x="446.26" y="1939.9" width="22.29" height="35.9" fill="#b9b9fa"/>
<rect x="468.55" y="1939.9" width="20.68" height="35.9" fill="#b9b9fa"/>
<rect x="517.95" y="1939.9" width="2.15" height="35.9" fill="#b9b9fa"/>
<rect x="523.86" y="1939.9" width="2.15" height="35.9" fill="#b9b9fa"/>
<rect x="534.6" y="1939.9" width="6.71" height="35.9" fill="#fda2a2"/>
<rect x="548.03" y="1939.9" width="6.98" height="35.9" fill="#fda2a2"/>
<rect x="564.41" y="1939.9" width="1.34" height="35.9" fill="#d6d6fb"/>
<rect x="579.98" y="1939.9" width="2.95" height="35.9" fill="#b9b9fa"/>
<text x="637" y="1960.85" font-size="8.6" font-weight="bold" class="sf">P5T</text>
<rect x="110.94" y="1975.8" width="0.48" height="35.9" fill="#ececec"/>
<rect x="472.04" y="1975.8" width="0.54" height="35.9" fill="#ececec"/>
<text x="637" y="1996.75" font-size="8.6" font-weight="bold" class="sf">P6T</text>
<rect x="75.98" y="2011.7" width="17.96" height="35.8" fill="#fda2a2"/>
<rect x="93.94" y="2011.7" width="46.7" height="35.8" fill="#fda2a2"/>
<rect x="146.15" y="2011.7" width="8.38" height="35.8" fill="#b9b9fa"/>
<rect x="250.32" y="2011.7" width="1.68" height="35.8" fill="#b9b9fa"/>
<rect x="342.62" y="2011.7" width="6.98" height="35.8" fill="#b9b9fa"/>
<rect x="394.44" y="2011.7" width="2.15" height="35.8" fill="#b9b9fa"/>
<rect x="413.77" y="2011.7" width="6.71" height="35.8" fill="#b9b9fa"/>
<rect x="446.26" y="2011.7" width="22.29" height="35.8" fill="#b9b9fa"/>
<rect x="472.85" y="2011.7" width="16.38" height="35.8" fill="#b9b9fa"/>
<rect x="526.82" y="2011.7" width="3.22" height="35.8" fill="#b9b9fa"/>
<text x="637" y="2032.6" font-size="8.6" font-weight="bold" class="sf">P7T</text>
<rect x="140.64" y="2047.5" width="17.96" height="36.3" fill="#b9b9fa"/>
<rect x="158.6" y="2047.5" width="19.88" height="36.3" fill="#fda2a2"/>
<rect x="179.19" y="2047.5" width="8.38" height="36.3" fill="#b9b9fa"/>
<rect x="215.83" y="2047.5" width="10.06" height="36.3" fill="#fda2a2"/>
<rect x="225.89" y="2047.5" width="1.92" height="36.3" fill="#b9b9fa"/>
<rect x="228.52" y="2047.5" width="1.44" height="36.3" fill="#d6d6fb"/>
<rect x="230.68" y="2047.5" width="1.44" height="36.3" fill="#b9b9fa"/>
<rect x="233.07" y="2047.5" width="1.92" height="36.3" fill="#d6d6fb"/>
<rect x="110.94" y="2047.5" width="0.48" height="36.3" fill="#ececec"/>
<rect x="342.62" y="2047.5" width="3.49" height="36.3" fill="#f3e3e3"/>
<rect x="346.11" y="2047.5" width="22.55" height="36.3" fill="#fda2a2"/>
<rect x="347.18" y="2047.5" width="0.81" height="36.3" fill="#fdd0d0"/>
<rect x="349.06" y="2047.5" width="0.81" height="36.3" fill="#fdd0d0"/>
<rect x="369.2" y="2047.5" width="25.24" height="36.3" fill="#b9b9fa"/>
<rect x="386.12" y="2047.5" width="0.54" height="36.3" fill="#9a9aee"/>
<rect x="421.29" y="2047.5" width="24.97" height="36.3" fill="#fda2a2"/>
<rect x="468.55" y="2047.5" width="20.68" height="36.3" fill="#b9b9fa"/>
<rect x="518.49" y="2047.5" width="7.52" height="36.3" fill="#b9b9fa"/>
<text x="637" y="2068.65" font-size="8.6" font-weight="bold" class="sf">P9T</text>
<path d="M46.2 1785.8V2083.8M94 1785.8V2083.8M140.7 1785.8V2083.8M178.8 1785.8V2083.8M215.4 1785.8V2083.8M250.4 1785.8V2083.8M282.9 1785.8V2083.8M313.4 1785.8V2083.8M341.9 1785.8V2083.8M368.8 1785.8V2083.8M394.7 1785.8V2083.8M420.6 1785.8V2083.8M446.5 1785.8V2083.8M468.4 1785.8V2083.8M489.2 1785.8V2083.8M508.5 1785.8V2083.8M525.8 1785.8V2083.8M541.5 1785.8V2083.8M556.7 1785.8V2083.8M567.9 1785.8V2083.8M580.1 1785.8V2083.8M589.3 1785.8V2083.8M599.4 1785.8V2083.8M629.4 1785.8V2083.8M46.2 1785.8H629.4M46.2 1796.6H629.4M46.2 1832.4H629.4M46.2 1868.3H629.4M46.2 1904.2H629.4M46.2 1939.9H629.4M46.2 1975.8H629.4M46.2 2011.7H629.4M46.2 2047.5H629.4M46.2 2083.8H629.4" fill="none" stroke="#3a3a3a" stroke-width="0.7"/>
<text x="70.1" y="1793.8" font-size="6.8" text-anchor="middle" font-weight="bold" class="sf">1</text>
<text x="117.35" y="1793.8" font-size="6.8" text-anchor="middle" font-weight="bold" class="sf">2</text>
<text x="159.75" y="1793.8" font-size="6.8" text-anchor="middle" font-weight="bold" class="sf">3</text>
<text x="197.1" y="1793.8" font-size="6.8" text-anchor="middle" font-weight="bold" class="sf">4</text>
<text x="232.9" y="1793.8" font-size="6.8" text-anchor="middle" font-weight="bold" class="sf">5</text>
<text x="266.65" y="1793.8" font-size="6.8" text-anchor="middle" font-weight="bold" class="sf">6</text>
<text x="298.15" y="1793.8" font-size="6.8" text-anchor="middle" font-weight="bold" class="sf">7</text>
<text x="327.65" y="1793.8" font-size="6.8" text-anchor="middle" font-weight="bold" class="sf">8</text>
<text x="355.35" y="1793.8" font-size="6.8" text-anchor="middle" font-weight="bold" class="sf">9</text>
<text x="381.75" y="1793.8" font-size="6.8" text-anchor="middle" font-weight="bold" class="sf">10</text>
<text x="407.65" y="1793.8" font-size="6.8" text-anchor="middle" font-weight="bold" class="sf">11</text>
<text x="433.55" y="1793.8" font-size="6.8" text-anchor="middle" font-weight="bold" class="sf">12</text>
<text x="457.45" y="1793.8" font-size="6.8" text-anchor="middle" font-weight="bold" class="sf">13</text>
<text x="478.8" y="1793.8" font-size="6.8" text-anchor="middle" font-weight="bold" class="sf">14</text>
<text x="498.85" y="1793.8" font-size="6.8" text-anchor="middle" font-weight="bold" class="sf">15</text>
<text x="517.15" y="1793.8" font-size="6.8" text-anchor="middle" font-weight="bold" class="sf">16</text>
<text x="533.65" y="1793.8" font-size="6.8" text-anchor="middle" font-weight="bold" class="sf">17</text>
<text x="549.1" y="1793.8" font-size="6.8" text-anchor="middle" font-weight="bold" class="sf">18</text>
<text x="562.3" y="1793.8" font-size="6.8" text-anchor="middle" font-weight="bold" class="sf">19</text>
<text x="574" y="1793.8" font-size="6.8" text-anchor="middle" font-weight="bold" class="sf">20</text>
<text x="584.7" y="1793.8" font-size="6.8" text-anchor="middle" font-weight="bold" class="sf">21</text>
<text x="594.35" y="1793.8" font-size="6.8" text-anchor="middle" font-weight="bold" class="sf">22</text>
<text x="614.4" y="1793.8" font-size="6.8" text-anchor="middle" font-weight="bold" class="sf">X</text>
<text x="652.3" y="1936.5" font-size="5.3" font-weight="bold" class="sf">normal.CN</text>
<defs><linearGradient id="cng" x1="0" y1="0" x2="0" y2="1"><stop offset="0" stop-color="#f4474c"/><stop offset="0.33" stop-color="#f9a0a3"/><stop offset="0.66" stop-color="#ffffff"/><stop offset="0.85" stop-color="#9a9af0"/><stop offset="1" stop-color="#1c1cd8"/></linearGradient></defs>
<rect x="658.9" y="1941" width="7.5" height="32.8" fill="url(#cng)"/>
<text x="668.2" y="1946" font-size="7">6</text>
<text x="668.2" y="1955.2" font-size="7">4</text>
<text x="668.2" y="1964" font-size="7">2</text>
<text x="668.2" y="1973.4" font-size="7">0</text></g>
<g id="ph"><text x="0.5" y="2124.6" font-size="36" class="sf">h</text>
<rect x="123.37" y="2142.55" width="171.24" height="14.8" fill="#e6e6e6"/>
<rect x="123.37" y="2183.76" width="171.24" height="11.84" fill="#e6e6e6"/>
<rect x="123.37" y="2223.98" width="171.24" height="13.57" fill="#e6e6e6"/>
<rect x="123.37" y="2257.04" width="171.24" height="17.27" fill="#e6e6e6"/>
<rect x="123.37" y="2312.8" width="171.24" height="12.83" fill="#e6e6e6"/>
<rect x="123.37" y="2358.94" width="171.24" height="6.17" fill="#e6e6e6"/>
<rect x="123.37" y="2370.54" width="171.24" height="20.48" fill="#e6e6e6"/>
<rect x="123.37" y="2393.49" width="171.24" height="20.23" fill="#e6e6e6"/>
<rect x="123.37" y="2431.48" width="171.24" height="5.18" fill="#e6e6e6"/>
<rect x="123.37" y="2453.44" width="171.24" height="2.47" fill="#e6e6e6"/>
<rect x="123.37" y="2467.51" width="171.24" height="3.21" fill="#e6e6e6"/>
<path d="M125.34 2134.91H293.62M125.34 2149.96H293.62M125.34 2170.93H293.62M125.34 2189.93H293.62M125.34 2200.29H293.62M125.34 2230.64H293.62M125.34 2239.28H293.62M125.34 2270.86H293.62M125.34 2302.69H293.62M125.34 2319.47H293.62M125.34 2334.27H293.62M125.34 2361.41H293.62M125.34 2367.09H293.62M125.34 2391.02H293.62M125.34 2406.32H293.62M125.34 2421.86H293.62M125.34 2433.46H293.62M125.34 2447.28H293.62M125.34 2454.68H293.62M125.34 2457.64H293.62M125.34 2467.51H293.62" fill="none" stroke="#c4c4c4" stroke-width="0.6" stroke-dasharray="0.7 1.7"/>
<line x1="239.33" y1="2128.98" x2="239.33" y2="2470.72" stroke="#a9cf9f" stroke-width="0.9"/>
<rect x="110.29" y="2128.98" width="10.61" height="341.73" fill="#fff" stroke="#222" stroke-width="0.7"/>
<rect x="110.29" y="2142.55" width="10.61" height="14.8" fill="#000"/>
<rect x="110.29" y="2183.76" width="10.61" height="11.84" fill="#000"/>
<rect x="110.29" y="2223.98" width="10.61" height="13.57" fill="#000"/>
<rect x="110.29" y="2257.04" width="10.61" height="17.27" fill="#000"/>
<rect x="110.29" y="2312.8" width="10.61" height="12.83" fill="#000"/>
<rect x="110.29" y="2358.94" width="10.61" height="6.17" fill="#000"/>
<rect x="110.29" y="2370.54" width="10.61" height="20.48" fill="#000"/>
<rect x="110.29" y="2393.49" width="10.61" height="20.23" fill="#000"/>
<rect x="110.29" y="2431.48" width="10.61" height="5.18" fill="#000"/>
<rect x="110.29" y="2453.44" width="10.61" height="2.47" fill="#000"/>
<rect x="110.29" y="2467.51" width="10.61" height="3.21" fill="#000"/>
<rect x="123.37" y="2128.98" width="171.24" height="341.73" fill="none" stroke="#444" stroke-width="0.7"/>
<text x="81.42" y="2138.54" font-size="7.2" text-anchor="middle" fill="#1a1a1a">1</text>
<text x="98.69" y="2152.36" font-size="7.2" text-anchor="middle" fill="#1a1a1a">2</text>
<text x="81.42" y="2173.33" font-size="7.2" text-anchor="middle" fill="#1a1a1a">3</text>
<text x="98.69" y="2192.33" font-size="7.2" text-anchor="middle" fill="#1a1a1a">4</text>
<text x="81.42" y="2212.56" font-size="7.2" text-anchor="middle" fill="#1a1a1a">5</text>
<text x="98.69" y="2233.04" font-size="7.2" text-anchor="middle" fill="#1a1a1a">6</text>
<text x="81.42" y="2249.57" font-size="7.2" text-anchor="middle" fill="#1a1a1a">7</text>
<text x="98.69" y="2268.32" font-size="7.2" text-anchor="middle" fill="#1a1a1a">8</text>
<text x="81.42" y="2296.2" font-size="7.2" text-anchor="middle" fill="#1a1a1a">9</text>
<text x="98.69" y="2321.87" font-size="7.2" text-anchor="middle" fill="#1a1a1a">10</text>
<text x="81.42" y="2344.81" font-size="7.2" text-anchor="middle" fill="#1a1a1a">11</text>
<text x="98.69" y="2364.55" font-size="7.2" text-anchor="middle" fill="#1a1a1a">12</text>
<text x="81.42" y="2370.23" font-size="7.2" text-anchor="middle" fill="#1a1a1a">13</text>
<text x="98.69" y="2383.06" font-size="7.2" text-anchor="middle" fill="#1a1a1a">14</text>
<text x="81.42" y="2394.65" font-size="7.2" text-anchor="middle" fill="#1a1a1a">15</text>
<text x="98.69" y="2406" font-size="7.2" text-anchor="middle" fill="#1a1a1a">16</text>
<text x="81.42" y="2425.25" font-size="7.2" text-anchor="middle" fill="#1a1a1a">17</text>
<text x="98.69" y="2436.6" font-size="7.2" text-anchor="middle" fill="#1a1a1a">18</text>
<text x="81.42" y="2447.95" font-size="7.2" text-anchor="middle" fill="#1a1a1a">19</text>
<text x="98.69" y="2457.32" font-size="7.2" text-anchor="middle" fill="#1a1a1a">20</text>
<text x="81.42" y="2464.48" font-size="7.2" text-anchor="middle" fill="#1a1a1a">21</text>
<text x="98.69" y="2471.39" font-size="7.2" text-anchor="middle" fill="#1a1a1a">22</text>
<path d="M123.62 2135.65h1.8v6.66h-1.8M123.62 2174.38h1.8v5.92h-1.8M123.62 2247.17h1.8v2.71h-1.8M123.62 2251.86h1.8v4.93h-1.8M123.62 2308.12h1.8v4.44h-1.8M123.62 2338.46h1.8v2.71h-1.8M123.62 2344.14h1.8v6.91h-1.8M123.62 2410.76h1.8v2.47h-1.8M123.62 2424.33h1.8v7.4h-1.8M123.62 2462.08h1.8v5.43h-1.8" fill="none" stroke="#b06a6a" stroke-width="0.5"/>
<text x="239.3" y="2478.8" font-size="7" text-anchor="middle" fill="#1a1a1a">0.25</text>
<text x="288" y="2480.3" font-size="7" fill="#1a1a1a">10</text>
<text x="295.2" y="2477.3" font-size="5" fill="#1a1a1a">−1</text>
<text x="208.8" y="2488.6" font-size="8.3" text-anchor="middle" font-weight="bold" class="sf">Residual q values</text>
<rect x="418.96" y="2143.79" width="167.29" height="14.8" fill="#e6e6e6"/>
<rect x="418.96" y="2184.99" width="167.29" height="11.6" fill="#e6e6e6"/>
<rect x="418.96" y="2224.72" width="167.29" height="12.83" fill="#e6e6e6"/>
<rect x="418.96" y="2257.29" width="167.29" height="17.27" fill="#e6e6e6"/>
<rect x="418.96" y="2312.8" width="167.29" height="12.83" fill="#e6e6e6"/>
<rect x="418.96" y="2358.45" width="167.29" height="5.92" fill="#e6e6e6"/>
<rect x="418.96" y="2369.55" width="167.29" height="20.97" fill="#e6e6e6"/>
<rect x="418.96" y="2392.99" width="167.29" height="19.74" fill="#e6e6e6"/>
<rect x="418.96" y="2430.5" width="167.29" height="4.93" fill="#e6e6e6"/>
<rect x="418.96" y="2452.7" width="167.29" height="1.97" fill="#e6e6e6"/>
<rect x="418.96" y="2466.77" width="167.29" height="2.47" fill="#e6e6e6"/>
<path d="M420.93 2136.39H585.26M420.93 2151.19H585.26M420.93 2171.92H585.26M420.93 2191.16H585.26M420.93 2201.53H585.26M420.93 2231.63H585.26M420.93 2240.02H585.26M420.93 2271.35H585.26M420.93 2303.43H585.26M420.93 2319.96H585.26M420.93 2334.27H585.26M420.93 2360.92H585.26M420.93 2366.35H585.26M420.93 2390.53H585.26M420.93 2405.82H585.26M420.93 2421.12H585.26M420.93 2432.47H585.26M420.93 2446.53H585.26M420.93 2453.69H585.26M420.93 2456.65H585.26M420.93 2466.77H585.26" fill="none" stroke="#c4c4c4" stroke-width="0.6" stroke-dasharray="0.7 1.7"/>
<line x1="456.95" y1="2130.22" x2="456.95" y2="2469.23" stroke="#a9cf9f" stroke-width="0.9"/>
<rect x="406.13" y="2130.22" width="10.36" height="339.02" fill="#fff" stroke="#222" stroke-width="0.7"/>
<rect x="406.13" y="2143.79" width="10.36" height="14.8" fill="#000"/>
<rect x="406.13" y="2184.99" width="10.36" height="11.6" fill="#000"/>
<rect x="406.13" y="2224.72" width="10.36" height="12.83" fill="#000"/>
<rect x="406.13" y="2257.29" width="10.36" height="17.27" fill="#000"/>
<rect x="406.13" y="2312.8" width="10.36" height="12.83" fill="#000"/>
<rect x="406.13" y="2358.45" width="10.36" height="5.92" fill="#000"/>
<rect x="406.13" y="2369.55" width="10.36" height="20.97" fill="#000"/>
<rect x="406.13" y="2392.99" width="10.36" height="19.74" fill="#000"/>
<rect x="406.13" y="2430.5" width="10.36" height="4.93" fill="#000"/>
<rect x="406.13" y="2452.7" width="10.36" height="1.97" fill="#000"/>
<rect x="406.13" y="2466.77" width="10.36" height="2.47" fill="#000"/>
<rect x="418.96" y="2130.22" width="167.29" height="339.02" fill="none" stroke="#444" stroke-width="0.7"/>
<text x="378.24" y="2139.77" font-size="7.2" text-anchor="middle" fill="#1a1a1a">1</text>
<text x="394.78" y="2153.59" font-size="7.2" text-anchor="middle" fill="#1a1a1a">2</text>
<text x="378.24" y="2174.32" font-size="7.2" text-anchor="middle" fill="#1a1a1a">3</text>
<text x="394.78" y="2193.56" font-size="7.2" text-anchor="middle" fill="#1a1a1a">4</text>
<text x="378.24" y="2213.3" font-size="7.2" text-anchor="middle" fill="#1a1a1a">5</text>
<text x="394.78" y="2234.03" font-size="7.2" text-anchor="middle" fill="#1a1a1a">6</text>
<text x="378.24" y="2249.82" font-size="7.2" text-anchor="middle" fill="#1a1a1a">7</text>
<text x="394.78" y="2268.57" font-size="7.2" text-anchor="middle" fill="#1a1a1a">8</text>
<text x="378.24" y="2296.2" font-size="7.2" text-anchor="middle" fill="#1a1a1a">9</text>
<text x="394.78" y="2321.87" font-size="7.2" text-anchor="middle" fill="#1a1a1a">10</text>
<text x="378.24" y="2344.57" font-size="7.2" text-anchor="middle" fill="#1a1a1a">11</text>
<text x="394.78" y="2363.81" font-size="7.2" text-anchor="middle" fill="#1a1a1a">12</text>
<text x="378.24" y="2369.73" font-size="7.2" text-anchor="middle" fill="#1a1a1a">13</text>
<text x="394.78" y="2382.32" font-size="7.2" text-anchor="middle" fill="#1a1a1a">14</text>
<text x="378.24" y="2393.91" font-size="7.2" text-anchor="middle" fill="#1a1a1a">15</text>
<text x="394.78" y="2405.26" font-size="7.2" text-anchor="middle" fill="#1a1a1a">16</text>
<text x="378.24" y="2424.26" font-size="7.2" text-anchor="middle" fill="#1a1a1a">17</text>
<text x="394.78" y="2435.36" font-size="7.2" text-anchor="middle" fill="#1a1a1a">18</text>
<text x="378.24" y="2446.71" font-size="7.2" text-anchor="middle" fill="#1a1a1a">19</text>
<text x="394.78" y="2456.34" font-size="7.2" text-anchor="middle" fill="#1a1a1a">20</text>
<text x="378.24" y="2463.25" font-size="7.2" text-anchor="middle" fill="#1a1a1a">21</text>
<text x="394.78" y="2470.4" font-size="7.2" text-anchor="middle" fill="#1a1a1a">22</text>
<path d="M419.45 2130.71L421.42 2130.71L421.42 2133.18L419.45 2133.92L419.45 2147.74L425.86 2148.23L425.86 2149.46L419.45 2149.96L419.45 2158.59L483.6 2158.59L483.6 2161.55L472.74 2162.05L472.74 2163.53L460.9 2164.02L449.8 2165.5L448.56 2166.98L419.45 2168.46L419.45 2177.59L421.42 2178.09L421.42 2184.75L419.45 2184.75L419.45 2205.47L432.53 2205.97L433.76 2207.45L451.03 2208.43L452.27 2209.91L465.84 2209.91L465.84 2210.9L461.89 2211.39L461.89 2219.29L433.76 2221.26L421.42 2222.25L419.45 2222.74L419.45 2274.56L421.42 2275.05L421.42 2284.92L443.14 2285.42L443.63 2288.87L438.69 2289.86L435.73 2292.82L422.66 2293.31L421.42 2295.78L419.45 2296.27L419.45 2310.34L421.42 2310.83L421.42 2312.06L419.45 2312.56L419.45 2326.13L421.42 2326.37L421.42 2328.1L419.45 2328.35L419.45 2350.31L433.76 2351.54L449.3 2352.28L449.3 2353.27L443.63 2353.52L443.63 2355.24L461.39 2355.74L461.89 2358.2L419.45 2358.2L419.45 2372.02L463.37 2373.75L512.72 2375.23L562.06 2376.21L578.84 2376.96L564.53 2378.19L512.72 2380.66L443.63 2383.62L421.42 2384.11L421.42 2385.34L460.9 2386.82L483.6 2387.56L483.6 2390.28L419.45 2390.28L419.45 2399.9L438.69 2400.89L452.27 2401.63L452.76 2403.85L438.69 2405.33L437.46 2406.56L421.42 2407.06L421.42 2408.54L433.76 2408.78L433.76 2410.26L419.45 2410.76L419.45 2413.23L449.3 2413.23L449.3 2417.17L419.45 2418.16L419.45 2469.23" fill="none" stroke="#4a4a9c" stroke-width="0.6" stroke-linejoin="round"/>
<line x1="586.24" y1="2160.32" x2="605.98" y2="2160.32" stroke="#333" stroke-width="0.6"/>
<text x="607.22" y="2162.52" font-size="6.8" fill="#1a1a1a">3p24.1</text>
<line x1="586.24" y1="2210.41" x2="605.98" y2="2210.41" stroke="#333" stroke-width="0.6"/>
<text x="607.22" y="2212.61" font-size="6.8" fill="#1a1a1a">5q12.3</text>
<line x1="586.24" y1="2357.46" x2="605.98" y2="2357.46" stroke="#333" stroke-width="0.6"/>
<text x="607.22" y="2359.66" font-size="6.8" fill="#1a1a1a">11q24.3</text>
<line x1="586.24" y1="2377.45" x2="605.98" y2="2377.45" stroke="#333" stroke-width="0.6"/>
<text x="607.22" y="2379.65" font-size="6.8" fill="#1a1a1a">14q11.2</text>
<text x="457" y="2478.2" font-size="7" text-anchor="middle" fill="#1a1a1a">0.25</text>
<text x="467.97" y="2479.6" font-size="7" fill="#1a1a1a">10</text>
<text x="475.17" y="2476.6" font-size="5" fill="#1a1a1a">−1</text>
<text x="500.79" y="2479.6" font-size="7" fill="#1a1a1a">10</text>
<text x="507.99" y="2476.6" font-size="5" fill="#1a1a1a">−2</text>
<text x="523.98" y="2479.6" font-size="7" fill="#1a1a1a">10</text>
<text x="531.18" y="2476.6" font-size="5" fill="#1a1a1a">−3</text>
<text x="541.99" y="2479.6" font-size="7" fill="#1a1a1a">10</text>
<text x="549.19" y="2476.6" font-size="5" fill="#1a1a1a">−4</text>
<text x="579.74" y="2479.6" font-size="7" fill="#1a1a1a">10</text>
<text x="586.94" y="2476.6" font-size="5" fill="#1a1a1a">−7</text>
<text x="499.4" y="2491.4" font-size="8.3" text-anchor="middle" font-weight="bold" class="sf">Residual q values</text></g>
<g id="pi"><text x="734.8" y="1801.4" font-size="36" class="sf">i</text>
<rect x="911.1" y="1842.2" width="170.97" height="7.4" fill="#5aa9f0"/>
<path d="M1082.08 1842.2H911.1V1849.6H1082.08" fill="none" stroke="#222" stroke-width="0.5"/>
<text x="899.3" y="1848.3" font-size="6.7" text-anchor="end" fill="#1a1a1a">Cell adhesion molecules (CAMs) (n=117)</text>
<rect x="911.1" y="1851.07" width="108.1" height="7.4" fill="#5aa9f0" stroke="#222" stroke-width="0.5"/>
<text x="1020.4" y="1854.67" font-size="5.5" fill="#111" font-weight="bold">*</text>
<text x="899.3" y="1857.17" font-size="6.7" text-anchor="end" fill="#1a1a1a">ECM−receptor interaction (n=77)</text>
<rect x="911.1" y="1859.94" width="104.51" height="7.4" fill="#5aa9f0" stroke="#222" stroke-width="0.5"/>
<text x="1016.82" y="1863.54" font-size="5.5" fill="#111" font-weight="bold">*</text>
<text x="899.3" y="1866.04" font-size="6.7" text-anchor="end" fill="#1a1a1a">Cytokine−cytokine receptor interaction (n=186)</text>
<rect x="911.1" y="1868.8" width="82.73" height="7.4" fill="#5aa9f0" stroke="#222" stroke-width="0.5"/>
<text x="995.03" y="1872.4" font-size="5.5" fill="#111" font-weight="bold">*</text>
<text x="899.3" y="1874.9" font-size="6.7" text-anchor="end" fill="#1a1a1a">Type I diabetes mellitus (n=39)</text>
<rect x="911.1" y="1877.67" width="81.9" height="7.4" fill="#5aa9f0" stroke="#222" stroke-width="0.5"/>
<text x="994.21" y="1881.27" font-size="5.5" fill="#111" font-weight="bold">*</text>
<text x="899.3" y="1883.77" font-size="6.7" text-anchor="end" fill="#1a1a1a">Hematopoietic cell lineage (n=74)</text>
<rect x="911.1" y="1886.54" width="63.15" height="7.4" fill="#5aa9f0" stroke="#222" stroke-width="0.5"/>
<text x="975.45" y="1890.14" font-size="5.5" fill="#111" font-weight="bold">*</text>
<text x="899.3" y="1892.64" font-size="6.7" text-anchor="end" fill="#1a1a1a">Axon guidance (n=102)</text>
<rect x="911.1" y="1895.41" width="54.88" height="7.4" fill="#5aa9f0" stroke="#222" stroke-width="0.5"/>
<text x="967.18" y="1899.01" font-size="5.5" fill="#111" font-weight="bold">*</text>
<text x="899.3" y="1901.51" font-size="6.7" text-anchor="end" fill="#1a1a1a">Allograft rejection (n=33)</text>
<rect x="911.1" y="1904.28" width="49.64" height="7.4" fill="#5aa9f0" stroke="#222" stroke-width="0.5"/>
<text x="961.94" y="1907.88" font-size="5.5" fill="#111" font-weight="bold">*</text>
<text x="899.3" y="1910.38" font-size="6.7" text-anchor="end" fill="#1a1a1a">Ribosome (n=71)</text>
<rect x="911.1" y="1913.14" width="49.64" height="7.4" fill="#5aa9f0" stroke="#222" stroke-width="0.5"/>
<text x="961.94" y="1916.74" font-size="5.5" fill="#111" font-weight="bold">*</text>
<text x="899.3" y="1919.24" font-size="6.7" text-anchor="end" fill="#1a1a1a">Graft−versus−host disease (n=34)</text>
<rect x="911.1" y="1922.01" width="49.64" height="7.4" fill="#5aa9f0" stroke="#222" stroke-width="0.5"/>
<text x="961.94" y="1925.61" font-size="5.5" fill="#111" font-weight="bold">*</text>
<text x="899.3" y="1928.11" font-size="6.7" text-anchor="end" fill="#1a1a1a">Malaria (n=44)</text>
<rect x="911.1" y="1930.88" width="48.26" height="7.4" fill="#5aa9f0" stroke="#222" stroke-width="0.5"/>
<text x="960.56" y="1934.48" font-size="5.5" fill="#111" font-weight="bold">*</text>
<text x="899.3" y="1936.98" font-size="6.7" text-anchor="end" fill="#1a1a1a">Systemic lupus erythematosus (n=75)</text>
<rect x="911.1" y="1939.75" width="46.6" height="7.4" fill="#5aa9f0" stroke="#222" stroke-width="0.5"/>
<text x="958.91" y="1943.35" font-size="5.5" fill="#111" font-weight="bold">*</text>
<text x="899.3" y="1945.85" font-size="6.7" text-anchor="end" fill="#1a1a1a">Staphylococcus aureus infection (n=45)</text>
<rect x="911.1" y="1948.62" width="46.6" height="7.4" fill="#5aa9f0" stroke="#222" stroke-width="0.5"/>
<text x="958.91" y="1952.22" font-size="5.5" fill="#111" font-weight="bold">*</text>
<text x="899.3" y="1954.72" font-size="6.7" text-anchor="end" fill="#1a1a1a">African trypanosomiasis (n=32)</text>
<rect x="911.1" y="1957.48" width="46.6" height="7.4" fill="#5aa9f0" stroke="#222" stroke-width="0.5"/>
<text x="958.91" y="1961.08" font-size="5.5" fill="#111" font-weight="bold">*</text>
<text x="899.3" y="1963.58" font-size="6.7" text-anchor="end" fill="#1a1a1a">Pathways in cancer (n=225)</text>
<rect x="911.1" y="1966.35" width="45.5" height="7.4" fill="#5aa9f0" stroke="#222" stroke-width="0.5"/>
<text x="957.8" y="1969.95" font-size="5.5" fill="#111" font-weight="bold">*</text>
<text x="899.3" y="1972.45" font-size="6.7" text-anchor="end" fill="#1a1a1a">Complement and coagulation cascades (n=55)</text>
<rect x="911.1" y="1975.22" width="43.85" height="7.4" fill="#5aa9f0" stroke="#222" stroke-width="0.5"/>
<text x="956.15" y="1978.82" font-size="5.5" fill="#111" font-weight="bold">*</text>
<text x="899.3" y="1981.32" font-size="6.7" text-anchor="end" fill="#1a1a1a">Basal cell carcinoma (n=46)</text>
<rect x="911.1" y="1984.09" width="41.36" height="7.4" fill="#5aa9f0" stroke="#222" stroke-width="0.5"/>
<text x="953.67" y="1987.69" font-size="5.5" fill="#111" font-weight="bold">*</text>
<text x="899.3" y="1990.19" font-size="6.7" text-anchor="end" fill="#1a1a1a">Autoimmune thyroid disease (n=33)</text>
<rect x="911.1" y="1992.96" width="40.54" height="7.4" fill="#5aa9f0" stroke="#222" stroke-width="0.5"/>
<text x="952.84" y="1996.56" font-size="5.5" fill="#111" font-weight="bold">*</text>
<text x="899.3" y="1999.06" font-size="6.7" text-anchor="end" fill="#1a1a1a">Calcium signaling pathway (n=126)</text>
<rect x="911.1" y="2001.82" width="36.68" height="7.4" fill="#5aa9f0" stroke="#222" stroke-width="0.5"/>
<text x="948.98" y="2005.42" font-size="5.5" fill="#111" font-weight="bold">*</text>
<text x="899.3" y="2007.92" font-size="6.7" text-anchor="end" fill="#1a1a1a">Antigen processing and presentation (n=55)</text>
<rect x="911.1" y="2010.69" width="35.57" height="7.4" fill="#5aa9f0" stroke="#222" stroke-width="0.5"/>
<text x="947.88" y="2014.29" font-size="5.5" fill="#111" font-weight="bold">*</text>
<text x="899.3" y="2016.79" font-size="6.7" text-anchor="end" fill="#1a1a1a">Viral myocarditis (n=54)</text>
<line x1="911.1" y1="2025.3" x2="1082.1" y2="2025.3" stroke="#333" stroke-width="0.8"/>
<line x1="911.1" y1="2025.3" x2="911.1" y2="2030.3" stroke="#333" stroke-width="0.8"/>
<text x="911.1" y="2046.2" font-size="10.2" text-anchor="middle" fill="#1a1a1a">0</text>
<line x1="941.28" y1="2025.3" x2="941.28" y2="2030.3" stroke="#333" stroke-width="0.8"/>
<text x="941.28" y="2046.2" font-size="10.2" text-anchor="middle" fill="#1a1a1a">2</text>
<line x1="971.46" y1="2025.3" x2="971.46" y2="2030.3" stroke="#333" stroke-width="0.8"/>
<text x="971.46" y="2046.2" font-size="10.2" text-anchor="middle" fill="#1a1a1a">4</text>
<line x1="1001.64" y1="2025.3" x2="1001.64" y2="2030.3" stroke="#333" stroke-width="0.8"/>
<text x="1001.64" y="2046.2" font-size="10.2" text-anchor="middle" fill="#1a1a1a">6</text>
<line x1="1031.82" y1="2025.3" x2="1031.82" y2="2030.3" stroke="#333" stroke-width="0.8"/>
<text x="1031.82" y="2046.2" font-size="10.2" text-anchor="middle" fill="#1a1a1a">8</text>
<line x1="1062" y1="2025.3" x2="1062" y2="2030.3" stroke="#333" stroke-width="0.8"/>
<text x="1062" y="2046.2" font-size="10.2" text-anchor="middle" fill="#1a1a1a">10</text>
<text x="1001.8" y="2069.6" font-size="10.2" text-anchor="middle" fill="#1a1a1a">−log10(padj)</text>
<rect x="1189.64" y="1794.17" width="159.6" height="279.4" fill="#fff"/>
<path d="M1221.43 1794.17V2073.57M1270.09 1794.17V2073.57M1318.53 1794.17V2073.57M1189.64 1802.82H1349.24M1189.64 1816.66H1349.24M1189.64 1830.5H1349.24M1189.64 1844.34H1349.24M1189.64 1858.18H1349.24M1189.64 1872.02H1349.24M1189.64 1885.86H1349.24M1189.64 1899.7H1349.24M1189.64 1913.54H1349.24M1189.64 1927.38H1349.24M1189.64 1941.22H1349.24M1189.64 1955.06H1349.24M1189.64 1968.9H1349.24M1189.64 1982.74H1349.24M1189.64 1996.58H1349.24M1189.64 2010.42H1349.24M1189.64 2024.26H1349.24M1189.64 2038.1H1349.24M1189.64 2051.94H1349.24M1189.64 2065.78H1349.24" fill="none" stroke="#ebebeb" stroke-width="0.6"/>
<path d="M1197.1 1794.17V2073.57M1245.76 1794.17V2073.57M1294.31 1794.17V2073.57M1342.75 1794.17V2073.57" fill="none" stroke="#f2f2f2" stroke-width="0.4"/>
<rect x="1189.64" y="1794.17" width="159.6" height="279.4" fill="none" stroke="#7a7a7a" stroke-width="0.7"/>
<circle cx="1213.86" cy="1802.82" r="2.16" fill="#f20d0d"/>
<line x1="1188.44" y1="1802.82" x2="1189.64" y2="1802.82" stroke="#555" stroke-width="0.5"/>
<text x="1186.3" y="1804.52" font-size="5.3" text-anchor="end" fill="#222">Viral myocarditis</text>
<circle cx="1202.4" cy="1816.66" r="1.73" fill="#f20d0d"/>
<line x1="1188.44" y1="1816.66" x2="1189.64" y2="1816.66" stroke="#555" stroke-width="0.5"/>
<text x="1186.3" y="1818.36" font-size="5.3" text-anchor="end" fill="#222">Type I diabetes mellitus</text>
<circle cx="1229.65" cy="1830.5" r="2.6" fill="#f20d0d"/>
<line x1="1188.44" y1="1830.5" x2="1189.64" y2="1830.5" stroke="#555" stroke-width="0.5"/>
<text x="1186.3" y="1832.2" font-size="5.3" text-anchor="end" fill="#222">Systemic lupus erythematosus</text>
<circle cx="1206.94" cy="1844.34" r="1.95" fill="#f20d0d"/>
<line x1="1188.44" y1="1844.34" x2="1189.64" y2="1844.34" stroke="#555" stroke-width="0.5"/>
<text x="1186.3" y="1846.04" font-size="5.3" text-anchor="end" fill="#222">Staphylococcus aureus infection</text>
<circle cx="1226.62" cy="1858.18" r="2.6" fill="#f20d0d"/>
<line x1="1188.44" y1="1858.18" x2="1189.64" y2="1858.18" stroke="#555" stroke-width="0.5"/>
<text x="1186.3" y="1859.88" font-size="5.3" text-anchor="end" fill="#222">Ribosome</text>
<circle cx="1342.75" cy="1872.02" r="4.11" fill="#f20d0d"/>
<line x1="1188.44" y1="1872.02" x2="1189.64" y2="1872.02" stroke="#555" stroke-width="0.5"/>
<text x="1186.3" y="1873.72" font-size="5.3" text-anchor="end" fill="#222">Pathways in cancer</text>
<circle cx="1206.08" cy="1885.86" r="1.95" fill="#f20d0d"/>
<line x1="1188.44" y1="1885.86" x2="1189.64" y2="1885.86" stroke="#555" stroke-width="0.5"/>
<text x="1186.3" y="1887.56" font-size="5.3" text-anchor="end" fill="#222">Malaria</text>
<circle cx="1228.78" cy="1899.7" r="2.6" fill="#f20d0d"/>
<line x1="1188.44" y1="1899.7" x2="1189.64" y2="1899.7" stroke="#555" stroke-width="0.5"/>
<text x="1186.3" y="1901.4" font-size="5.3" text-anchor="end" fill="#222">Hematopoietic cell lineage</text>
<circle cx="1198.51" cy="1913.54" r="1.3" fill="#f20d0d"/>
<line x1="1188.44" y1="1913.54" x2="1189.64" y2="1913.54" stroke="#555" stroke-width="0.5"/>
<text x="1186.3" y="1915.24" font-size="5.3" text-anchor="end" fill="#222">Graft−versus−host disease</text>
<circle cx="1231.16" cy="1927.38" r="2.6" fill="#f20d0d"/>
<line x1="1188.44" y1="1927.38" x2="1189.64" y2="1927.38" stroke="#555" stroke-width="0.5"/>
<text x="1186.3" y="1929.08" font-size="5.3" text-anchor="end" fill="#222">ECM−receptor interaction</text>
<circle cx="1313.34" cy="1941.22" r="3.89" fill="#f20d0d"/>
<line x1="1188.44" y1="1941.22" x2="1189.64" y2="1941.22" stroke="#555" stroke-width="0.5"/>
<text x="1186.3" y="1942.92" font-size="5.3" text-anchor="end" fill="#222">Cytokine−cytokine receptor interaction</text>
<circle cx="1214.51" cy="1955.06" r="2.16" fill="#f20d0d"/>
<line x1="1188.44" y1="1955.06" x2="1189.64" y2="1955.06" stroke="#555" stroke-width="0.5"/>
<text x="1186.3" y="1956.76" font-size="5.3" text-anchor="end" fill="#222">Complement and coagulation cascades</text>
<circle cx="1261.44" cy="1968.9" r="3.24" fill="#f20d0d"/>
<line x1="1188.44" y1="1968.9" x2="1189.64" y2="1968.9" stroke="#555" stroke-width="0.5"/>
<text x="1186.3" y="1970.6" font-size="5.3" text-anchor="end" fill="#222">Cell adhesion molecules (CAMs)</text>
<circle cx="1268.14" cy="1982.74" r="3.24" fill="#f20d0d"/>
<line x1="1188.44" y1="1982.74" x2="1189.64" y2="1982.74" stroke="#555" stroke-width="0.5"/>
<text x="1186.3" y="1984.44" font-size="5.3" text-anchor="end" fill="#222">Calcium signaling pathway</text>
<circle cx="1207.59" cy="1996.58" r="1.95" fill="#f20d0d"/>
<line x1="1188.44" y1="1996.58" x2="1189.64" y2="1996.58" stroke="#555" stroke-width="0.5"/>
<text x="1186.3" y="1998.28" font-size="5.3" text-anchor="end" fill="#222">Basal cell carcinoma</text>
<circle cx="1249.98" cy="2010.42" r="3.03" fill="#f20d0d"/>
<line x1="1188.44" y1="2010.42" x2="1189.64" y2="2010.42" stroke="#555" stroke-width="0.5"/>
<text x="1186.3" y="2012.12" font-size="5.3" text-anchor="end" fill="#222">Axon guidance</text>
<circle cx="1197.86" cy="2024.26" r="1.3" fill="#f20d0d"/>
<line x1="1188.44" y1="2024.26" x2="1189.64" y2="2024.26" stroke="#555" stroke-width="0.5"/>
<text x="1186.3" y="2025.96" font-size="5.3" text-anchor="end" fill="#222">Autoimmune thyroid disease</text>
<circle cx="1214.51" cy="2038.1" r="2.16" fill="#f20d0d"/>
<line x1="1188.44" y1="2038.1" x2="1189.64" y2="2038.1" stroke="#555" stroke-width="0.5"/>
<text x="1186.3" y="2039.8" font-size="5.3" text-anchor="end" fill="#222">Antigen processing and presentation</text>
<circle cx="1197.86" cy="2051.94" r="1.3" fill="#f20d0d"/>
<line x1="1188.44" y1="2051.94" x2="1189.64" y2="2051.94" stroke="#555" stroke-width="0.5"/>
<text x="1186.3" y="2053.64" font-size="5.3" text-anchor="end" fill="#222">Allograft rejection</text>
<circle cx="1196.99" cy="2065.78" r="1.08" fill="#f20d0d"/>
<line x1="1188.44" y1="2065.78" x2="1189.64" y2="2065.78" stroke="#555" stroke-width="0.5"/>
<text x="1186.3" y="2067.48" font-size="5.3" text-anchor="end" fill="#222">African trypanosomiasis</text>
<line x1="1221.43" y1="2073.57" x2="1221.43" y2="2074.77" stroke="#555" stroke-width="0.5"/>
<text x="1221.43" y="2080.4" font-size="5.3" text-anchor="middle" fill="#333">0.02</text>
<line x1="1270.09" y1="2073.57" x2="1270.09" y2="2074.77" stroke="#555" stroke-width="0.5"/>
<text x="1270.09" y="2080.4" font-size="5.3" text-anchor="middle" fill="#333">0.04</text>
<line x1="1318.53" y1="2073.57" x2="1318.53" y2="2074.77" stroke="#555" stroke-width="0.5"/>
<text x="1318.53" y="2080.4" font-size="5.3" text-anchor="middle" fill="#333">0.06</text>
<text x="1269.2" y="2087.8" font-size="6.6" text-anchor="middle" fill="#1a1a1a">GeneRatio</text>
<text x="1355.5" y="1886.6" font-size="6.2" fill="#1a1a1a">padj</text>
<defs><linearGradient id="rb" x1="0" y1="0" x2="0" y2="1"><stop offset="0" stop-color="#8b2be6"/><stop offset="0.15" stop-color="#5a6cf5"/><stop offset="0.33" stop-color="#38d8f0"/><stop offset="0.5" stop-color="#3df0a0"/><stop offset="0.66" stop-color="#7ef03a"/><stop offset="0.8" stop-color="#f0e030"/><stop offset="0.9" stop-color="#f59020"/><stop offset="1" stop-color="#f51010"/></linearGradient></defs>
<rect x="1355.7" y="1888.9" width="9.3" height="46.3" fill="url(#rb)"/>
<text x="1367.2" y="1891.77" font-size="4.9" fill="#222">1.00</text>
<text x="1367.2" y="1902.8" font-size="4.9" fill="#222">0.75</text>
<text x="1367.2" y="1913.83" font-size="4.9" fill="#222">0.50</text>
<text x="1367.2" y="1924.86" font-size="4.9" fill="#222">0.25</text>
<text x="1367.2" y="1935.88" font-size="4.9" fill="#222">0.00</text>
<text x="1355.5" y="1947.2" font-size="6.2" fill="#1a1a1a">Count</text>
<circle cx="1361.1" cy="1954.63" r="1.73" fill="#000"/>
<text x="1366.2" y="1956.43" font-size="4.9" fill="#222">50</text>
<circle cx="1361.1" cy="1963.71" r="2.38" fill="#000"/>
<text x="1366.2" y="1965.51" font-size="4.9" fill="#222">100</text>
<circle cx="1361.1" cy="1973.23" r="3.03" fill="#000"/>
<text x="1366.2" y="1975.03" font-size="4.9" fill="#222">150</text>
<circle cx="1361.1" cy="1982.31" r="3.68" fill="#000"/>
<text x="1366.2" y="1984.11" font-size="4.9" fill="#222">200</text></g>
<g id="pj"><text x="729.3" y="2120.2" font-size="36" class="sf">j</text>
<text x="799.6" y="2141.8" font-size="12" fill="#111" font-weight="bold">Correlation between HighFreq−CNV−loss and mRNA log2FoldChange</text>
<path d="M858.48 2147.3L1079.09 2147.3M858.48 2147.3L858.48 2172.13M1079.09 2147.3L1079.09 2171.18M820.75 2172.13L896.68 2172.13M820.75 2172.13L820.75 2195.53M896.68 2172.13L896.68 2182.16M871.37 2182.16L921.99 2182.16M871.37 2182.16L871.37 2195.53M921.99 2182.16L921.99 2195.53M1010.33 2171.18L1148.8 2171.18M1010.33 2171.18L1010.33 2179.29M1148.8 2171.18L1148.8 2175M972.6 2179.29L1048.05 2179.29M972.6 2179.29L972.6 2195.53M1048.05 2179.29L1048.05 2182.64M1023.22 2182.64L1073.36 2182.64M1023.22 2182.64L1023.22 2195.53M1073.36 2182.64L1073.36 2195.53M1123.97 2175L1174.11 2175M1123.97 2175L1123.97 2195.53M1174.11 2175L1174.11 2195.53" fill="none" stroke="#222" stroke-width="0.6"/>
<rect x="795.45" y="2195.53" width="50.44" height="8.12" fill="#fff" stroke="#333" stroke-width="0.6"/>
<rect x="795.45" y="2206.03" width="50.44" height="8.6" fill="#1b9e77" stroke="#333" stroke-width="0.6"/>
<rect x="845.88" y="2195.53" width="50.44" height="8.12" fill="#fff" stroke="#333" stroke-width="0.6"/>
<rect x="845.88" y="2206.03" width="50.44" height="8.6" fill="#1b9e77" stroke="#333" stroke-width="0.6"/>
<rect x="896.32" y="2195.53" width="50.44" height="8.12" fill="#fff" stroke="#333" stroke-width="0.6"/>
<rect x="896.32" y="2206.03" width="50.44" height="8.6" fill="#1b9e77" stroke="#333" stroke-width="0.6"/>
<rect x="946.76" y="2195.53" width="50.44" height="8.12" fill="#c1272d" stroke="#333" stroke-width="0.6"/>
<rect x="946.76" y="2206.03" width="50.44" height="8.6" fill="#ffff33" stroke="#333" stroke-width="0.6"/>
<rect x="997.19" y="2195.53" width="50.44" height="8.12" fill="#fff" stroke="#333" stroke-width="0.6"/>
<rect x="997.19" y="2206.03" width="50.44" height="8.6" fill="#d95f02" stroke="#333" stroke-width="0.6"/>
<rect x="1047.63" y="2195.53" width="50.44" height="8.12" fill="#c1272d" stroke="#333" stroke-width="0.6"/>
<rect x="1047.63" y="2206.03" width="50.44" height="8.6" fill="#ffff33" stroke="#333" stroke-width="0.6"/>
<rect x="1098.07" y="2195.53" width="50.44" height="8.12" fill="#fff" stroke="#333" stroke-width="0.6"/>
<rect x="1098.07" y="2206.03" width="50.44" height="8.6" fill="#d95f02" stroke="#333" stroke-width="0.6"/>
<rect x="1148.5" y="2195.53" width="50.44" height="8.12" fill="#fff" stroke="#333" stroke-width="0.6"/>
<rect x="1148.5" y="2206.03" width="50.44" height="8.6" fill="#d95f02" stroke="#333" stroke-width="0.6"/>
<rect x="795.45" y="2217.49" width="50.44" height="13.37" fill="#aeaedb" stroke="#333" stroke-width="0.6"/>
<text x="820.66" y="2226.58" font-size="6.6" text-anchor="middle" fill="#222">−2.20</text>
<rect x="845.88" y="2217.49" width="50.44" height="13.37" fill="#8686c9" stroke="#333" stroke-width="0.6"/>
<text x="871.1" y="2226.58" font-size="6.6" text-anchor="middle" fill="#222">−3.34</text>
<rect x="896.32" y="2217.49" width="50.44" height="13.37" fill="#9797d0" stroke="#333" stroke-width="0.6"/>
<text x="921.54" y="2226.58" font-size="6.6" text-anchor="middle" fill="#222">−2.86</text>
<rect x="946.76" y="2217.49" width="50.44" height="13.37" fill="#6060b8" stroke="#333" stroke-width="0.6"/>
<text x="971.98" y="2226.58" font-size="6.6" text-anchor="middle" fill="#222">−4.42</text>
<rect x="997.19" y="2217.49" width="50.44" height="13.37" fill="#4343ab" stroke="#333" stroke-width="0.6"/>
<text x="1022.41" y="2226.58" font-size="6.6" text-anchor="middle" fill="#222">−5.25</text>
<rect x="1047.63" y="2217.49" width="50.44" height="13.37" fill="#24249d" stroke="#333" stroke-width="0.6"/>
<text x="1072.85" y="2226.58" font-size="6.6" text-anchor="middle" fill="#222">−6.15</text>
<rect x="1098.07" y="2217.49" width="50.44" height="13.37" fill="#3a3aa7" stroke="#333" stroke-width="0.6"/>
<text x="1123.29" y="2226.58" font-size="6.6" text-anchor="middle" fill="#222">−5.51</text>
<rect x="1148.5" y="2217.49" width="50.44" height="13.37" fill="#7979c3" stroke="#333" stroke-width="0.6"/>
<text x="1173.72" y="2226.58" font-size="6.6" text-anchor="middle" fill="#222">−3.69</text>
<text x="1202.4" y="2227.28" font-size="8.8" fill="#111">ZBTB16</text>
<rect x="795.45" y="2230.87" width="50.44" height="13.37" fill="#9797d0" stroke="#333" stroke-width="0.6"/>
<text x="820.66" y="2239.95" font-size="6.6" text-anchor="middle" fill="#222">−2.86</text>
<rect x="845.88" y="2230.87" width="50.44" height="13.37" fill="#a7a7d7" stroke="#333" stroke-width="0.6"/>
<text x="871.1" y="2239.95" font-size="6.6" text-anchor="middle" fill="#222">−2.41</text>
<rect x="896.32" y="2230.87" width="50.44" height="13.37" fill="#afafdb" stroke="#333" stroke-width="0.6"/>
<text x="921.54" y="2239.95" font-size="6.6" text-anchor="middle" fill="#222">−2.18</text>
<rect x="946.76" y="2230.87" width="50.44" height="13.37" fill="#7f7fc6" stroke="#333" stroke-width="0.6"/>
<text x="971.98" y="2239.95" font-size="6.6" text-anchor="middle" fill="#222">−3.52</text>
<rect x="997.19" y="2230.87" width="50.44" height="13.37" fill="#8787c9" stroke="#333" stroke-width="0.6"/>
<text x="1022.41" y="2239.95" font-size="6.6" text-anchor="middle" fill="#222">−3.30</text>
<rect x="1047.63" y="2230.87" width="50.44" height="13.37" fill="#8181c7" stroke="#333" stroke-width="0.6"/>
<text x="1072.85" y="2239.95" font-size="6.6" text-anchor="middle" fill="#222">−3.46</text>
<rect x="1098.07" y="2230.87" width="50.44" height="13.37" fill="#a8a8d8" stroke="#333" stroke-width="0.6"/>
<text x="1123.29" y="2239.95" font-size="6.6" text-anchor="middle" fill="#222">−2.37</text>
<rect x="1148.5" y="2230.87" width="50.44" height="13.37" fill="#9292ce" stroke="#333" stroke-width="0.6"/>
<text x="1173.72" y="2239.95" font-size="6.6" text-anchor="middle" fill="#222">−2.98</text>
<text x="1202.4" y="2240.65" font-size="8.8" fill="#111">PPARG</text>
<rect x="795.45" y="2244.24" width="50.44" height="13.37" fill="#ffffff" stroke="#333" stroke-width="0.6"/>
<text x="820.66" y="2253.32" font-size="6.6" text-anchor="middle" fill="#222">0.00</text>
<rect x="845.88" y="2244.24" width="50.44" height="13.37" fill="#d6d6ed" stroke="#333" stroke-width="0.6"/>
<text x="871.1" y="2253.32" font-size="6.6" text-anchor="middle" fill="#222">−1.09</text>
<rect x="896.32" y="2244.24" width="50.44" height="13.37" fill="#cecee9" stroke="#333" stroke-width="0.6"/>
<text x="921.54" y="2253.32" font-size="6.6" text-anchor="middle" fill="#222">−1.30</text>
<rect x="946.76" y="2244.24" width="50.44" height="13.37" fill="#9999d2" stroke="#333" stroke-width="0.6"/>
<text x="971.98" y="2253.32" font-size="6.6" text-anchor="middle" fill="#222">−2.78</text>
<rect x="997.19" y="2244.24" width="50.44" height="13.37" fill="#b1b1dc" stroke="#333" stroke-width="0.6"/>
<text x="1022.41" y="2253.32" font-size="6.6" text-anchor="middle" fill="#222">−2.12</text>
<rect x="1047.63" y="2244.24" width="50.44" height="13.37" fill="#a4a4d7" stroke="#333" stroke-width="0.6"/>
<text x="1072.85" y="2253.32" font-size="6.6" text-anchor="middle" fill="#222">−2.47</text>
<rect x="1098.07" y="2244.24" width="50.44" height="13.37" fill="#bcbce1" stroke="#333" stroke-width="0.6"/>
<text x="1123.29" y="2253.32" font-size="6.6" text-anchor="middle" fill="#222">−1.81</text>
<rect x="1148.5" y="2244.24" width="50.44" height="13.37" fill="#ababd9" stroke="#333" stroke-width="0.6"/>
<text x="1173.72" y="2253.32" font-size="6.6" text-anchor="middle" fill="#222">−2.29</text>
<text x="1202.4" y="2254.02" font-size="8.8" fill="#111">TGFBR2</text>
<rect x="795.45" y="2257.61" width="50.44" height="13.37" fill="#f7d2d2" stroke="#333" stroke-width="0.6"/>
<text x="820.66" y="2266.69" font-size="6.6" text-anchor="middle" fill="#222">1.48</text>
<rect x="845.88" y="2257.61" width="50.44" height="13.37" fill="#ffffff" stroke="#333" stroke-width="0.6"/>
<text x="871.1" y="2266.69" font-size="6.6" text-anchor="middle" fill="#222">0.00</text>
<rect x="896.32" y="2257.61" width="50.44" height="13.37" fill="#ffffff" stroke="#333" stroke-width="0.6"/>
<text x="921.54" y="2266.69" font-size="6.6" text-anchor="middle" fill="#222">0.00</text>
<rect x="946.76" y="2257.61" width="50.44" height="13.37" fill="#c5c5e5" stroke="#333" stroke-width="0.6"/>
<text x="971.98" y="2266.69" font-size="6.6" text-anchor="middle" fill="#222">−1.57</text>
<rect x="997.19" y="2257.61" width="50.44" height="13.37" fill="#cecee9" stroke="#333" stroke-width="0.6"/>
<text x="1022.41" y="2266.69" font-size="6.6" text-anchor="middle" fill="#222">−1.31</text>
<rect x="1047.63" y="2257.61" width="50.44" height="13.37" fill="#aaaad9" stroke="#333" stroke-width="0.6"/>
<text x="1072.85" y="2266.69" font-size="6.6" text-anchor="middle" fill="#222">−2.30</text>
<rect x="1098.07" y="2257.61" width="50.44" height="13.37" fill="#cbcbe8" stroke="#333" stroke-width="0.6"/>
<text x="1123.29" y="2266.69" font-size="6.6" text-anchor="middle" fill="#222">−1.39</text>
<rect x="1148.5" y="2257.61" width="50.44" height="13.37" fill="#aaaad9" stroke="#333" stroke-width="0.6"/>
<text x="1173.72" y="2266.69" font-size="6.6" text-anchor="middle" fill="#222">−2.31</text>
<text x="1202.4" y="2267.39" font-size="8.8" fill="#111">EBF1</text>
<rect x="795.45" y="2270.98" width="50.44" height="13.37" fill="#ffffff" stroke="#333" stroke-width="0.6"/>
<text x="820.66" y="2280.06" font-size="6.6" text-anchor="middle" fill="#222">0.00</text>
<rect x="845.88" y="2270.98" width="50.44" height="13.37" fill="#ffffff" stroke="#333" stroke-width="0.6"/>
<text x="871.1" y="2280.06" font-size="6.6" text-anchor="middle" fill="#222">0.00</text>
<rect x="896.32" y="2270.98" width="50.44" height="13.37" fill="#c9c9e7" stroke="#333" stroke-width="0.6"/>
<text x="921.54" y="2280.06" font-size="6.6" text-anchor="middle" fill="#222">−1.45</text>
<rect x="946.76" y="2270.98" width="50.44" height="13.37" fill="#adadda" stroke="#333" stroke-width="0.6"/>
<text x="971.98" y="2280.06" font-size="6.6" text-anchor="middle" fill="#222">−2.23</text>
<rect x="997.19" y="2270.98" width="50.44" height="13.37" fill="#d7d7ed" stroke="#333" stroke-width="0.6"/>
<text x="1022.41" y="2280.06" font-size="6.6" text-anchor="middle" fill="#222">−1.07</text>
<rect x="1047.63" y="2270.98" width="50.44" height="13.37" fill="#c1c1e3" stroke="#333" stroke-width="0.6"/>
<text x="1072.85" y="2280.06" font-size="6.6" text-anchor="middle" fill="#222">−1.66</text>
<rect x="1098.07" y="2270.98" width="50.44" height="13.37" fill="#d3d3ec" stroke="#333" stroke-width="0.6"/>
<text x="1123.29" y="2280.06" font-size="6.6" text-anchor="middle" fill="#222">−1.16</text>
<rect x="1148.5" y="2270.98" width="50.44" height="13.37" fill="#d1d1ea" stroke="#333" stroke-width="0.6"/>
<text x="1173.72" y="2280.06" font-size="6.6" text-anchor="middle" fill="#222">−1.23</text>
<text x="1202.4" y="2280.76" font-size="8.8" fill="#111">PIK3R1</text>
<rect x="795.45" y="2288.88" width="50.44" height="13.37" fill="#ffffff" stroke="#333" stroke-width="0.6"/>
<text x="820.66" y="2297.97" font-size="6.6" text-anchor="middle" fill="#222">0.00</text>
<rect x="845.88" y="2288.88" width="50.44" height="13.37" fill="#ffffff" stroke="#333" stroke-width="0.6"/>
<text x="871.1" y="2297.97" font-size="6.6" text-anchor="middle" fill="#222">0.00</text>
<rect x="896.32" y="2288.88" width="50.44" height="13.37" fill="#ffffff" stroke="#333" stroke-width="0.6"/>
<text x="921.54" y="2297.97" font-size="6.6" text-anchor="middle" fill="#222">0.00</text>
<rect x="946.76" y="2288.88" width="50.44" height="13.37" fill="#ffffff" stroke="#333" stroke-width="0.6"/>
<text x="971.98" y="2297.97" font-size="6.6" text-anchor="middle" fill="#222">0.00</text>
<rect x="997.19" y="2288.88" width="50.44" height="13.37" fill="#ffffff" stroke="#333" stroke-width="0.6"/>
<text x="1022.41" y="2297.97" font-size="6.6" text-anchor="middle" fill="#222">0.00</text>
<rect x="1047.63" y="2288.88" width="50.44" height="13.37" fill="#ffffff" stroke="#333" stroke-width="0.6"/>
<text x="1072.85" y="2297.97" font-size="6.6" text-anchor="middle" fill="#222">0.00</text>
<rect x="1098.07" y="2288.88" width="50.44" height="13.37" fill="#cacae8" stroke="#333" stroke-width="0.6"/>
<text x="1123.29" y="2297.97" font-size="6.6" text-anchor="middle" fill="#222">−1.41</text>
<rect x="1148.5" y="2288.88" width="50.44" height="13.37" fill="#d1d1eb" stroke="#333" stroke-width="0.6"/>
<text x="1173.72" y="2297.97" font-size="6.6" text-anchor="middle" fill="#222">−1.22</text>
<text x="1202.4" y="2298.67" font-size="8.8" fill="#111">ARHGEF12</text>
<rect x="795.45" y="2302.25" width="50.44" height="13.37" fill="#f7d4d4" stroke="#333" stroke-width="0.6"/>
<text x="820.66" y="2311.34" font-size="6.6" text-anchor="middle" fill="#222">1.41</text>
<rect x="845.88" y="2302.25" width="50.44" height="13.37" fill="#ffffff" stroke="#333" stroke-width="0.6"/>
<text x="871.1" y="2311.34" font-size="6.6" text-anchor="middle" fill="#222">0.00</text>
<rect x="896.32" y="2302.25" width="50.44" height="13.37" fill="#ffffff" stroke="#333" stroke-width="0.6"/>
<text x="921.54" y="2311.34" font-size="6.6" text-anchor="middle" fill="#222">0.00</text>
<rect x="946.76" y="2302.25" width="50.44" height="13.37" fill="#ffffff" stroke="#333" stroke-width="0.6"/>
<text x="971.98" y="2311.34" font-size="6.6" text-anchor="middle" fill="#222">0.00</text>
<rect x="997.19" y="2302.25" width="50.44" height="13.37" fill="#ffffff" stroke="#333" stroke-width="0.6"/>
<text x="1022.41" y="2311.34" font-size="6.6" text-anchor="middle" fill="#222">0.00</text>
<rect x="1047.63" y="2302.25" width="50.44" height="13.37" fill="#ffffff" stroke="#333" stroke-width="0.6"/>
<text x="1072.85" y="2311.34" font-size="6.6" text-anchor="middle" fill="#222">0.00</text>
<rect x="1098.07" y="2302.25" width="50.44" height="13.37" fill="#ffffff" stroke="#333" stroke-width="0.6"/>
<text x="1123.29" y="2311.34" font-size="6.6" text-anchor="middle" fill="#222">0.00</text>
<rect x="1148.5" y="2302.25" width="50.44" height="13.37" fill="#ffffff" stroke="#333" stroke-width="0.6"/>
<text x="1173.72" y="2311.34" font-size="6.6" text-anchor="middle" fill="#222">0.00</text>
<text x="1202.4" y="2312.04" font-size="8.8" fill="#111">ATM</text>
<rect x="795.45" y="2315.62" width="50.44" height="13.37" fill="#ffffff" stroke="#333" stroke-width="0.6"/>
<text x="820.66" y="2324.71" font-size="6.6" text-anchor="middle" fill="#222">0.00</text>
<rect x="845.88" y="2315.62" width="50.44" height="13.37" fill="#ffffff" stroke="#333" stroke-width="0.6"/>
<text x="871.1" y="2324.71" font-size="6.6" text-anchor="middle" fill="#222">0.00</text>
<rect x="896.32" y="2315.62" width="50.44" height="13.37" fill="#ffffff" stroke="#333" stroke-width="0.6"/>
<text x="921.54" y="2324.71" font-size="6.6" text-anchor="middle" fill="#222">0.00</text>
<rect x="946.76" y="2315.62" width="50.44" height="13.37" fill="#ffffff" stroke="#333" stroke-width="0.6"/>
<text x="971.98" y="2324.71" font-size="6.6" text-anchor="middle" fill="#222">0.00</text>
<rect x="997.19" y="2315.62" width="50.44" height="13.37" fill="#ffffff" stroke="#333" stroke-width="0.6"/>
<text x="1022.41" y="2324.71" font-size="6.6" text-anchor="middle" fill="#222">0.00</text>
<rect x="1047.63" y="2315.62" width="50.44" height="13.37" fill="#ffffff" stroke="#333" stroke-width="0.6"/>
<text x="1072.85" y="2324.71" font-size="6.6" text-anchor="middle" fill="#222">0.00</text>
<rect x="1098.07" y="2315.62" width="50.44" height="13.37" fill="#ffffff" stroke="#333" stroke-width="0.6"/>
<text x="1123.29" y="2324.71" font-size="6.6" text-anchor="middle" fill="#222">0.00</text>
<rect x="1148.5" y="2315.62" width="50.44" height="13.37" fill="#ffffff" stroke="#333" stroke-width="0.6"/>
<text x="1173.72" y="2324.71" font-size="6.6" text-anchor="middle" fill="#222">0.00</text>
<text x="1202.4" y="2325.41" font-size="8.8" fill="#111">BAP1</text>
<rect x="795.45" y="2328.99" width="50.44" height="13.37" fill="#ffffff" stroke="#333" stroke-width="0.6"/>
<text x="820.66" y="2338.08" font-size="6.6" text-anchor="middle" fill="#222">0.00</text>
<rect x="845.88" y="2328.99" width="50.44" height="13.37" fill="#ffffff" stroke="#333" stroke-width="0.6"/>
<text x="871.1" y="2338.08" font-size="6.6" text-anchor="middle" fill="#222">0.00</text>
<rect x="896.32" y="2328.99" width="50.44" height="13.37" fill="#ffffff" stroke="#333" stroke-width="0.6"/>
<text x="921.54" y="2338.08" font-size="6.6" text-anchor="middle" fill="#222">0.00</text>
<rect x="946.76" y="2328.99" width="50.44" height="13.37" fill="#ffffff" stroke="#333" stroke-width="0.6"/>
<text x="971.98" y="2338.08" font-size="6.6" text-anchor="middle" fill="#222">0.00</text>
<rect x="997.19" y="2328.99" width="50.44" height="13.37" fill="#ffffff" stroke="#333" stroke-width="0.6"/>
<text x="1022.41" y="2338.08" font-size="6.6" text-anchor="middle" fill="#222">0.00</text>
<rect x="1047.63" y="2328.99" width="50.44" height="13.37" fill="#ffffff" stroke="#333" stroke-width="0.6"/>
<text x="1072.85" y="2338.08" font-size="6.6" text-anchor="middle" fill="#222">0.00</text>
<rect x="1098.07" y="2328.99" width="50.44" height="13.37" fill="#ffffff" stroke="#333" stroke-width="0.6"/>
<text x="1123.29" y="2338.08" font-size="6.6" text-anchor="middle" fill="#222">0.00</text>
<rect x="1148.5" y="2328.99" width="50.44" height="13.37" fill="#ffffff" stroke="#333" stroke-width="0.6"/>
<text x="1173.72" y="2338.08" font-size="6.6" text-anchor="middle" fill="#222">0.00</text>
<text x="1202.4" y="2338.78" font-size="8.8" fill="#111">BCL9L</text>
<rect x="795.45" y="2342.36" width="50.44" height="13.37" fill="#ffffff" stroke="#333" stroke-width="0.6"/>
<text x="820.66" y="2351.45" font-size="6.6" text-anchor="middle" fill="#222">0.00</text>
<rect x="845.88" y="2342.36" width="50.44" height="13.37" fill="#ffffff" stroke="#333" stroke-width="0.6"/>
<text x="871.1" y="2351.45" font-size="6.6" text-anchor="middle" fill="#222">0.00</text>
<rect x="896.32" y="2342.36" width="50.44" height="13.37" fill="#ffffff" stroke="#333" stroke-width="0.6"/>
<text x="921.54" y="2351.45" font-size="6.6" text-anchor="middle" fill="#222">0.00</text>
<rect x="946.76" y="2342.36" width="50.44" height="13.37" fill="#ffffff" stroke="#333" stroke-width="0.6"/>
<text x="971.98" y="2351.45" font-size="6.6" text-anchor="middle" fill="#222">0.00</text>
<rect x="997.19" y="2342.36" width="50.44" height="13.37" fill="#ffffff" stroke="#333" stroke-width="0.6"/>
<text x="1022.41" y="2351.45" font-size="6.6" text-anchor="middle" fill="#222">0.00</text>
<rect x="1047.63" y="2342.36" width="50.44" height="13.37" fill="#ffffff" stroke="#333" stroke-width="0.6"/>
<text x="1072.85" y="2351.45" font-size="6.6" text-anchor="middle" fill="#222">0.00</text>
<rect x="1098.07" y="2342.36" width="50.44" height="13.37" fill="#ffffff" stroke="#333" stroke-width="0.6"/>
<text x="1123.29" y="2351.45" font-size="6.6" text-anchor="middle" fill="#222">0.00</text>
<rect x="1148.5" y="2342.36" width="50.44" height="13.37" fill="#d0d0ea" stroke="#333" stroke-width="0.6"/>
<text x="1173.72" y="2351.45" font-size="6.6" text-anchor="middle" fill="#222">−1.25</text>
<text x="1202.4" y="2352.15" font-size="8.8" fill="#111">CBL</text>
<rect x="795.45" y="2355.73" width="50.44" height="13.37" fill="#ffffff" stroke="#333" stroke-width="0.6"/>
<text x="820.66" y="2364.82" font-size="6.6" text-anchor="middle" fill="#222">0.00</text>
<rect x="845.88" y="2355.73" width="50.44" height="13.37" fill="#ffffff" stroke="#333" stroke-width="0.6"/>
<text x="871.1" y="2364.82" font-size="6.6" text-anchor="middle" fill="#222">0.00</text>
<rect x="896.32" y="2355.73" width="50.44" height="13.37" fill="#ffffff" stroke="#333" stroke-width="0.6"/>
<text x="921.54" y="2364.82" font-size="6.6" text-anchor="middle" fill="#222">0.00</text>
<rect x="946.76" y="2355.73" width="50.44" height="13.37" fill="#ffffff" stroke="#333" stroke-width="0.6"/>
<text x="971.98" y="2364.82" font-size="6.6" text-anchor="middle" fill="#222">0.00</text>
<rect x="997.19" y="2355.73" width="50.44" height="13.37" fill="#ffffff" stroke="#333" stroke-width="0.6"/>
<text x="1022.41" y="2364.82" font-size="6.6" text-anchor="middle" fill="#222">0.00</text>
<rect x="1047.63" y="2355.73" width="50.44" height="13.37" fill="#ffffff" stroke="#333" stroke-width="0.6"/>
<text x="1072.85" y="2364.82" font-size="6.6" text-anchor="middle" fill="#222">0.00</text>
<rect x="1098.07" y="2355.73" width="50.44" height="13.37" fill="#ffffff" stroke="#333" stroke-width="0.6"/>
<text x="1123.29" y="2364.82" font-size="6.6" text-anchor="middle" fill="#222">0.00</text>
<rect x="1148.5" y="2355.73" width="50.44" height="13.37" fill="#ffffff" stroke="#333" stroke-width="0.6"/>
<text x="1173.72" y="2364.82" font-size="6.6" text-anchor="middle" fill="#222">0.00</text>
<text x="1202.4" y="2365.52" font-size="8.8" fill="#111">DDX10</text>
<rect x="795.45" y="2369.1" width="50.44" height="13.37" fill="#ffffff" stroke="#333" stroke-width="0.6"/>
<text x="820.66" y="2378.19" font-size="6.6" text-anchor="middle" fill="#222">0.00</text>
<rect x="845.88" y="2369.1" width="50.44" height="13.37" fill="#ffffff" stroke="#333" stroke-width="0.6"/>
<text x="871.1" y="2378.19" font-size="6.6" text-anchor="middle" fill="#222">0.00</text>
<rect x="896.32" y="2369.1" width="50.44" height="13.37" fill="#ffffff" stroke="#333" stroke-width="0.6"/>
<text x="921.54" y="2378.19" font-size="6.6" text-anchor="middle" fill="#222">0.00</text>
<rect x="946.76" y="2369.1" width="50.44" height="13.37" fill="#ffffff" stroke="#333" stroke-width="0.6"/>
<text x="971.98" y="2378.19" font-size="6.6" text-anchor="middle" fill="#222">0.00</text>
<rect x="997.19" y="2369.1" width="50.44" height="13.37" fill="#ffffff" stroke="#333" stroke-width="0.6"/>
<text x="1022.41" y="2378.19" font-size="6.6" text-anchor="middle" fill="#222">0.00</text>
<rect x="1047.63" y="2369.1" width="50.44" height="13.37" fill="#ffffff" stroke="#333" stroke-width="0.6"/>
<text x="1072.85" y="2378.19" font-size="6.6" text-anchor="middle" fill="#222">0.00</text>
<rect x="1098.07" y="2369.1" width="50.44" height="13.37" fill="#ffffff" stroke="#333" stroke-width="0.6"/>
<text x="1123.29" y="2378.19" font-size="6.6" text-anchor="middle" fill="#222">0.00</text>
<rect x="1148.5" y="2369.1" width="50.44" height="13.37" fill="#ffffff" stroke="#333" stroke-width="0.6"/>
<text x="1173.72" y="2378.19" font-size="6.6" text-anchor="middle" fill="#222">0.00</text>
<text x="1202.4" y="2378.89" font-size="8.8" fill="#111">FHIT</text>
<rect x="795.45" y="2382.47" width="50.44" height="13.37" fill="#ffffff" stroke="#333" stroke-width="0.6"/>
<text x="820.66" y="2391.56" font-size="6.6" text-anchor="middle" fill="#222">0.00</text>
<rect x="845.88" y="2382.47" width="50.44" height="13.37" fill="#ffffff" stroke="#333" stroke-width="0.6"/>
<text x="871.1" y="2391.56" font-size="6.6" text-anchor="middle" fill="#222">0.00</text>
<rect x="896.32" y="2382.47" width="50.44" height="13.37" fill="#ffffff" stroke="#333" stroke-width="0.6"/>
<text x="921.54" y="2391.56" font-size="6.6" text-anchor="middle" fill="#222">0.00</text>
<rect x="946.76" y="2382.47" width="50.44" height="13.37" fill="#ffffff" stroke="#333" stroke-width="0.6"/>
<text x="971.98" y="2391.56" font-size="6.6" text-anchor="middle" fill="#222">0.00</text>
<rect x="997.19" y="2382.47" width="50.44" height="13.37" fill="#ffffff" stroke="#333" stroke-width="0.6"/>
<text x="1022.41" y="2391.56" font-size="6.6" text-anchor="middle" fill="#222">0.00</text>
<rect x="1047.63" y="2382.47" width="50.44" height="13.37" fill="#ffffff" stroke="#333" stroke-width="0.6"/>
<text x="1072.85" y="2391.56" font-size="6.6" text-anchor="middle" fill="#222">0.00</text>
<rect x="1098.07" y="2382.47" width="50.44" height="13.37" fill="#ffffff" stroke="#333" stroke-width="0.6"/>
<text x="1123.29" y="2391.56" font-size="6.6" text-anchor="middle" fill="#222">0.00</text>
<rect x="1148.5" y="2382.47" width="50.44" height="13.37" fill="#ffffff" stroke="#333" stroke-width="0.6"/>
<text x="1173.72" y="2391.56" font-size="6.6" text-anchor="middle" fill="#222">0.00</text>
<text x="1202.4" y="2392.26" font-size="8.8" fill="#111">MAP3K1</text>
<rect x="795.45" y="2395.84" width="50.44" height="13.37" fill="#ffffff" stroke="#333" stroke-width="0.6"/>
<text x="820.66" y="2404.93" font-size="6.6" text-anchor="middle" fill="#222">0.00</text>
<rect x="845.88" y="2395.84" width="50.44" height="13.37" fill="#ffffff" stroke="#333" stroke-width="0.6"/>
<text x="871.1" y="2404.93" font-size="6.6" text-anchor="middle" fill="#222">0.00</text>
<rect x="896.32" y="2395.84" width="50.44" height="13.37" fill="#ffffff" stroke="#333" stroke-width="0.6"/>
<text x="921.54" y="2404.93" font-size="6.6" text-anchor="middle" fill="#222">0.00</text>
<rect x="946.76" y="2395.84" width="50.44" height="13.37" fill="#ffffff" stroke="#333" stroke-width="0.6"/>
<text x="971.98" y="2404.93" font-size="6.6" text-anchor="middle" fill="#222">0.00</text>
<rect x="997.19" y="2395.84" width="50.44" height="13.37" fill="#ffffff" stroke="#333" stroke-width="0.6"/>
<text x="1022.41" y="2404.93" font-size="6.6" text-anchor="middle" fill="#222">0.00</text>
<rect x="1047.63" y="2395.84" width="50.44" height="13.37" fill="#ffffff" stroke="#333" stroke-width="0.6"/>
<text x="1072.85" y="2404.93" font-size="6.6" text-anchor="middle" fill="#222">0.00</text>
<rect x="1098.07" y="2395.84" width="50.44" height="13.37" fill="#ffffff" stroke="#333" stroke-width="0.6"/>
<text x="1123.29" y="2404.93" font-size="6.6" text-anchor="middle" fill="#222">0.00</text>
<rect x="1148.5" y="2395.84" width="50.44" height="13.37" fill="#ffffff" stroke="#333" stroke-width="0.6"/>
<text x="1173.72" y="2404.93" font-size="6.6" text-anchor="middle" fill="#222">0.00</text>
<text x="1202.4" y="2405.63" font-size="8.8" fill="#111">MLH1</text>
<rect x="795.45" y="2409.21" width="50.44" height="13.37" fill="#ffffff" stroke="#333" stroke-width="0.6"/>
<text x="820.66" y="2418.3" font-size="6.6" text-anchor="middle" fill="#222">0.00</text>
<rect x="845.88" y="2409.21" width="50.44" height="13.37" fill="#ffffff" stroke="#333" stroke-width="0.6"/>
<text x="871.1" y="2418.3" font-size="6.6" text-anchor="middle" fill="#222">0.00</text>
<rect x="896.32" y="2409.21" width="50.44" height="13.37" fill="#ffffff" stroke="#333" stroke-width="0.6"/>
<text x="921.54" y="2418.3" font-size="6.6" text-anchor="middle" fill="#222">0.00</text>
<rect x="946.76" y="2409.21" width="50.44" height="13.37" fill="#ffffff" stroke="#333" stroke-width="0.6"/>
<text x="971.98" y="2418.3" font-size="6.6" text-anchor="middle" fill="#222">0.00</text>
<rect x="997.19" y="2409.21" width="50.44" height="13.37" fill="#ffffff" stroke="#333" stroke-width="0.6"/>
<text x="1022.41" y="2418.3" font-size="6.6" text-anchor="middle" fill="#222">0.00</text>
<rect x="1047.63" y="2409.21" width="50.44" height="13.37" fill="#ffffff" stroke="#333" stroke-width="0.6"/>
<text x="1072.85" y="2418.3" font-size="6.6" text-anchor="middle" fill="#222">0.00</text>
<rect x="1098.07" y="2409.21" width="50.44" height="13.37" fill="#ffffff" stroke="#333" stroke-width="0.6"/>
<text x="1123.29" y="2418.3" font-size="6.6" text-anchor="middle" fill="#222">0.00</text>
<rect x="1148.5" y="2409.21" width="50.44" height="13.37" fill="#ffffff" stroke="#333" stroke-width="0.6"/>
<text x="1173.72" y="2418.3" font-size="6.6" text-anchor="middle" fill="#222">0.00</text>
<text x="1202.4" y="2419" font-size="8.8" fill="#111">PBRM1</text>
<rect x="795.45" y="2422.59" width="50.44" height="13.37" fill="#ffffff" stroke="#333" stroke-width="0.6"/>
<text x="820.66" y="2431.67" font-size="6.6" text-anchor="middle" fill="#222">0.00</text>
<rect x="845.88" y="2422.59" width="50.44" height="13.37" fill="#ffffff" stroke="#333" stroke-width="0.6"/>
<text x="871.1" y="2431.67" font-size="6.6" text-anchor="middle" fill="#222">0.00</text>
<rect x="896.32" y="2422.59" width="50.44" height="13.37" fill="#ffffff" stroke="#333" stroke-width="0.6"/>
<text x="921.54" y="2431.67" font-size="6.6" text-anchor="middle" fill="#222">0.00</text>
<rect x="946.76" y="2422.59" width="50.44" height="13.37" fill="#ffffff" stroke="#333" stroke-width="0.6"/>
<text x="971.98" y="2431.67" font-size="6.6" text-anchor="middle" fill="#222">0.00</text>
<rect x="997.19" y="2422.59" width="50.44" height="13.37" fill="#ffffff" stroke="#333" stroke-width="0.6"/>
<text x="1022.41" y="2431.67" font-size="6.6" text-anchor="middle" fill="#222">0.00</text>
<rect x="1047.63" y="2422.59" width="50.44" height="13.37" fill="#ffffff" stroke="#333" stroke-width="0.6"/>
<text x="1072.85" y="2431.67" font-size="6.6" text-anchor="middle" fill="#222">0.00</text>
<rect x="1098.07" y="2422.59" width="50.44" height="13.37" fill="#ffffff" stroke="#333" stroke-width="0.6"/>
<text x="1123.29" y="2431.67" font-size="6.6" text-anchor="middle" fill="#222">0.00</text>
<rect x="1148.5" y="2422.59" width="50.44" height="13.37" fill="#ffffff" stroke="#333" stroke-width="0.6"/>
<text x="1173.72" y="2431.67" font-size="6.6" text-anchor="middle" fill="#222">0.00</text>
<text x="1202.4" y="2432.37" font-size="8.8" fill="#111">RHOA</text>
<rect x="795.45" y="2435.96" width="50.44" height="13.37" fill="#ffffff" stroke="#333" stroke-width="0.6"/>
<text x="820.66" y="2445.04" font-size="6.6" text-anchor="middle" fill="#222">0.00</text>
<rect x="845.88" y="2435.96" width="50.44" height="13.37" fill="#ffffff" stroke="#333" stroke-width="0.6"/>
<text x="871.1" y="2445.04" font-size="6.6" text-anchor="middle" fill="#222">0.00</text>
<rect x="896.32" y="2435.96" width="50.44" height="13.37" fill="#ffffff" stroke="#333" stroke-width="0.6"/>
<text x="921.54" y="2445.04" font-size="6.6" text-anchor="middle" fill="#222">0.00</text>
<rect x="946.76" y="2435.96" width="50.44" height="13.37" fill="#ffffff" stroke="#333" stroke-width="0.6"/>
<text x="971.98" y="2445.04" font-size="6.6" text-anchor="middle" fill="#222">0.00</text>
<rect x="997.19" y="2435.96" width="50.44" height="13.37" fill="#ffffff" stroke="#333" stroke-width="0.6"/>
<text x="1022.41" y="2445.04" font-size="6.6" text-anchor="middle" fill="#222">0.00</text>
<rect x="1047.63" y="2435.96" width="50.44" height="13.37" fill="#ffffff" stroke="#333" stroke-width="0.6"/>
<text x="1072.85" y="2445.04" font-size="6.6" text-anchor="middle" fill="#222">0.00</text>
<rect x="1098.07" y="2435.96" width="50.44" height="13.37" fill="#ffffff" stroke="#333" stroke-width="0.6"/>
<text x="1123.29" y="2445.04" font-size="6.6" text-anchor="middle" fill="#222">0.00</text>
<rect x="1148.5" y="2435.96" width="50.44" height="13.37" fill="#ffffff" stroke="#333" stroke-width="0.6"/>
<text x="1173.72" y="2445.04" font-size="6.6" text-anchor="middle" fill="#222">0.00</text>
<text x="1202.4" y="2445.74" font-size="8.8" fill="#111">SETD2</text>
<rect x="795.45" y="2449.33" width="50.44" height="13.37" fill="#ffffff" stroke="#333" stroke-width="0.6"/>
<text x="820.66" y="2458.41" font-size="6.6" text-anchor="middle" fill="#222">0.00</text>
<rect x="845.88" y="2449.33" width="50.44" height="13.37" fill="#ffffff" stroke="#333" stroke-width="0.6"/>
<text x="871.1" y="2458.41" font-size="6.6" text-anchor="middle" fill="#222">0.00</text>
<rect x="896.32" y="2449.33" width="50.44" height="13.37" fill="#ffffff" stroke="#333" stroke-width="0.6"/>
<text x="921.54" y="2458.41" font-size="6.6" text-anchor="middle" fill="#222">0.00</text>
<rect x="946.76" y="2449.33" width="50.44" height="13.37" fill="#ffffff" stroke="#333" stroke-width="0.6"/>
<text x="971.98" y="2458.41" font-size="6.6" text-anchor="middle" fill="#222">0.00</text>
<rect x="997.19" y="2449.33" width="50.44" height="13.37" fill="#ffffff" stroke="#333" stroke-width="0.6"/>
<text x="1022.41" y="2458.41" font-size="6.6" text-anchor="middle" fill="#222">0.00</text>
<rect x="1047.63" y="2449.33" width="50.44" height="13.37" fill="#ffffff" stroke="#333" stroke-width="0.6"/>
<text x="1072.85" y="2458.41" font-size="6.6" text-anchor="middle" fill="#222">0.00</text>
<rect x="1098.07" y="2449.33" width="50.44" height="13.37" fill="#ffffff" stroke="#333" stroke-width="0.6"/>
<text x="1123.29" y="2458.41" font-size="6.6" text-anchor="middle" fill="#222">0.00</text>
<rect x="1148.5" y="2449.33" width="50.44" height="13.37" fill="#ffffff" stroke="#333" stroke-width="0.6"/>
<text x="1173.72" y="2458.41" font-size="6.6" text-anchor="middle" fill="#222">0.00</text>
<text x="1202.4" y="2459.11" font-size="8.8" fill="#111">VHL</text>
<text x="1202.4" y="2203.65" font-size="8.8" font-weight="bold">DFS</text>
<text x="1202.4" y="2213.67" font-size="8.8" font-weight="bold">stage</text>
<text x="817.66" y="2467.5" font-size="8.8" fill="#111" transform="rotate(90 817.66 2467.5)">P6T</text>
<text x="868.1" y="2467.5" font-size="8.8" fill="#111" transform="rotate(90 868.1 2467.5)">P7T</text>
<text x="918.54" y="2467.5" font-size="8.8" fill="#111" transform="rotate(90 918.54 2467.5)">P9T</text>
<text x="968.98" y="2467.5" font-size="8.8" fill="#111" transform="rotate(90 968.98 2467.5)">P2T</text>
<text x="1019.41" y="2467.5" font-size="8.8" fill="#111" transform="rotate(90 1019.41 2467.5)">P1T</text>
<text x="1069.85" y="2467.5" font-size="8.8" fill="#111" transform="rotate(90 1069.85 2467.5)">P5T</text>
<text x="1120.29" y="2467.5" font-size="8.8" fill="#111" transform="rotate(90 1120.29 2467.5)">P3T</text>
<text x="1170.72" y="2467.5" font-size="8.8" fill="#111" transform="rotate(90 1170.72 2467.5)">P4T</text>
<defs><linearGradient id="hm" x1="0" y1="0" x2="0" y2="1"><stop offset="0" stop-color="#d73027"/><stop offset="0.5" stop-color="#ffffff"/><stop offset="1" stop-color="#141496"/></linearGradient></defs>
<rect x="1258.2" y="2194.1" width="8.5" height="133.7" fill="url(#hm)"/>
<text x="1270" y="2206.65" font-size="8.6" fill="#111">6</text>
<text x="1270" y="2226.23" font-size="8.6" fill="#111">4</text>
<text x="1270" y="2245.8" font-size="8.6" fill="#111">2</text>
<text x="1270" y="2264.9" font-size="8.6" fill="#111">0</text>
<text x="1270" y="2284" font-size="8.6" fill="#111">−2</text>
<text x="1270" y="2303.58" font-size="8.6" fill="#111">−4</text>
<text x="1270" y="2323.16" font-size="8.6" fill="#111">−6</text>
<text x="1283.5" y="2201" font-size="8.8" font-weight="bold">DFS</text>
<rect x="1283.5" y="2204" width="12.9" height="12.6" fill="#fff" stroke="#333" stroke-width="0.6"/>
<rect x="1283.5" y="2216.6" width="12.9" height="12.8" fill="#c1272d" stroke="#333" stroke-width="0.6"/>
<text x="1300.2" y="2215.2" font-size="7.8" fill="#111">Yes</text>
<text x="1300.2" y="2228.2" font-size="7.8" fill="#111">No</text>
<text x="1283.5" y="2246.2" font-size="8.8" font-weight="bold">stage</text>
<rect x="1283.5" y="2249" width="12.9" height="12.9" fill="#1b9e77" stroke="#333" stroke-width="0.6"/>
<text x="1299.4" y="2258.4" font-size="7.8" fill="#111">I</text>
<rect x="1283.5" y="2261.9" width="12.9" height="12.9" fill="#d95f02" stroke="#333" stroke-width="0.6"/>
<text x="1299.4" y="2271.3" font-size="7.8" fill="#111">II</text>
<rect x="1283.5" y="2274.8" width="12.9" height="12.9" fill="#ffff33" stroke="#333" stroke-width="0.6"/>
<text x="1299.4" y="2284.2" font-size="7.8" fill="#111">III</text></g>
</svg>
</body></html>
